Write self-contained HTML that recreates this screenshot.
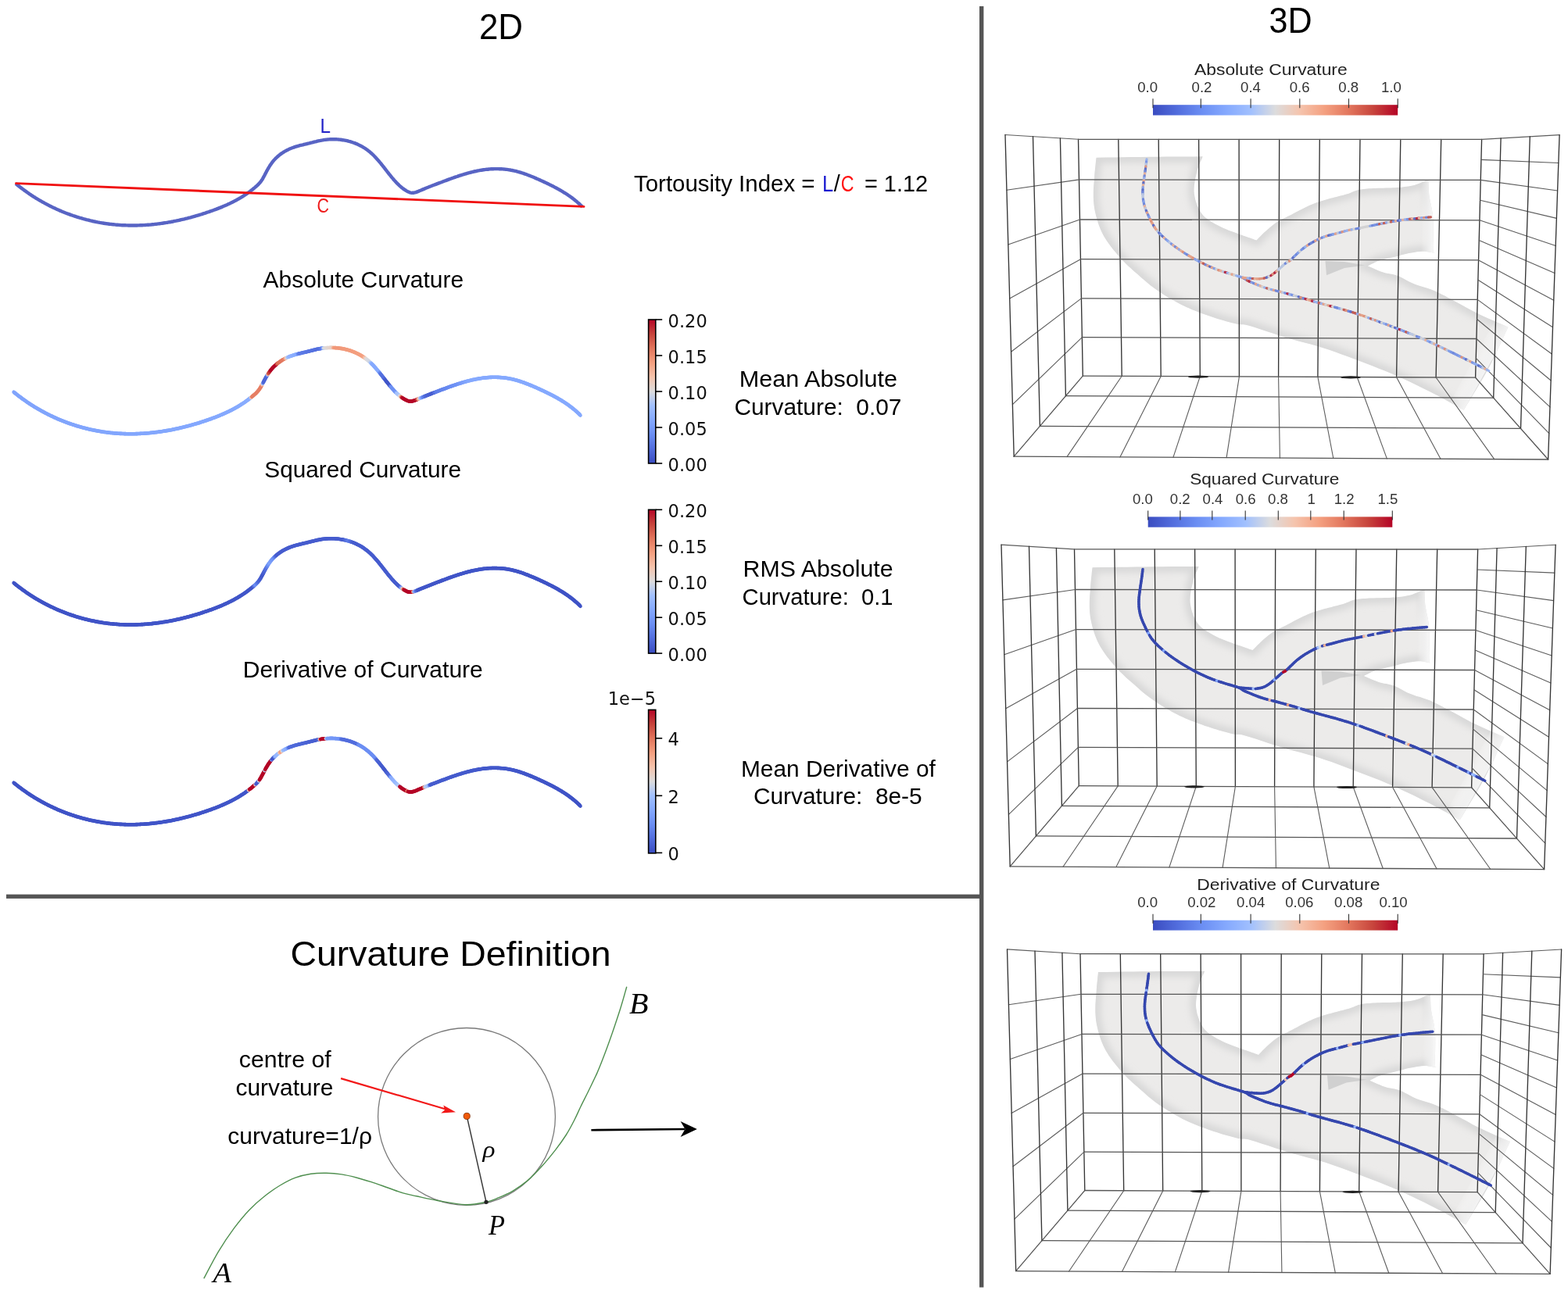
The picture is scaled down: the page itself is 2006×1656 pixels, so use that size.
<!DOCTYPE html><html><head><meta charset="utf-8"><style>html,body{margin:0;padding:0;background:#fff;width:2006px;height:1656px;overflow:hidden}svg{display:block}</style></head><body><svg xmlns="http://www.w3.org/2000/svg" width="2006" height="1656" viewBox="0 0 2006 1656"><defs><linearGradient id="cbv" x1="0" y1="1" x2="0" y2="0"><stop offset="0.00" stop-color="#3a4cc0"/><stop offset="0.10" stop-color="#526ddd"/><stop offset="0.20" stop-color="#6b8ef3"/><stop offset="0.30" stop-color="#85a9fe"/><stop offset="0.40" stop-color="#a1c0fe"/><stop offset="0.50" stop-color="#dcdcdd"/><stop offset="0.60" stop-color="#f5c4ad"/><stop offset="0.70" stop-color="#f4a080"/><stop offset="0.80" stop-color="#e2765d"/><stop offset="0.90" stop-color="#c7443c"/><stop offset="1.00" stop-color="#b40426"/></linearGradient><filter id="bl" x="-10%" y="-10%" width="120%" height="120%"><feGaussianBlur stdDeviation="4"/></filter><linearGradient id="cbh" x1="0" y1="0" x2="1" y2="0"><stop offset="0.00" stop-color="#3a4cc0"/><stop offset="0.10" stop-color="#526ddd"/><stop offset="0.20" stop-color="#6b8ef3"/><stop offset="0.30" stop-color="#85a9fe"/><stop offset="0.40" stop-color="#a1c0fe"/><stop offset="0.50" stop-color="#dcdcdd"/><stop offset="0.60" stop-color="#f5c4ad"/><stop offset="0.70" stop-color="#f4a080"/><stop offset="0.80" stop-color="#e2765d"/><stop offset="0.90" stop-color="#c7443c"/><stop offset="1.00" stop-color="#b40426"/></linearGradient><clipPath id="tclip"><path d="M1402.5,201.7 L1413.7,201.5 L1425.0,201.4 L1436.2,201.2 L1447.4,201.1 L1458.7,200.9 L1470.0,200.8 L1481.4,200.7 L1492.8,200.6 L1504.3,200.5 L1515.8,200.5 L1527.2,200.4 L1538.7,200.3 L1537.6,202.9 L1536.5,205.4 L1535.3,207.9 L1534.2,210.5 L1533.2,213.2 L1532.2,216.2 L1531.3,219.6 L1530.4,223.3 L1529.5,227.2 L1528.8,231.1 L1528.2,234.7 L1527.8,238.0 L1527.6,240.8 L1527.5,243.4 L1527.6,245.7 L1527.8,247.9 L1528.2,250.2 L1528.6,252.5 L1529.1,255.0 L1529.8,257.4 L1530.6,259.9 L1531.5,262.4 L1532.5,264.8 L1533.6,267.0 L1534.7,269.1 L1535.8,271.1 L1537.1,273.0 L1538.5,274.8 L1540.2,276.7 L1542.3,278.6 L1544.8,280.6 L1547.7,282.5 L1550.9,284.5 L1554.3,286.5 L1557.8,288.3 L1561.2,290.1 L1564.7,291.8 L1568.5,293.3 L1572.3,294.9 L1576.1,296.3 L1579.7,297.6 L1582.9,298.8 L1585.8,299.9 L1588.4,300.8 L1590.9,301.7 L1593.2,302.4 L1595.3,303.2 L1597.4,303.9 L1599.3,304.6 L1601.1,305.2 L1602.7,305.8 L1604.3,306.4 L1605.9,306.9 L1607.5,307.5 L1609.4,305.6 L1611.3,303.6 L1613.1,301.7 L1615.0,299.8 L1617.0,297.8 L1619.1,295.9 L1621.3,293.9 L1623.6,291.9 L1626.0,289.9 L1628.5,287.9 L1631.0,286.1 L1633.6,284.3 L1636.2,282.7 L1639.0,281.2 L1641.8,279.8 L1644.6,278.5 L1647.3,277.1 L1650.0,275.8 L1652.6,274.4 L1655.1,273.1 L1657.5,271.8 L1660.0,270.4 L1662.4,269.2 L1664.9,267.9 L1667.4,266.7 L1669.9,265.4 L1672.4,264.2 L1674.9,263.1 L1677.4,261.9 L1679.9,260.9 L1682.4,259.9 L1684.9,259.0 L1687.4,258.2 L1689.8,257.4 L1692.3,256.7 L1694.8,255.9 L1697.3,255.2 L1699.8,254.5 L1702.3,253.8 L1704.8,253.2 L1707.3,252.6 L1709.8,251.9 L1712.3,251.2 L1715.0,250.6 L1717.6,249.9 L1720.1,249.2 L1722.5,248.6 L1724.7,247.9 L1726.7,247.2 L1728.4,246.5 L1730.0,245.8 L1731.5,245.1 L1733.1,244.5 L1734.7,243.9 L1736.3,243.4 L1737.9,243.0 L1739.4,242.7 L1741.0,242.4 L1742.7,242.2 L1744.7,241.9 L1746.8,241.7 L1749.1,241.5 L1751.5,241.3 L1754.1,241.2 L1756.8,241.0 L1759.6,240.9 L1762.7,240.8 L1766.1,240.7 L1769.6,240.7 L1773.1,240.6 L1776.5,240.5 L1779.6,240.4 L1782.4,240.3 L1784.9,240.2 L1787.4,240.0 L1789.7,239.9 L1792.1,239.7 L1794.5,239.4 L1797.0,239.1 L1799.5,238.8 L1802.0,238.5 L1804.5,238.0 L1807.0,237.5 L1809.5,236.9 L1812.1,236.1 L1814.9,235.0 L1817.7,233.9 L1820.3,232.7 L1822.6,231.7 L1824.4,231.0 L1825.6,230.5 L1826.3,230.3 L1826.6,230.2 L1826.8,230.2 L1827.0,230.1 L1827.4,230.0 L1827.5,233.2 L1827.6,236.3 L1827.7,239.3 L1827.8,242.5 L1828.0,246.0 L1828.4,249.9 L1829.1,254.2 L1830.0,258.8 L1831.0,263.6 L1832.0,268.7 L1832.8,274.1 L1833.4,279.8 L1833.7,286.3 L1833.7,293.7 L1833.6,301.4 L1833.4,308.7 L1833.3,315.0 L1833.4,319.7 L1833.6,322.4 L1833.9,323.7 L1834.3,323.9 L1834.7,323.7 L1835.0,323.4 L1835.4,323.7 L1832.8,323.3 L1830.3,322.8 L1827.7,322.4 L1825.1,322.0 L1822.4,321.7 L1819.5,321.7 L1816.3,321.9 L1812.8,322.3 L1809.2,322.9 L1805.7,323.5 L1802.4,324.1 L1799.5,324.7 L1797.2,325.2 L1795.4,325.7 L1793.8,326.1 L1792.2,326.6 L1790.2,327.2 L1787.7,327.9 L1784.4,328.7 L1780.5,329.5 L1776.3,330.5 L1772.1,331.4 L1768.1,332.5 L1764.6,333.5 L1761.7,334.6 L1759.1,335.7 L1756.7,336.9 L1754.4,338.1 L1752.2,339.2 L1749.8,340.4 L1753.1,341.8 L1756.5,343.3 L1759.8,344.8 L1763.1,346.2 L1766.4,347.5 L1769.6,348.6 L1772.7,349.5 L1775.6,350.1 L1778.5,350.5 L1781.5,351.1 L1784.5,351.8 L1787.7,352.8 L1791.1,354.2 L1794.6,356.0 L1798.2,357.9 L1801.8,359.9 L1805.6,361.8 L1809.5,363.5 L1813.5,365.0 L1817.5,366.3 L1821.7,367.5 L1825.9,368.8 L1830.3,370.3 L1834.7,372.0 L1839.2,374.1 L1843.9,376.4 L1848.7,378.8 L1853.5,381.4 L1858.3,384.0 L1863.1,386.5 L1867.7,389.0 L1872.2,391.4 L1876.7,393.9 L1881.3,396.5 L1886.2,399.1 L1891.5,401.7 L1897.3,404.4 L1903.4,407.2 L1909.9,410.1 L1916.4,413.0 L1923.0,415.8 L1929.4,418.7 L1925.4,427.2 L1921.6,435.7 L1917.7,444.1 L1913.7,452.6 L1909.5,461.2 L1905.0,470.0 L1900.1,478.9 L1894.8,488.0 L1889.3,497.2 L1883.7,506.4 L1878.1,515.6 L1872.6,524.8 L1866.4,521.4 L1860.3,517.9 L1854.2,514.5 L1848.0,511.1 L1841.6,507.6 L1834.7,504.0 L1827.3,500.3 L1819.6,496.4 L1811.6,492.5 L1803.4,488.6 L1795.3,484.8 L1787.3,481.2 L1779.4,477.8 L1771.5,474.5 L1763.6,471.4 L1755.8,468.3 L1747.9,465.3 L1740.0,462.3 L1732.1,459.3 L1724.2,456.3 L1716.3,453.4 L1708.4,450.5 L1700.5,447.8 L1692.6,445.2 L1684.7,442.8 L1676.8,440.6 L1668.9,438.5 L1661.0,436.4 L1653.1,434.3 L1645.2,432.0 L1636.9,429.4 L1628.2,426.6 L1619.5,423.7 L1611.3,421.0 L1603.9,418.6 L1597.9,416.8 L1593.6,415.7 L1590.8,415.3 L1588.8,415.2 L1587.2,415.3 L1585.4,415.2 L1582.9,414.8 L1579.7,414.1 L1576.2,413.2 L1572.5,412.2 L1568.7,411.2 L1564.9,410.1 L1561.2,409.0 L1557.6,407.9 L1553.9,406.7 L1550.3,405.5 L1546.7,404.3 L1543.0,403.0 L1539.4,401.7 L1535.8,400.4 L1532.2,399.0 L1528.5,397.6 L1524.9,396.2 L1521.3,394.6 L1517.7,393.0 L1514.1,391.3 L1510.4,389.5 L1506.8,387.6 L1503.2,385.6 L1499.5,383.5 L1495.9,381.4 L1492.2,379.2 L1488.6,376.9 L1484.9,374.5 L1481.2,372.0 L1477.6,369.5 L1474.2,367.0 L1470.9,364.4 L1467.7,361.8 L1464.5,359.1 L1461.5,356.4 L1458.4,353.7 L1455.4,351.0 L1452.4,348.4 L1449.5,345.9 L1446.6,343.3 L1443.7,340.7 L1440.9,338.0 L1438.0,335.1 L1435.0,332.0 L1432.0,328.6 L1428.9,325.1 L1426.0,321.6 L1423.2,318.2 L1420.6,314.8 L1418.3,311.6 L1416.1,308.5 L1414.2,305.4 L1412.3,302.4 L1410.6,299.2 L1409.0,295.9 L1407.5,292.4 L1406.1,288.9 L1404.8,285.2 L1403.6,281.5 L1402.6,277.8 L1401.7,274.2 L1400.9,270.7 L1400.2,267.2 L1399.7,263.8 L1399.3,260.3 L1399.0,256.5 L1398.8,252.5 L1398.8,248.0 L1398.9,243.1 L1399.2,238.0 L1399.6,232.9 L1400.0,228.0 L1400.3,223.5 L1400.6,219.4 L1401.0,215.7 L1401.4,212.2 L1401.7,208.7 L1402.1,205.3Z"/></clipPath><linearGradient id="capg1" gradientUnits="userSpaceOnUse" x1="1880" y1="461" x2="1903" y2="473.5"><stop offset="0" stop-color="#fff" stop-opacity="0"/><stop offset="1" stop-color="#fafafa" stop-opacity="0.85"/></linearGradient><linearGradient id="capg2" gradientUnits="userSpaceOnUse" x1="1818" y1="0" x2="1832" y2="0"><stop offset="0" stop-color="#fff" stop-opacity="0"/><stop offset="1" stop-color="#fafafa" stop-opacity="0.85"/></linearGradient></defs><rect width="100%" height="100%" fill="#fff"/><rect x="1253" y="8" width="5.4" height="1639.5" fill="#555"/>
<rect x="8" y="1144.6" width="1247" height="5.3" fill="#555"/>
<text x="612.9" y="50.3" font-size="47.0" fill="#000" font-family="Liberation Sans, Arial, sans-serif" textLength="56.1" lengthAdjust="spacingAndGlyphs" >2D</text>
<text x="1623.5" y="42.0" font-size="47.0" fill="#000" font-family="Liberation Sans, Arial, sans-serif" textLength="55.1" lengthAdjust="spacingAndGlyphs" >3D</text>
<path d="M20.1,235.0 L21.2,235.9 L22.2,236.7 L23.3,237.6 L24.4,238.4 L25.4,239.3 L26.5,240.1 L27.6,240.9 L28.7,241.7 L29.8,242.5 L30.9,243.4 L32.0,244.2 L33.1,244.9 L34.2,245.7 L35.3,246.5 L36.4,247.3 L37.5,248.1 L38.7,248.8 L39.8,249.6 L40.9,250.3 L42.1,251.1 L43.2,251.8 L44.4,252.5 L45.5,253.3 L46.7,254.0 L47.8,254.7 L49.0,255.4 L50.2,256.1 L51.4,256.8 L52.5,257.4 L53.7,258.1 L54.9,258.8 L56.1,259.4 L57.3,260.1 L58.5,260.7 L59.7,261.4 L60.9,262.0 L62.1,262.6 L63.3,263.3 L64.6,263.9 L65.8,264.5 L67.0,265.1 L68.2,265.7 L69.5,266.2 L70.7,266.8 L71.9,267.4 L73.2,268.0 L74.4,268.5 L75.7,269.1 L76.9,269.6 L78.2,270.1 L79.4,270.7 L80.7,271.2 L82.0,271.7 L83.2,272.2 L84.5,272.7 L85.8,273.2 L87.0,273.7 L88.3,274.1 L89.6,274.6 L90.9,275.1 L92.2,275.5 L93.5,276.0 L94.8,276.4 L96.1,276.8 L97.3,277.2 L98.6,277.7 L99.9,278.1 L101.3,278.5 L102.6,278.9 L103.9,279.2 L105.2,279.6 L106.5,280.0 L107.8,280.4 L109.1,280.7 L110.4,281.1 L111.8,281.4 L113.1,281.7 L114.4,282.0 L115.7,282.4 L117.1,282.7 L118.4,283.0 L119.7,283.3 L121.0,283.5 L122.4,283.8 L123.7,284.1 L125.1,284.4 L126.4,284.6 L127.7,284.9 L129.1,285.1 L130.4,285.3 L131.8,285.5 L133.1,285.8 L134.5,286.0 L135.8,286.2 L137.2,286.3 L138.5,286.5 L139.9,286.7 L141.2,286.9 L142.6,287.0 L143.9,287.2 L145.3,287.3 L146.6,287.4 L148.0,287.6 L149.3,287.7 L150.7,287.8 L152.0,287.9 L153.4,288.0 L154.8,288.1 L156.1,288.2 L157.5,288.2 L158.8,288.3 L160.2,288.3 L161.6,288.4 L162.9,288.4 L164.3,288.5 L165.7,288.5 L167.0,288.5 L168.4,288.5 L169.7,288.5 L171.1,288.5 L172.5,288.5 L173.8,288.5 L175.2,288.5 L176.6,288.4 L177.9,288.4 L179.3,288.3 L180.6,288.3 L182.0,288.2 L183.4,288.1 L184.7,288.1 L186.1,288.0 L187.4,287.9 L188.8,287.8 L190.2,287.7 L191.5,287.6 L192.9,287.5 L194.2,287.3 L195.6,287.2 L196.9,287.1 L198.3,286.9 L199.7,286.8 L201.0,286.6 L202.4,286.4 L203.7,286.3 L205.1,286.1 L206.4,285.9 L207.8,285.7 L209.1,285.5 L210.5,285.3 L211.8,285.1 L213.1,284.9 L214.5,284.7 L215.8,284.4 L217.2,284.2 L218.5,284.0 L219.8,283.7 L221.2,283.5 L222.5,283.2 L223.9,282.9 L225.2,282.7 L226.5,282.4 L227.9,282.1 L229.2,281.8 L230.5,281.5 L231.8,281.2 L233.2,280.9 L234.5,280.6 L235.8,280.3 L237.2,279.9 L238.5,279.6 L239.8,279.3 L241.1,278.9 L242.4,278.6 L243.8,278.3 L245.1,277.9 L246.4,277.5 L247.7,277.2 L249.0,276.8 L250.3,276.4 L251.6,276.0 L252.9,275.7 L254.2,275.3 L255.5,274.9 L256.9,274.5 L258.2,274.1 L259.5,273.6 L260.8,273.2 L262.1,272.8 L263.3,272.4 L264.6,271.9 L265.9,271.5 L267.2,271.1 L268.5,270.6 L269.8,270.2 L271.1,269.7 L272.4,269.3 L273.7,268.8 L274.9,268.3 L276.2,267.9 L277.5,267.4 L278.8,266.9 L280.0,266.4 L281.3,265.9 L282.6,265.4 L283.8,264.9 L285.1,264.3 L286.3,263.8 L287.6,263.3 L288.8,262.7 L290.1,262.2 L291.3,261.6 L292.6,261.0 L293.8,260.5 L295.0,259.9 L296.2,259.3 L297.4,258.7 L298.7,258.1 L299.9,257.4 L301.1,256.8 L302.3,256.2 L303.4,255.5 L304.6,254.8 L305.8,254.2 L307.0,253.5 L308.1,252.8 L309.3,252.1 L310.5,251.3 L311.6,250.6 L312.7,249.9 L313.9,249.1 L315.0,248.4 L316.1,247.6 L317.2,246.8 L318.4,246.0 L319.5,245.2 L320.5,244.4 L321.6,243.5 L322.7,242.7 L323.8,241.9 L324.8,241.0 L325.9,240.1 L326.9,239.2 L328.0,238.3 L329.0,237.4 L330.0,236.5 L330.9,235.5 L331.8,234.5 L332.7,233.5 L333.6,232.4 L334.4,231.3 L335.1,230.2 L335.9,229.1 L336.5,227.9 L337.2,226.7 L337.8,225.5 L338.5,224.3 L339.1,223.1 L339.7,221.9 L340.4,220.6 L341.0,219.4 L341.7,218.2 L342.3,217.0 L343.0,215.8 L343.7,214.7 L344.4,213.5 L345.1,212.3 L345.8,211.2 L346.6,210.1 L347.4,209.0 L348.2,207.9 L349.0,206.8 L349.9,205.8 L350.7,204.7 L351.7,203.7 L352.6,202.7 L353.6,201.8 L354.6,200.9 L355.6,200.0 L356.6,199.1 L357.7,198.2 L358.8,197.4 L359.9,196.6 L361.0,195.8 L362.2,195.1 L363.3,194.3 L364.5,193.6 L365.7,193.0 L366.9,192.3 L368.2,191.7 L369.4,191.1 L370.6,190.5 L371.9,190.0 L373.2,189.5 L374.4,189.0 L375.7,188.6 L377.0,188.1 L378.3,187.7 L379.6,187.3 L380.9,186.9 L382.2,186.6 L383.5,186.2 L384.8,185.9 L386.1,185.6 L387.5,185.3 L388.8,184.9 L390.1,184.6 L391.4,184.3 L392.8,184.0 L394.1,183.7 L395.4,183.4 L396.7,183.0 L398.0,182.7 L399.4,182.4 L400.7,182.0 L402.0,181.7 L403.3,181.4 L404.7,181.1 L406.0,180.7 L407.3,180.4 L408.6,180.1 L410.0,179.9 L411.3,179.6 L412.7,179.4 L414.0,179.1 L415.3,178.9 L416.7,178.8 L418.1,178.6 L419.4,178.5 L420.8,178.4 L422.2,178.3 L423.5,178.3 L424.9,178.2 L426.3,178.2 L427.6,178.2 L429.0,178.3 L430.4,178.3 L431.8,178.4 L433.1,178.5 L434.5,178.6 L435.9,178.8 L437.2,179.0 L438.6,179.2 L439.9,179.4 L441.3,179.6 L442.6,179.9 L444.0,180.2 L445.3,180.5 L446.6,180.9 L447.9,181.2 L449.2,181.6 L450.5,182.0 L451.8,182.5 L453.1,182.9 L454.4,183.4 L455.6,183.9 L456.9,184.4 L458.1,185.0 L459.3,185.6 L460.5,186.2 L461.7,186.8 L462.9,187.4 L464.1,188.1 L465.3,188.8 L466.4,189.5 L467.5,190.2 L468.6,191.0 L469.7,191.8 L470.8,192.6 L471.8,193.4 L472.9,194.2 L473.9,195.1 L474.9,196.0 L475.9,196.9 L476.9,197.8 L477.9,198.8 L478.8,199.7 L479.8,200.7 L480.7,201.7 L481.6,202.7 L482.5,203.7 L483.4,204.7 L484.3,205.8 L485.2,206.8 L486.1,207.9 L487.0,208.9 L487.8,210.0 L488.7,211.1 L489.6,212.2 L490.4,213.3 L491.3,214.3 L492.1,215.4 L493.0,216.5 L493.8,217.6 L494.7,218.7 L495.5,219.8 L496.4,220.9 L497.2,222.0 L498.1,223.1 L499.0,224.2 L499.8,225.2 L500.7,226.3 L501.6,227.4 L502.5,228.4 L503.3,229.4 L504.2,230.5 L505.2,231.5 L506.1,232.5 L507.0,233.5 L507.9,234.5 L508.9,235.4 L509.9,236.4 L510.8,237.3 L511.8,238.2 L512.9,239.1 L513.9,240.0 L514.9,240.8 L516.0,241.6 L517.1,242.4 L518.3,243.2 L519.4,243.9 L520.6,244.6 L521.8,245.2 L523.1,245.8 L524.3,246.3 L525.6,246.6 L526.9,246.8 L528.2,246.8 L529.5,246.7 L530.8,246.4 L532.0,246.1 L533.3,245.6 L534.6,245.1 L535.9,244.6 L537.2,244.0 L538.5,243.5 L539.8,242.9 L541.1,242.4 L542.4,241.9 L543.7,241.3 L544.9,240.8 L546.2,240.3 L547.5,239.8 L548.7,239.3 L550.0,238.8 L551.3,238.3 L552.5,237.8 L553.8,237.3 L555.1,236.8 L556.3,236.3 L557.6,235.9 L558.8,235.4 L560.1,234.9 L561.4,234.4 L562.6,233.9 L563.9,233.5 L565.2,233.0 L566.4,232.5 L567.7,232.0 L569.0,231.5 L570.2,231.1 L571.5,230.6 L572.8,230.1 L574.1,229.6 L575.3,229.2 L576.6,228.7 L577.9,228.2 L579.2,227.8 L580.5,227.3 L581.8,226.9 L583.1,226.4 L584.4,226.0 L585.6,225.6 L586.9,225.1 L588.2,224.7 L589.5,224.3 L590.8,223.9 L592.1,223.5 L593.4,223.1 L594.8,222.7 L596.1,222.3 L597.4,221.9 L598.7,221.5 L600.0,221.2 L601.3,220.8 L602.6,220.5 L604.0,220.2 L605.3,219.8 L606.6,219.5 L607.9,219.2 L609.3,219.0 L610.6,218.7 L612.0,218.4 L613.3,218.2 L614.6,217.9 L616.0,217.7 L617.3,217.5 L618.7,217.3 L620.0,217.1 L621.4,216.9 L622.7,216.8 L624.1,216.7 L625.5,216.5 L626.8,216.4 L628.2,216.3 L629.5,216.2 L630.9,216.2 L632.3,216.1 L633.6,216.1 L635.0,216.1 L636.4,216.1 L637.7,216.1 L639.1,216.2 L640.5,216.2 L641.8,216.3 L643.2,216.4 L644.6,216.5 L645.9,216.6 L647.3,216.8 L648.6,216.9 L650.0,217.1 L651.3,217.3 L652.6,217.5 L654.0,217.8 L655.3,218.0 L656.6,218.3 L658.0,218.6 L659.3,218.9 L660.6,219.2 L661.9,219.6 L663.2,219.9 L664.5,220.3 L665.8,220.7 L667.1,221.1 L668.4,221.5 L669.7,221.9 L671.0,222.4 L672.3,222.8 L673.6,223.3 L674.8,223.8 L676.1,224.3 L677.4,224.7 L678.7,225.3 L679.9,225.8 L681.2,226.3 L682.5,226.8 L683.7,227.3 L685.0,227.9 L686.2,228.4 L687.5,229.0 L688.8,229.5 L690.0,230.1 L691.3,230.6 L692.5,231.2 L693.8,231.8 L695.0,232.4 L696.2,232.9 L697.5,233.5 L698.7,234.1 L700.0,234.7 L701.2,235.3 L702.4,235.9 L703.6,236.5 L704.9,237.1 L706.1,237.7 L707.3,238.3 L708.5,238.9 L709.7,239.6 L710.9,240.2 L712.1,240.8 L713.3,241.5 L714.5,242.1 L715.7,242.8 L716.9,243.5 L718.0,244.2 L719.2,244.9 L720.4,245.6 L721.5,246.3 L722.7,247.0 L723.8,247.7 L725.0,248.5 L726.1,249.2 L727.2,250.0 L728.3,250.7 L729.4,251.5 L730.5,252.3 L731.6,253.1 L732.7,253.9 L733.8,254.8 L734.9,255.6 L735.9,256.5 L737.0,257.3 L738.0,258.2 L739.0,259.1 L740.1,260.0 L741.1,260.9 L742.1,261.9 L743.1,262.8 L744.1,263.8 L745.0,264.8" fill="none" stroke="#5864c4" stroke-width="4.4" stroke-linecap="butt" stroke-linejoin="round"/>
<line x1="20.5" y1="234.6" x2="747" y2="264.4" stroke="#f01010" stroke-width="2.9" stroke-linecap="round"/>
<text x="409.5" y="169.8" font-size="25.0" fill="#2222c8" font-family="Liberation Sans, Arial, sans-serif" textLength="13.5" lengthAdjust="spacingAndGlyphs" >L</text>
<text x="405.5" y="271.8" font-size="25.0" fill="#ee1c1c" font-family="Liberation Sans, Arial, sans-serif" textLength="15.5" lengthAdjust="spacingAndGlyphs" >C</text>
<g stroke-width="4.6" stroke-linecap="round"><line x1="17.6" y1="501.7" x2="18.7" y2="502.6" stroke="#80a4fc"/><line x1="18.7" y1="502.6" x2="19.7" y2="503.4" stroke="#80a4fc"/><line x1="19.7" y1="503.4" x2="20.8" y2="504.3" stroke="#80a4fc"/><line x1="20.8" y1="504.3" x2="21.9" y2="505.1" stroke="#80a4fc"/><line x1="21.9" y1="505.1" x2="22.9" y2="506.0" stroke="#80a4fc"/><line x1="22.9" y1="506.0" x2="24.0" y2="506.8" stroke="#80a4fc"/><line x1="24.0" y1="506.8" x2="25.1" y2="507.6" stroke="#80a4fc"/><line x1="25.1" y1="507.6" x2="26.2" y2="508.4" stroke="#80a4fc"/><line x1="26.2" y1="508.4" x2="27.3" y2="509.2" stroke="#80a4fc"/><line x1="27.3" y1="509.2" x2="28.4" y2="510.1" stroke="#80a4fc"/><line x1="28.4" y1="510.1" x2="29.5" y2="510.9" stroke="#80a4fc"/><line x1="29.5" y1="510.9" x2="30.6" y2="511.6" stroke="#80a4fc"/><line x1="30.6" y1="511.6" x2="31.7" y2="512.4" stroke="#80a4fc"/><line x1="31.7" y1="512.4" x2="32.8" y2="513.2" stroke="#80a4fc"/><line x1="32.8" y1="513.2" x2="33.9" y2="514.0" stroke="#80a4fc"/><line x1="33.9" y1="514.0" x2="35.0" y2="514.8" stroke="#80a4fc"/><line x1="35.0" y1="514.8" x2="36.2" y2="515.5" stroke="#80a4fc"/><line x1="36.2" y1="515.5" x2="37.3" y2="516.3" stroke="#80a4fc"/><line x1="37.3" y1="516.3" x2="38.4" y2="517.0" stroke="#80a4fc"/><line x1="38.4" y1="517.0" x2="39.6" y2="517.8" stroke="#80a4fc"/><line x1="39.6" y1="517.8" x2="40.7" y2="518.5" stroke="#80a4fc"/><line x1="40.7" y1="518.5" x2="41.9" y2="519.2" stroke="#81a4fc"/><line x1="41.9" y1="519.2" x2="43.0" y2="520.0" stroke="#81a4fc"/><line x1="43.0" y1="520.0" x2="44.2" y2="520.7" stroke="#81a4fc"/><line x1="44.2" y1="520.7" x2="45.3" y2="521.4" stroke="#81a4fc"/><line x1="45.3" y1="521.4" x2="46.5" y2="522.1" stroke="#81a4fc"/><line x1="46.5" y1="522.1" x2="47.7" y2="522.8" stroke="#81a4fc"/><line x1="47.7" y1="522.8" x2="48.9" y2="523.5" stroke="#81a4fc"/><line x1="48.9" y1="523.5" x2="50.0" y2="524.1" stroke="#81a4fc"/><line x1="50.0" y1="524.1" x2="51.2" y2="524.8" stroke="#81a5fc"/><line x1="51.2" y1="524.8" x2="52.4" y2="525.5" stroke="#81a5fc"/><line x1="52.4" y1="525.5" x2="53.6" y2="526.1" stroke="#81a5fc"/><line x1="53.6" y1="526.1" x2="54.8" y2="526.8" stroke="#81a5fc"/><line x1="54.8" y1="526.8" x2="56.0" y2="527.4" stroke="#81a5fc"/><line x1="56.0" y1="527.4" x2="57.2" y2="528.1" stroke="#81a5fc"/><line x1="57.2" y1="528.1" x2="58.4" y2="528.7" stroke="#81a5fc"/><line x1="58.4" y1="528.7" x2="59.6" y2="529.3" stroke="#81a5fc"/><line x1="59.6" y1="529.3" x2="60.8" y2="530.0" stroke="#81a5fc"/><line x1="60.8" y1="530.0" x2="62.1" y2="530.6" stroke="#81a5fc"/><line x1="62.1" y1="530.6" x2="63.3" y2="531.2" stroke="#81a5fc"/><line x1="63.3" y1="531.2" x2="64.5" y2="531.8" stroke="#81a5fc"/><line x1="64.5" y1="531.8" x2="65.7" y2="532.4" stroke="#81a5fc"/><line x1="65.7" y1="532.4" x2="67.0" y2="532.9" stroke="#81a5fc"/><line x1="67.0" y1="532.9" x2="68.2" y2="533.5" stroke="#81a5fc"/><line x1="68.2" y1="533.5" x2="69.4" y2="534.1" stroke="#81a5fc"/><line x1="69.4" y1="534.1" x2="70.7" y2="534.7" stroke="#81a5fc"/><line x1="70.7" y1="534.7" x2="71.9" y2="535.2" stroke="#81a5fc"/><line x1="71.9" y1="535.2" x2="73.2" y2="535.8" stroke="#81a5fc"/><line x1="73.2" y1="535.8" x2="74.4" y2="536.3" stroke="#81a5fc"/><line x1="74.4" y1="536.3" x2="75.7" y2="536.8" stroke="#81a5fc"/><line x1="75.7" y1="536.8" x2="76.9" y2="537.4" stroke="#81a5fc"/><line x1="76.9" y1="537.4" x2="78.2" y2="537.9" stroke="#81a5fc"/><line x1="78.2" y1="537.9" x2="79.5" y2="538.4" stroke="#81a5fc"/><line x1="79.5" y1="538.4" x2="80.7" y2="538.9" stroke="#81a5fc"/><line x1="80.7" y1="538.9" x2="82.0" y2="539.4" stroke="#81a5fc"/><line x1="82.0" y1="539.4" x2="83.3" y2="539.9" stroke="#81a5fc"/><line x1="83.3" y1="539.9" x2="84.5" y2="540.4" stroke="#81a5fc"/><line x1="84.5" y1="540.4" x2="85.8" y2="540.8" stroke="#81a5fc"/><line x1="85.8" y1="540.8" x2="87.1" y2="541.3" stroke="#81a5fc"/><line x1="87.1" y1="541.3" x2="88.4" y2="541.8" stroke="#81a5fc"/><line x1="88.4" y1="541.8" x2="89.7" y2="542.2" stroke="#81a5fc"/><line x1="89.7" y1="542.2" x2="91.0" y2="542.7" stroke="#81a5fc"/><line x1="91.0" y1="542.7" x2="92.3" y2="543.1" stroke="#81a5fc"/><line x1="92.3" y1="543.1" x2="93.6" y2="543.5" stroke="#81a5fc"/><line x1="93.6" y1="543.5" x2="94.8" y2="543.9" stroke="#81a5fc"/><line x1="94.8" y1="543.9" x2="96.1" y2="544.4" stroke="#81a5fd"/><line x1="96.1" y1="544.4" x2="97.4" y2="544.8" stroke="#81a5fd"/><line x1="97.4" y1="544.8" x2="98.8" y2="545.2" stroke="#82a5fd"/><line x1="98.8" y1="545.2" x2="100.1" y2="545.6" stroke="#82a5fd"/><line x1="100.1" y1="545.6" x2="101.4" y2="545.9" stroke="#82a5fd"/><line x1="101.4" y1="545.9" x2="102.7" y2="546.3" stroke="#82a5fd"/><line x1="102.7" y1="546.3" x2="104.0" y2="546.7" stroke="#82a5fd"/><line x1="104.0" y1="546.7" x2="105.3" y2="547.1" stroke="#82a5fd"/><line x1="105.3" y1="547.1" x2="106.6" y2="547.4" stroke="#82a6fd"/><line x1="106.6" y1="547.4" x2="107.9" y2="547.8" stroke="#82a6fd"/><line x1="107.9" y1="547.8" x2="109.3" y2="548.1" stroke="#82a6fd"/><line x1="109.3" y1="548.1" x2="110.6" y2="548.4" stroke="#82a6fd"/><line x1="110.6" y1="548.4" x2="111.9" y2="548.7" stroke="#82a6fd"/><line x1="111.9" y1="548.7" x2="113.2" y2="549.1" stroke="#82a6fd"/><line x1="113.2" y1="549.1" x2="114.6" y2="549.4" stroke="#82a6fd"/><line x1="114.6" y1="549.4" x2="115.9" y2="549.7" stroke="#82a6fd"/><line x1="115.9" y1="549.7" x2="117.2" y2="550.0" stroke="#82a6fd"/><line x1="117.2" y1="550.0" x2="118.5" y2="550.2" stroke="#82a6fd"/><line x1="118.5" y1="550.2" x2="119.9" y2="550.5" stroke="#82a6fd"/><line x1="119.9" y1="550.5" x2="121.2" y2="550.8" stroke="#82a6fd"/><line x1="121.2" y1="550.8" x2="122.6" y2="551.1" stroke="#82a6fd"/><line x1="122.6" y1="551.1" x2="123.9" y2="551.3" stroke="#82a6fd"/><line x1="123.9" y1="551.3" x2="125.2" y2="551.6" stroke="#82a6fd"/><line x1="125.2" y1="551.6" x2="126.6" y2="551.8" stroke="#82a6fd"/><line x1="126.6" y1="551.8" x2="127.9" y2="552.0" stroke="#82a6fd"/><line x1="127.9" y1="552.0" x2="129.3" y2="552.2" stroke="#82a6fd"/><line x1="129.3" y1="552.2" x2="130.6" y2="552.5" stroke="#82a6fd"/><line x1="130.6" y1="552.5" x2="132.0" y2="552.7" stroke="#82a6fd"/><line x1="132.0" y1="552.7" x2="133.3" y2="552.9" stroke="#82a6fd"/><line x1="133.3" y1="552.9" x2="134.7" y2="553.0" stroke="#82a6fd"/><line x1="134.7" y1="553.0" x2="136.0" y2="553.2" stroke="#82a6fd"/><line x1="136.0" y1="553.2" x2="137.4" y2="553.4" stroke="#82a6fd"/><line x1="137.4" y1="553.4" x2="138.7" y2="553.6" stroke="#82a6fd"/><line x1="138.7" y1="553.6" x2="140.1" y2="553.7" stroke="#82a6fd"/><line x1="140.1" y1="553.7" x2="141.4" y2="553.9" stroke="#82a6fd"/><line x1="141.4" y1="553.9" x2="142.8" y2="554.0" stroke="#82a6fd"/><line x1="142.8" y1="554.0" x2="144.1" y2="554.1" stroke="#82a6fd"/><line x1="144.1" y1="554.1" x2="145.5" y2="554.3" stroke="#82a6fd"/><line x1="145.5" y1="554.3" x2="146.8" y2="554.4" stroke="#82a6fd"/><line x1="146.8" y1="554.4" x2="148.2" y2="554.5" stroke="#82a6fd"/><line x1="148.2" y1="554.5" x2="149.5" y2="554.6" stroke="#82a6fd"/><line x1="149.5" y1="554.6" x2="150.9" y2="554.7" stroke="#82a6fd"/><line x1="150.9" y1="554.7" x2="152.3" y2="554.8" stroke="#82a6fd"/><line x1="152.3" y1="554.8" x2="153.6" y2="554.9" stroke="#82a6fd"/><line x1="153.6" y1="554.9" x2="155.0" y2="554.9" stroke="#82a6fd"/><line x1="155.0" y1="554.9" x2="156.3" y2="555.0" stroke="#82a6fd"/><line x1="156.3" y1="555.0" x2="157.7" y2="555.0" stroke="#83a6fd"/><line x1="157.7" y1="555.0" x2="159.1" y2="555.1" stroke="#83a6fd"/><line x1="159.1" y1="555.1" x2="160.4" y2="555.1" stroke="#83a6fd"/><line x1="160.4" y1="555.1" x2="161.8" y2="555.2" stroke="#83a6fd"/><line x1="161.8" y1="555.2" x2="163.2" y2="555.2" stroke="#83a7fd"/><line x1="163.2" y1="555.2" x2="164.5" y2="555.2" stroke="#83a7fd"/><line x1="164.5" y1="555.2" x2="165.9" y2="555.2" stroke="#83a7fd"/><line x1="165.9" y1="555.2" x2="167.2" y2="555.2" stroke="#83a7fd"/><line x1="167.2" y1="555.2" x2="168.6" y2="555.2" stroke="#83a7fd"/><line x1="168.6" y1="555.2" x2="170.0" y2="555.2" stroke="#83a7fd"/><line x1="170.0" y1="555.2" x2="171.3" y2="555.2" stroke="#83a7fd"/><line x1="171.3" y1="555.2" x2="172.7" y2="555.2" stroke="#83a7fd"/><line x1="172.7" y1="555.2" x2="174.1" y2="555.1" stroke="#83a7fd"/><line x1="174.1" y1="555.1" x2="175.4" y2="555.1" stroke="#83a7fd"/><line x1="175.4" y1="555.1" x2="176.8" y2="555.0" stroke="#83a7fd"/><line x1="176.8" y1="555.0" x2="178.1" y2="555.0" stroke="#83a7fd"/><line x1="178.1" y1="555.0" x2="179.5" y2="554.9" stroke="#83a7fd"/><line x1="179.5" y1="554.9" x2="180.9" y2="554.8" stroke="#83a7fd"/><line x1="180.9" y1="554.8" x2="182.2" y2="554.8" stroke="#83a7fd"/><line x1="182.2" y1="554.8" x2="183.6" y2="554.7" stroke="#83a7fd"/><line x1="183.6" y1="554.7" x2="184.9" y2="554.6" stroke="#83a7fd"/><line x1="184.9" y1="554.6" x2="186.3" y2="554.5" stroke="#83a7fd"/><line x1="186.3" y1="554.5" x2="187.7" y2="554.4" stroke="#83a7fd"/><line x1="187.7" y1="554.4" x2="189.0" y2="554.3" stroke="#83a7fd"/><line x1="189.0" y1="554.3" x2="190.4" y2="554.2" stroke="#83a7fd"/><line x1="190.4" y1="554.2" x2="191.7" y2="554.0" stroke="#83a7fd"/><line x1="191.7" y1="554.0" x2="193.1" y2="553.9" stroke="#83a7fd"/><line x1="193.1" y1="553.9" x2="194.4" y2="553.8" stroke="#83a7fd"/><line x1="194.4" y1="553.8" x2="195.8" y2="553.6" stroke="#83a7fd"/><line x1="195.8" y1="553.6" x2="197.2" y2="553.5" stroke="#83a7fd"/><line x1="197.2" y1="553.5" x2="198.5" y2="553.3" stroke="#83a7fd"/><line x1="198.5" y1="553.3" x2="199.9" y2="553.1" stroke="#83a7fd"/><line x1="199.9" y1="553.1" x2="201.2" y2="553.0" stroke="#83a7fd"/><line x1="201.2" y1="553.0" x2="202.6" y2="552.8" stroke="#83a7fd"/><line x1="202.6" y1="552.8" x2="203.9" y2="552.6" stroke="#83a7fd"/><line x1="203.9" y1="552.6" x2="205.3" y2="552.4" stroke="#83a7fd"/><line x1="205.3" y1="552.4" x2="206.6" y2="552.2" stroke="#83a7fd"/><line x1="206.6" y1="552.2" x2="208.0" y2="552.0" stroke="#83a7fd"/><line x1="208.0" y1="552.0" x2="209.3" y2="551.8" stroke="#83a7fd"/><line x1="209.3" y1="551.8" x2="210.6" y2="551.6" stroke="#83a7fd"/><line x1="210.6" y1="551.6" x2="212.0" y2="551.4" stroke="#83a7fd"/><line x1="212.0" y1="551.4" x2="213.3" y2="551.1" stroke="#83a7fd"/><line x1="213.3" y1="551.1" x2="214.7" y2="550.9" stroke="#84a7fd"/><line x1="214.7" y1="550.9" x2="216.0" y2="550.7" stroke="#84a7fd"/><line x1="216.0" y1="550.7" x2="217.3" y2="550.4" stroke="#84a8fd"/><line x1="217.3" y1="550.4" x2="218.7" y2="550.2" stroke="#84a8fd"/><line x1="218.7" y1="550.2" x2="220.0" y2="549.9" stroke="#84a8fd"/><line x1="220.0" y1="549.9" x2="221.4" y2="549.6" stroke="#84a8fd"/><line x1="221.4" y1="549.6" x2="222.7" y2="549.4" stroke="#84a8fd"/><line x1="222.7" y1="549.4" x2="224.0" y2="549.1" stroke="#84a8fd"/><line x1="224.0" y1="549.1" x2="225.4" y2="548.8" stroke="#84a8fd"/><line x1="225.4" y1="548.8" x2="226.7" y2="548.5" stroke="#84a8fd"/><line x1="226.7" y1="548.5" x2="228.0" y2="548.2" stroke="#84a8fd"/><line x1="228.0" y1="548.2" x2="229.3" y2="547.9" stroke="#84a8fd"/><line x1="229.3" y1="547.9" x2="230.7" y2="547.6" stroke="#84a8fd"/><line x1="230.7" y1="547.6" x2="232.0" y2="547.3" stroke="#84a8fd"/><line x1="232.0" y1="547.3" x2="233.3" y2="547.0" stroke="#84a8fe"/><line x1="233.3" y1="547.0" x2="234.7" y2="546.6" stroke="#84a8fe"/><line x1="234.7" y1="546.6" x2="236.0" y2="546.3" stroke="#84a8fe"/><line x1="236.0" y1="546.3" x2="237.3" y2="546.0" stroke="#84a8fe"/><line x1="237.3" y1="546.0" x2="238.6" y2="545.6" stroke="#84a8fe"/><line x1="238.6" y1="545.6" x2="239.9" y2="545.3" stroke="#84a8fe"/><line x1="239.9" y1="545.3" x2="241.3" y2="545.0" stroke="#84a8fe"/><line x1="241.3" y1="545.0" x2="242.6" y2="544.6" stroke="#84a8fe"/><line x1="242.6" y1="544.6" x2="243.9" y2="544.2" stroke="#84a8fe"/><line x1="243.9" y1="544.2" x2="245.2" y2="543.9" stroke="#84a8fe"/><line x1="245.2" y1="543.9" x2="246.5" y2="543.5" stroke="#84a8fe"/><line x1="246.5" y1="543.5" x2="247.8" y2="543.1" stroke="#84a8fe"/><line x1="247.8" y1="543.1" x2="249.1" y2="542.7" stroke="#84a8fe"/><line x1="249.1" y1="542.7" x2="250.4" y2="542.4" stroke="#84a8fe"/><line x1="250.4" y1="542.4" x2="251.7" y2="542.0" stroke="#84a8fe"/><line x1="251.7" y1="542.0" x2="253.0" y2="541.6" stroke="#84a8fe"/><line x1="253.0" y1="541.6" x2="254.4" y2="541.2" stroke="#84a8fe"/><line x1="254.4" y1="541.2" x2="255.7" y2="540.8" stroke="#84a8fe"/><line x1="255.7" y1="540.8" x2="257.0" y2="540.3" stroke="#84a8fe"/><line x1="257.0" y1="540.3" x2="258.3" y2="539.9" stroke="#84a8fe"/><line x1="258.3" y1="539.9" x2="259.6" y2="539.5" stroke="#84a8fe"/><line x1="259.6" y1="539.5" x2="260.8" y2="539.1" stroke="#84a8fe"/><line x1="260.8" y1="539.1" x2="262.1" y2="538.6" stroke="#84a8fe"/><line x1="262.1" y1="538.6" x2="263.4" y2="538.2" stroke="#84a8fe"/><line x1="263.4" y1="538.2" x2="264.7" y2="537.8" stroke="#84a8fe"/><line x1="264.7" y1="537.8" x2="266.0" y2="537.3" stroke="#84a8fe"/><line x1="266.0" y1="537.3" x2="267.3" y2="536.9" stroke="#84a8fe"/><line x1="267.3" y1="536.9" x2="268.6" y2="536.4" stroke="#84a8fe"/><line x1="268.6" y1="536.4" x2="269.9" y2="536.0" stroke="#84a8fe"/><line x1="269.9" y1="536.0" x2="271.2" y2="535.5" stroke="#84a8fe"/><line x1="271.2" y1="535.5" x2="272.4" y2="535.0" stroke="#85a8fe"/><line x1="272.4" y1="535.0" x2="273.7" y2="534.6" stroke="#85a9fe"/><line x1="273.7" y1="534.6" x2="275.0" y2="534.1" stroke="#85a9fe"/><line x1="275.0" y1="534.1" x2="276.3" y2="533.6" stroke="#85a9fe"/><line x1="276.3" y1="533.6" x2="277.5" y2="533.1" stroke="#85a9fe"/><line x1="277.5" y1="533.1" x2="278.8" y2="532.6" stroke="#85a9fe"/><line x1="278.8" y1="532.6" x2="280.1" y2="532.1" stroke="#85a9fe"/><line x1="280.1" y1="532.1" x2="281.3" y2="531.6" stroke="#85a9fe"/><line x1="281.3" y1="531.6" x2="282.6" y2="531.0" stroke="#85a9fe"/><line x1="282.6" y1="531.0" x2="283.8" y2="530.5" stroke="#85a9fe"/><line x1="283.8" y1="530.5" x2="285.1" y2="530.0" stroke="#85a9fe"/><line x1="285.1" y1="530.0" x2="286.3" y2="529.4" stroke="#85a9fe"/><line x1="286.3" y1="529.4" x2="287.6" y2="528.9" stroke="#85a9fe"/><line x1="287.6" y1="528.9" x2="288.8" y2="528.3" stroke="#85a9fe"/><line x1="288.8" y1="528.3" x2="290.1" y2="527.7" stroke="#85a9fe"/><line x1="290.1" y1="527.7" x2="291.3" y2="527.2" stroke="#85a9fe"/><line x1="291.3" y1="527.2" x2="292.5" y2="526.6" stroke="#85a9fe"/><line x1="292.5" y1="526.6" x2="293.7" y2="526.0" stroke="#85a9fe"/><line x1="293.7" y1="526.0" x2="294.9" y2="525.4" stroke="#85a9fe"/><line x1="294.9" y1="525.4" x2="296.2" y2="524.8" stroke="#85a9fe"/><line x1="296.2" y1="524.8" x2="297.4" y2="524.1" stroke="#85a9fe"/><line x1="297.4" y1="524.1" x2="298.6" y2="523.5" stroke="#85a9fe"/><line x1="298.6" y1="523.5" x2="299.8" y2="522.9" stroke="#85a9fe"/><line x1="299.8" y1="522.9" x2="300.9" y2="522.2" stroke="#85a9fe"/><line x1="300.9" y1="522.2" x2="302.1" y2="521.5" stroke="#85a9fe"/><line x1="302.1" y1="521.5" x2="303.3" y2="520.9" stroke="#86aafe"/><line x1="303.3" y1="520.9" x2="304.5" y2="520.2" stroke="#86aafe"/><line x1="304.5" y1="520.2" x2="305.6" y2="519.5" stroke="#86aafe"/><line x1="305.6" y1="519.5" x2="306.8" y2="518.8" stroke="#87aafe"/><line x1="306.8" y1="518.8" x2="308.0" y2="518.0" stroke="#87abfe"/><line x1="308.0" y1="518.0" x2="309.1" y2="517.3" stroke="#87abfe"/><line x1="309.1" y1="517.3" x2="310.2" y2="516.6" stroke="#88abfe"/><line x1="310.2" y1="516.6" x2="311.4" y2="515.8" stroke="#88abfe"/><line x1="311.4" y1="515.8" x2="312.5" y2="515.1" stroke="#88acfe"/><line x1="312.5" y1="515.1" x2="313.6" y2="514.3" stroke="#89acfe"/><line x1="313.6" y1="514.3" x2="314.7" y2="513.5" stroke="#89acfe"/><line x1="314.7" y1="513.5" x2="315.9" y2="512.7" stroke="#89acfe"/><line x1="315.9" y1="512.7" x2="317.0" y2="511.9" stroke="#89adfe"/><line x1="317.0" y1="511.9" x2="318.0" y2="511.1" stroke="#8aadfe"/><line x1="318.0" y1="511.1" x2="319.1" y2="510.2" stroke="#8aadfe"/><line x1="319.1" y1="510.2" x2="320.2" y2="509.4" stroke="#8aadfe"/><line x1="320.2" y1="509.4" x2="321.3" y2="508.6" stroke="#93b4fe"/><line x1="321.3" y1="508.6" x2="322.3" y2="507.7" stroke="#f5c4ae"/><line x1="322.3" y1="507.7" x2="323.4" y2="506.8" stroke="#e67e64"/><line x1="323.4" y1="506.8" x2="324.4" y2="505.9" stroke="#e67e64"/><line x1="324.4" y1="505.9" x2="325.5" y2="505.0" stroke="#e67e64"/><line x1="325.5" y1="505.0" x2="326.5" y2="504.1" stroke="#e67e64"/><line x1="326.5" y1="504.1" x2="327.5" y2="503.2" stroke="#e67e64"/><line x1="327.5" y1="503.2" x2="328.4" y2="502.2" stroke="#e67e64"/><line x1="328.4" y1="502.2" x2="329.3" y2="501.2" stroke="#e67e64"/><line x1="329.3" y1="501.2" x2="330.2" y2="500.2" stroke="#e67e64"/><line x1="330.2" y1="500.2" x2="331.1" y2="499.1" stroke="#e67e64"/><line x1="331.1" y1="499.1" x2="331.9" y2="498.0" stroke="#e67e64"/><line x1="331.9" y1="498.0" x2="332.6" y2="496.9" stroke="#e67e64"/><line x1="332.6" y1="496.9" x2="333.4" y2="495.8" stroke="#e67e64"/><line x1="333.4" y1="495.8" x2="334.0" y2="494.6" stroke="#e67e64"/><line x1="334.0" y1="494.6" x2="334.7" y2="493.4" stroke="#e67e64"/><line x1="334.7" y1="493.4" x2="335.3" y2="492.2" stroke="#e78166"/><line x1="335.3" y1="492.2" x2="336.0" y2="491.0" stroke="#f4c5af"/><line x1="336.0" y1="491.0" x2="336.6" y2="489.8" stroke="#9bbbfe"/><line x1="336.6" y1="489.8" x2="337.2" y2="488.6" stroke="#5571e0"/><line x1="337.2" y1="488.6" x2="337.9" y2="487.3" stroke="#4d66d7"/><line x1="337.9" y1="487.3" x2="338.5" y2="486.1" stroke="#4d66d7"/><line x1="338.5" y1="486.1" x2="339.2" y2="484.9" stroke="#4d66d7"/><line x1="339.2" y1="484.9" x2="339.8" y2="483.7" stroke="#4d66d7"/><line x1="339.8" y1="483.7" x2="340.5" y2="482.5" stroke="#4d66d7"/><line x1="340.5" y1="482.5" x2="341.2" y2="481.4" stroke="#4d66d7"/><line x1="341.2" y1="481.4" x2="341.9" y2="480.2" stroke="#4d66d7"/><line x1="341.9" y1="480.2" x2="342.6" y2="479.0" stroke="#7b9ffa"/><line x1="342.6" y1="479.0" x2="343.3" y2="477.9" stroke="#f4b093"/><line x1="343.3" y1="477.9" x2="344.1" y2="476.8" stroke="#d25849"/><line x1="344.1" y1="476.8" x2="344.9" y2="475.7" stroke="#c8463d"/><line x1="344.9" y1="475.7" x2="345.7" y2="474.6" stroke="#c12f35"/><line x1="345.7" y1="474.6" x2="346.5" y2="473.5" stroke="#b9162c"/><line x1="346.5" y1="473.5" x2="347.4" y2="472.5" stroke="#b40426"/><line x1="347.4" y1="472.5" x2="348.2" y2="471.4" stroke="#b40426"/><line x1="348.2" y1="471.4" x2="349.2" y2="470.4" stroke="#b40426"/><line x1="349.2" y1="470.4" x2="350.1" y2="469.4" stroke="#b40426"/><line x1="350.1" y1="469.4" x2="351.1" y2="468.5" stroke="#b40426"/><line x1="351.1" y1="468.5" x2="352.1" y2="467.6" stroke="#b40426"/><line x1="352.1" y1="467.6" x2="353.1" y2="466.7" stroke="#b40426"/><line x1="353.1" y1="466.7" x2="354.1" y2="465.8" stroke="#b40426"/><line x1="354.1" y1="465.8" x2="355.2" y2="464.9" stroke="#cd5044"/><line x1="355.2" y1="464.9" x2="356.3" y2="464.1" stroke="#dd6e57"/><line x1="356.3" y1="464.1" x2="357.4" y2="463.3" stroke="#df7059"/><line x1="357.4" y1="463.3" x2="358.5" y2="462.5" stroke="#e0725a"/><line x1="358.5" y1="462.5" x2="359.7" y2="461.8" stroke="#e1755c"/><line x1="359.7" y1="461.8" x2="360.8" y2="461.0" stroke="#e2775e"/><line x1="360.8" y1="461.0" x2="362.0" y2="460.3" stroke="#e3795f"/><line x1="362.0" y1="460.3" x2="363.2" y2="459.7" stroke="#e47b61"/><line x1="363.2" y1="459.7" x2="364.4" y2="459.0" stroke="#e57d63"/><line x1="364.4" y1="459.0" x2="365.7" y2="458.4" stroke="#ef9476"/><line x1="365.7" y1="458.4" x2="366.9" y2="457.8" stroke="#f1c8b4"/><line x1="366.9" y1="457.8" x2="368.1" y2="457.2" stroke="#cad3e7"/><line x1="368.1" y1="457.2" x2="369.4" y2="456.7" stroke="#9fbffe"/><line x1="369.4" y1="456.7" x2="370.7" y2="456.2" stroke="#92b4fe"/><line x1="370.7" y1="456.2" x2="371.9" y2="455.7" stroke="#91b3fe"/><line x1="371.9" y1="455.7" x2="373.2" y2="455.3" stroke="#8fb1fe"/><line x1="373.2" y1="455.3" x2="374.5" y2="454.8" stroke="#8eb0fe"/><line x1="374.5" y1="454.8" x2="375.8" y2="454.4" stroke="#8caffe"/><line x1="375.8" y1="454.4" x2="377.1" y2="454.0" stroke="#8aadfe"/><line x1="377.1" y1="454.0" x2="378.4" y2="453.6" stroke="#89acfe"/><line x1="378.4" y1="453.6" x2="379.7" y2="453.3" stroke="#87abfe"/><line x1="379.7" y1="453.3" x2="381.0" y2="452.9" stroke="#86a9fe"/><line x1="381.0" y1="452.9" x2="382.3" y2="452.6" stroke="#698bf1"/><line x1="382.3" y1="452.6" x2="383.6" y2="452.3" stroke="#5e7de8"/><line x1="383.6" y1="452.3" x2="385.0" y2="452.0" stroke="#5d7ce7"/><line x1="385.0" y1="452.0" x2="386.3" y2="451.6" stroke="#5d7be6"/><line x1="386.3" y1="451.6" x2="387.6" y2="451.3" stroke="#5c7ae6"/><line x1="387.6" y1="451.3" x2="388.9" y2="451.0" stroke="#5b79e5"/><line x1="388.9" y1="451.0" x2="390.3" y2="450.7" stroke="#5b79e5"/><line x1="390.3" y1="450.7" x2="391.6" y2="450.4" stroke="#5a78e4"/><line x1="391.6" y1="450.4" x2="392.9" y2="450.1" stroke="#5a77e4"/><line x1="392.9" y1="450.1" x2="394.2" y2="449.7" stroke="#5976e3"/><line x1="394.2" y1="449.7" x2="395.5" y2="449.4" stroke="#5875e2"/><line x1="395.5" y1="449.4" x2="396.9" y2="449.1" stroke="#5874e2"/><line x1="396.9" y1="449.1" x2="398.2" y2="448.7" stroke="#5774e1"/><line x1="398.2" y1="448.7" x2="399.5" y2="448.4" stroke="#5673e1"/><line x1="399.5" y1="448.4" x2="400.8" y2="448.1" stroke="#5672e0"/><line x1="400.8" y1="448.1" x2="402.2" y2="447.8" stroke="#5571e0"/><line x1="402.2" y1="447.8" x2="403.5" y2="447.4" stroke="#5470df"/><line x1="403.5" y1="447.4" x2="404.8" y2="447.1" stroke="#546fdf"/><line x1="404.8" y1="447.1" x2="406.1" y2="446.8" stroke="#536ede"/><line x1="406.1" y1="446.8" x2="407.5" y2="446.6" stroke="#526edd"/><line x1="407.5" y1="446.6" x2="408.8" y2="446.3" stroke="#536fde"/><line x1="408.8" y1="446.3" x2="410.2" y2="446.1" stroke="#5774e1"/><line x1="410.2" y1="446.1" x2="411.5" y2="445.8" stroke="#5b78e5"/><line x1="411.5" y1="445.8" x2="412.8" y2="445.6" stroke="#5e7de8"/><line x1="412.8" y1="445.6" x2="414.2" y2="445.5" stroke="#8baefe"/><line x1="414.2" y1="445.5" x2="415.6" y2="445.3" stroke="#dbdbde"/><line x1="415.6" y1="445.3" x2="416.9" y2="445.2" stroke="#dedbda"/><line x1="416.9" y1="445.2" x2="418.3" y2="445.1" stroke="#dfd9d7"/><line x1="418.3" y1="445.1" x2="419.7" y2="445.0" stroke="#e1d7d4"/><line x1="419.7" y1="445.0" x2="421.0" y2="445.0" stroke="#e2d6d1"/><line x1="421.0" y1="445.0" x2="422.4" y2="444.9" stroke="#e4d4ce"/><line x1="422.4" y1="444.9" x2="423.8" y2="444.9" stroke="#e5d3cb"/><line x1="423.8" y1="444.9" x2="425.1" y2="444.9" stroke="#e7d1c8"/><line x1="425.1" y1="444.9" x2="426.5" y2="445.0" stroke="#eccdbf"/><line x1="426.5" y1="445.0" x2="427.9" y2="445.0" stroke="#f4a384"/><line x1="427.9" y1="445.0" x2="429.3" y2="445.1" stroke="#f19879"/><line x1="429.3" y1="445.1" x2="430.6" y2="445.2" stroke="#f19879"/><line x1="430.6" y1="445.2" x2="432.0" y2="445.3" stroke="#f1987a"/><line x1="432.0" y1="445.3" x2="433.4" y2="445.5" stroke="#f1997a"/><line x1="433.4" y1="445.5" x2="434.7" y2="445.7" stroke="#f1997a"/><line x1="434.7" y1="445.7" x2="436.1" y2="445.9" stroke="#f1997a"/><line x1="436.1" y1="445.9" x2="437.4" y2="446.1" stroke="#f19a7b"/><line x1="437.4" y1="446.1" x2="438.8" y2="446.3" stroke="#f19a7b"/><line x1="438.8" y1="446.3" x2="440.1" y2="446.6" stroke="#f29a7b"/><line x1="440.1" y1="446.6" x2="441.5" y2="446.9" stroke="#f29b7b"/><line x1="441.5" y1="446.9" x2="442.8" y2="447.2" stroke="#f29b7c"/><line x1="442.8" y1="447.2" x2="444.1" y2="447.6" stroke="#f29b7c"/><line x1="444.1" y1="447.6" x2="445.4" y2="447.9" stroke="#f29b7c"/><line x1="445.4" y1="447.9" x2="446.7" y2="448.3" stroke="#f29c7c"/><line x1="446.7" y1="448.3" x2="448.0" y2="448.7" stroke="#f29c7d"/><line x1="448.0" y1="448.7" x2="449.3" y2="449.2" stroke="#f29c7d"/><line x1="449.3" y1="449.2" x2="450.6" y2="449.6" stroke="#f39d7d"/><line x1="450.6" y1="449.6" x2="451.9" y2="450.1" stroke="#f39d7d"/><line x1="451.9" y1="450.1" x2="453.1" y2="450.6" stroke="#f39d7e"/><line x1="453.1" y1="450.6" x2="454.4" y2="451.1" stroke="#f39d7e"/><line x1="454.4" y1="451.1" x2="455.6" y2="451.7" stroke="#f39e7e"/><line x1="455.6" y1="451.7" x2="456.8" y2="452.3" stroke="#f39e7e"/><line x1="456.8" y1="452.3" x2="458.0" y2="452.9" stroke="#f39e7f"/><line x1="458.0" y1="452.9" x2="459.2" y2="453.5" stroke="#f39f7f"/><line x1="459.2" y1="453.5" x2="460.4" y2="454.1" stroke="#f39f7f"/><line x1="460.4" y1="454.1" x2="461.6" y2="454.8" stroke="#f49f7f"/><line x1="461.6" y1="454.8" x2="462.8" y2="455.5" stroke="#f49f7f"/><line x1="462.8" y1="455.5" x2="463.9" y2="456.2" stroke="#f4a080"/><line x1="463.9" y1="456.2" x2="465.0" y2="456.9" stroke="#f4a080"/><line x1="465.0" y1="456.9" x2="466.1" y2="457.7" stroke="#f4a384"/><line x1="466.1" y1="457.7" x2="467.2" y2="458.5" stroke="#f5b9a0"/><line x1="467.2" y1="458.5" x2="468.3" y2="459.3" stroke="#edcbbc"/><line x1="468.3" y1="459.3" x2="469.3" y2="460.1" stroke="#dfdad8"/><line x1="469.3" y1="460.1" x2="470.4" y2="460.9" stroke="#dadbde"/><line x1="470.4" y1="460.9" x2="471.4" y2="461.8" stroke="#d7dae0"/><line x1="471.4" y1="461.8" x2="472.4" y2="462.7" stroke="#d4d8e1"/><line x1="472.4" y1="462.7" x2="473.4" y2="463.6" stroke="#d2d7e3"/><line x1="473.4" y1="463.6" x2="474.4" y2="464.5" stroke="#bfceed"/><line x1="474.4" y1="464.5" x2="475.4" y2="465.5" stroke="#9cbcfe"/><line x1="475.4" y1="465.5" x2="476.3" y2="466.4" stroke="#88acfe"/><line x1="476.3" y1="466.4" x2="477.3" y2="467.4" stroke="#85a9fe"/><line x1="477.3" y1="467.4" x2="478.2" y2="468.4" stroke="#85a9fe"/><line x1="478.2" y1="468.4" x2="479.1" y2="469.4" stroke="#85a9fe"/><line x1="479.1" y1="469.4" x2="480.0" y2="470.4" stroke="#85a9fe"/><line x1="480.0" y1="470.4" x2="480.9" y2="471.4" stroke="#85a9fe"/><line x1="480.9" y1="471.4" x2="481.8" y2="472.5" stroke="#85a9fe"/><line x1="481.8" y1="472.5" x2="482.7" y2="473.5" stroke="#85a9fe"/><line x1="482.7" y1="473.5" x2="483.6" y2="474.6" stroke="#85a9fe"/><line x1="483.6" y1="474.6" x2="484.5" y2="475.6" stroke="#85a9fe"/><line x1="484.5" y1="475.6" x2="485.3" y2="476.7" stroke="#85a9fe"/><line x1="485.3" y1="476.7" x2="486.2" y2="477.8" stroke="#7396f6"/><line x1="486.2" y1="477.8" x2="487.1" y2="478.9" stroke="#5f7fe9"/><line x1="487.1" y1="478.9" x2="487.9" y2="480.0" stroke="#5673e1"/><line x1="487.9" y1="480.0" x2="488.8" y2="481.0" stroke="#5572e0"/><line x1="488.8" y1="481.0" x2="489.6" y2="482.1" stroke="#5570df"/><line x1="489.6" y1="482.1" x2="490.5" y2="483.2" stroke="#546fde"/><line x1="490.5" y1="483.2" x2="491.3" y2="484.3" stroke="#536ede"/><line x1="491.3" y1="484.3" x2="492.2" y2="485.4" stroke="#506ada"/><line x1="492.2" y1="485.4" x2="493.0" y2="486.5" stroke="#4a62d4"/><line x1="493.0" y1="486.5" x2="493.9" y2="487.6" stroke="#455bcd"/><line x1="493.9" y1="487.6" x2="494.7" y2="488.7" stroke="#4156c9"/><line x1="494.7" y1="488.7" x2="495.6" y2="489.8" stroke="#4156c9"/><line x1="495.6" y1="489.8" x2="496.5" y2="490.9" stroke="#4156c9"/><line x1="496.5" y1="490.9" x2="497.3" y2="491.9" stroke="#4156c9"/><line x1="497.3" y1="491.9" x2="498.2" y2="493.0" stroke="#4156c9"/><line x1="498.2" y1="493.0" x2="499.1" y2="494.1" stroke="#4257ca"/><line x1="499.1" y1="494.1" x2="500.0" y2="495.1" stroke="#5672e1"/><line x1="500.0" y1="495.1" x2="500.8" y2="496.1" stroke="#6b8ef3"/><line x1="500.8" y1="496.1" x2="501.7" y2="497.2" stroke="#6c8ff3"/><line x1="501.7" y1="497.2" x2="502.7" y2="498.2" stroke="#6c90f4"/><line x1="502.7" y1="498.2" x2="503.6" y2="499.2" stroke="#6d90f4"/><line x1="503.6" y1="499.2" x2="504.5" y2="500.2" stroke="#6e91f4"/><line x1="504.5" y1="500.2" x2="505.4" y2="501.2" stroke="#6f92f5"/><line x1="505.4" y1="501.2" x2="506.4" y2="502.1" stroke="#7093f5"/><line x1="506.4" y1="502.1" x2="507.4" y2="503.1" stroke="#799df9"/><line x1="507.4" y1="503.1" x2="508.3" y2="504.0" stroke="#a2c0fe"/><line x1="508.3" y1="504.0" x2="509.3" y2="504.9" stroke="#a5c2fc"/><line x1="509.3" y1="504.9" x2="510.4" y2="505.8" stroke="#a8c3fa"/><line x1="510.4" y1="505.8" x2="511.4" y2="506.7" stroke="#acc5f8"/><line x1="511.4" y1="506.7" x2="512.4" y2="507.5" stroke="#dcdcdd"/><line x1="512.4" y1="507.5" x2="513.5" y2="508.3" stroke="#f5bda5"/><line x1="513.5" y1="508.3" x2="514.6" y2="509.1" stroke="#d55e4d"/><line x1="514.6" y1="509.1" x2="515.8" y2="509.9" stroke="#b40426"/><line x1="515.8" y1="509.9" x2="516.9" y2="510.6" stroke="#b40426"/><line x1="516.9" y1="510.6" x2="518.1" y2="511.3" stroke="#b40426"/><line x1="518.1" y1="511.3" x2="519.3" y2="511.9" stroke="#b40426"/><line x1="519.3" y1="511.9" x2="520.6" y2="512.5" stroke="#b40426"/><line x1="520.6" y1="512.5" x2="521.8" y2="513.0" stroke="#b40426"/><line x1="521.8" y1="513.0" x2="523.1" y2="513.3" stroke="#b40426"/><line x1="523.1" y1="513.3" x2="524.4" y2="513.5" stroke="#b40426"/><line x1="524.4" y1="513.5" x2="525.7" y2="513.5" stroke="#b40426"/><line x1="525.7" y1="513.5" x2="527.0" y2="513.4" stroke="#b40426"/><line x1="527.0" y1="513.4" x2="528.3" y2="513.1" stroke="#b40426"/><line x1="528.3" y1="513.1" x2="529.5" y2="512.8" stroke="#b40426"/><line x1="529.5" y1="512.8" x2="530.8" y2="512.3" stroke="#b40426"/><line x1="530.8" y1="512.3" x2="532.1" y2="511.8" stroke="#b40426"/><line x1="532.1" y1="511.8" x2="533.4" y2="511.3" stroke="#b40426"/><line x1="533.4" y1="511.3" x2="534.7" y2="510.7" stroke="#c23537"/><line x1="534.7" y1="510.7" x2="536.0" y2="510.2" stroke="#f09678"/><line x1="536.0" y1="510.2" x2="537.3" y2="509.6" stroke="#eecaba"/><line x1="537.3" y1="509.6" x2="538.6" y2="509.1" stroke="#b0c7f6"/><line x1="538.6" y1="509.1" x2="539.9" y2="508.6" stroke="#8baefe"/><line x1="539.9" y1="508.6" x2="541.2" y2="508.0" stroke="#7194f5"/><line x1="541.2" y1="508.0" x2="542.4" y2="507.5" stroke="#6485ed"/><line x1="542.4" y1="507.5" x2="543.7" y2="507.0" stroke="#5b79e5"/><line x1="543.7" y1="507.0" x2="545.0" y2="506.5" stroke="#526ddd"/><line x1="545.0" y1="506.5" x2="546.2" y2="506.0" stroke="#4d66d7"/><line x1="546.2" y1="506.0" x2="547.5" y2="505.5" stroke="#4c64d5"/><line x1="547.5" y1="505.5" x2="548.8" y2="505.0" stroke="#4b63d4"/><line x1="548.8" y1="505.0" x2="550.0" y2="504.5" stroke="#4a62d3"/><line x1="550.0" y1="504.5" x2="551.3" y2="504.0" stroke="#4960d2"/><line x1="551.3" y1="504.0" x2="552.6" y2="503.5" stroke="#485fd1"/><line x1="552.6" y1="503.5" x2="553.8" y2="503.0" stroke="#475dcf"/><line x1="553.8" y1="503.0" x2="555.1" y2="502.6" stroke="#4860d1"/><line x1="555.1" y1="502.6" x2="556.3" y2="502.1" stroke="#4f68d9"/><line x1="556.3" y1="502.1" x2="557.6" y2="501.6" stroke="#5571e0"/><line x1="557.6" y1="501.6" x2="558.9" y2="501.1" stroke="#5c7ae6"/><line x1="558.9" y1="501.1" x2="560.1" y2="500.6" stroke="#5f7ee8"/><line x1="560.1" y1="500.6" x2="561.4" y2="500.2" stroke="#607fe9"/><line x1="561.4" y1="500.2" x2="562.7" y2="499.7" stroke="#6180ea"/><line x1="562.7" y1="499.7" x2="563.9" y2="499.2" stroke="#6181eb"/><line x1="563.9" y1="499.2" x2="565.2" y2="498.7" stroke="#6283eb"/><line x1="565.2" y1="498.7" x2="566.5" y2="498.2" stroke="#6384ec"/><line x1="566.5" y1="498.2" x2="567.7" y2="497.8" stroke="#6485ed"/><line x1="567.7" y1="497.8" x2="569.0" y2="497.3" stroke="#6586ee"/><line x1="569.0" y1="497.3" x2="570.3" y2="496.8" stroke="#6687ee"/><line x1="570.3" y1="496.8" x2="571.6" y2="496.3" stroke="#6688ef"/><line x1="571.6" y1="496.3" x2="572.8" y2="495.9" stroke="#6789f0"/><line x1="572.8" y1="495.9" x2="574.1" y2="495.4" stroke="#688af0"/><line x1="574.1" y1="495.4" x2="575.4" y2="494.9" stroke="#698bf1"/><line x1="575.4" y1="494.9" x2="576.7" y2="494.5" stroke="#6a8cf2"/><line x1="576.7" y1="494.5" x2="578.0" y2="494.0" stroke="#6b8df3"/><line x1="578.0" y1="494.0" x2="579.3" y2="493.6" stroke="#6b8ef3"/><line x1="579.3" y1="493.6" x2="580.6" y2="493.1" stroke="#6c8ff4"/><line x1="580.6" y1="493.1" x2="581.9" y2="492.7" stroke="#6d90f4"/><line x1="581.9" y1="492.7" x2="583.1" y2="492.3" stroke="#6e91f4"/><line x1="583.1" y1="492.3" x2="584.4" y2="491.8" stroke="#6f92f5"/><line x1="584.4" y1="491.8" x2="585.7" y2="491.4" stroke="#7093f5"/><line x1="585.7" y1="491.4" x2="587.0" y2="491.0" stroke="#7194f6"/><line x1="587.0" y1="491.0" x2="588.3" y2="490.6" stroke="#7396f6"/><line x1="588.3" y1="490.6" x2="589.6" y2="490.2" stroke="#7598f7"/><line x1="589.6" y1="490.2" x2="590.9" y2="489.8" stroke="#779af8"/><line x1="590.9" y1="489.8" x2="592.3" y2="489.4" stroke="#799cf9"/><line x1="592.3" y1="489.4" x2="593.6" y2="489.0" stroke="#7b9efa"/><line x1="593.6" y1="489.0" x2="594.9" y2="488.6" stroke="#7da0fa"/><line x1="594.9" y1="488.6" x2="596.2" y2="488.2" stroke="#7fa2fb"/><line x1="596.2" y1="488.2" x2="597.5" y2="487.9" stroke="#80a4fc"/><line x1="597.5" y1="487.9" x2="598.8" y2="487.5" stroke="#82a6fd"/><line x1="598.8" y1="487.5" x2="600.1" y2="487.2" stroke="#84a8fe"/><line x1="600.1" y1="487.2" x2="601.5" y2="486.9" stroke="#85a9fe"/><line x1="601.5" y1="486.9" x2="602.8" y2="486.5" stroke="#85a9fe"/><line x1="602.8" y1="486.5" x2="604.1" y2="486.2" stroke="#85a9fe"/><line x1="604.1" y1="486.2" x2="605.4" y2="485.9" stroke="#85a9fe"/><line x1="605.4" y1="485.9" x2="606.8" y2="485.7" stroke="#85a9fe"/><line x1="606.8" y1="485.7" x2="608.1" y2="485.4" stroke="#85a9fe"/><line x1="608.1" y1="485.4" x2="609.5" y2="485.1" stroke="#85a9fe"/><line x1="609.5" y1="485.1" x2="610.8" y2="484.9" stroke="#85a9fe"/><line x1="610.8" y1="484.9" x2="612.1" y2="484.6" stroke="#85a9fe"/><line x1="612.1" y1="484.6" x2="613.5" y2="484.4" stroke="#85a9fe"/><line x1="613.5" y1="484.4" x2="614.8" y2="484.2" stroke="#85a9fe"/><line x1="614.8" y1="484.2" x2="616.2" y2="484.0" stroke="#85a9fe"/><line x1="616.2" y1="484.0" x2="617.5" y2="483.8" stroke="#85a9fe"/><line x1="617.5" y1="483.8" x2="618.9" y2="483.6" stroke="#85a9fe"/><line x1="618.9" y1="483.6" x2="620.2" y2="483.5" stroke="#85a9fe"/><line x1="620.2" y1="483.5" x2="621.6" y2="483.4" stroke="#85a9fe"/><line x1="621.6" y1="483.4" x2="623.0" y2="483.2" stroke="#85a9fe"/><line x1="623.0" y1="483.2" x2="624.3" y2="483.1" stroke="#85a9fe"/><line x1="624.3" y1="483.1" x2="625.7" y2="483.0" stroke="#85a9fe"/><line x1="625.7" y1="483.0" x2="627.0" y2="482.9" stroke="#85a9fe"/><line x1="627.0" y1="482.9" x2="628.4" y2="482.9" stroke="#85a9fe"/><line x1="628.4" y1="482.9" x2="629.8" y2="482.8" stroke="#85a9fe"/><line x1="629.8" y1="482.8" x2="631.1" y2="482.8" stroke="#85a9fe"/><line x1="631.1" y1="482.8" x2="632.5" y2="482.8" stroke="#85a9fe"/><line x1="632.5" y1="482.8" x2="633.9" y2="482.8" stroke="#85a9fe"/><line x1="633.9" y1="482.8" x2="635.2" y2="482.8" stroke="#85a9fe"/><line x1="635.2" y1="482.8" x2="636.6" y2="482.9" stroke="#85a9fe"/><line x1="636.6" y1="482.9" x2="638.0" y2="482.9" stroke="#85a9fe"/><line x1="638.0" y1="482.9" x2="639.3" y2="483.0" stroke="#85a9fe"/><line x1="639.3" y1="483.0" x2="640.7" y2="483.1" stroke="#85a9fe"/><line x1="640.7" y1="483.1" x2="642.1" y2="483.2" stroke="#85a9fe"/><line x1="642.1" y1="483.2" x2="643.4" y2="483.3" stroke="#85a9fe"/><line x1="643.4" y1="483.3" x2="644.8" y2="483.5" stroke="#85a9fe"/><line x1="644.8" y1="483.5" x2="646.1" y2="483.6" stroke="#85a9fe"/><line x1="646.1" y1="483.6" x2="647.5" y2="483.8" stroke="#85a9fe"/><line x1="647.5" y1="483.8" x2="648.8" y2="484.0" stroke="#85a9fe"/><line x1="648.8" y1="484.0" x2="650.1" y2="484.2" stroke="#85a9fe"/><line x1="650.1" y1="484.2" x2="651.5" y2="484.5" stroke="#85a9fe"/><line x1="651.5" y1="484.5" x2="652.8" y2="484.7" stroke="#85a9fe"/><line x1="652.8" y1="484.7" x2="654.1" y2="485.0" stroke="#85a9fe"/><line x1="654.1" y1="485.0" x2="655.5" y2="485.3" stroke="#85a9fe"/><line x1="655.5" y1="485.3" x2="656.8" y2="485.6" stroke="#85a9fe"/><line x1="656.8" y1="485.6" x2="658.1" y2="485.9" stroke="#85a9fe"/><line x1="658.1" y1="485.9" x2="659.4" y2="486.3" stroke="#85a9fe"/><line x1="659.4" y1="486.3" x2="660.7" y2="486.6" stroke="#85a9fe"/><line x1="660.7" y1="486.6" x2="662.0" y2="487.0" stroke="#85a9fe"/><line x1="662.0" y1="487.0" x2="663.3" y2="487.4" stroke="#85a9fe"/><line x1="663.3" y1="487.4" x2="664.6" y2="487.8" stroke="#85a9fe"/><line x1="664.6" y1="487.8" x2="665.9" y2="488.2" stroke="#85a9fe"/><line x1="665.9" y1="488.2" x2="667.2" y2="488.6" stroke="#85a9fe"/><line x1="667.2" y1="488.6" x2="668.5" y2="489.1" stroke="#85a9fe"/><line x1="668.5" y1="489.1" x2="669.8" y2="489.5" stroke="#85a9fe"/><line x1="669.8" y1="489.5" x2="671.1" y2="490.0" stroke="#85a9fe"/><line x1="671.1" y1="490.0" x2="672.3" y2="490.5" stroke="#85a9fe"/><line x1="672.3" y1="490.5" x2="673.6" y2="491.0" stroke="#85a9fe"/><line x1="673.6" y1="491.0" x2="674.9" y2="491.4" stroke="#85a9fe"/><line x1="674.9" y1="491.4" x2="676.2" y2="492.0" stroke="#85a9fe"/><line x1="676.2" y1="492.0" x2="677.4" y2="492.5" stroke="#85a9fe"/><line x1="677.4" y1="492.5" x2="678.7" y2="493.0" stroke="#85a9fe"/><line x1="678.7" y1="493.0" x2="680.0" y2="493.5" stroke="#85a9fe"/><line x1="680.0" y1="493.5" x2="681.2" y2="494.0" stroke="#85a9fe"/><line x1="681.2" y1="494.0" x2="682.5" y2="494.6" stroke="#85a9fe"/><line x1="682.5" y1="494.6" x2="683.7" y2="495.1" stroke="#85a9fe"/><line x1="683.7" y1="495.1" x2="685.0" y2="495.7" stroke="#85a9fe"/><line x1="685.0" y1="495.7" x2="686.3" y2="496.2" stroke="#85a9fe"/><line x1="686.3" y1="496.2" x2="687.5" y2="496.8" stroke="#85a9fe"/><line x1="687.5" y1="496.8" x2="688.8" y2="497.3" stroke="#85a9fe"/><line x1="688.8" y1="497.3" x2="690.0" y2="497.9" stroke="#85a9fe"/><line x1="690.0" y1="497.9" x2="691.3" y2="498.5" stroke="#85a9fe"/><line x1="691.3" y1="498.5" x2="692.5" y2="499.1" stroke="#85a9fe"/><line x1="692.5" y1="499.1" x2="693.7" y2="499.6" stroke="#85a9fe"/><line x1="693.7" y1="499.6" x2="695.0" y2="500.2" stroke="#85a9fe"/><line x1="695.0" y1="500.2" x2="696.2" y2="500.8" stroke="#85a9fe"/><line x1="696.2" y1="500.8" x2="697.5" y2="501.4" stroke="#85a9fe"/><line x1="697.5" y1="501.4" x2="698.7" y2="502.0" stroke="#85a9fe"/><line x1="698.7" y1="502.0" x2="699.9" y2="502.6" stroke="#85a9fe"/><line x1="699.9" y1="502.6" x2="701.1" y2="503.2" stroke="#85a9fe"/><line x1="701.1" y1="503.2" x2="702.4" y2="503.8" stroke="#85a9fe"/><line x1="702.4" y1="503.8" x2="703.6" y2="504.4" stroke="#85a9fe"/><line x1="703.6" y1="504.4" x2="704.8" y2="505.0" stroke="#85a9fe"/><line x1="704.8" y1="505.0" x2="706.0" y2="505.6" stroke="#85a9fe"/><line x1="706.0" y1="505.6" x2="707.2" y2="506.3" stroke="#85a9fe"/><line x1="707.2" y1="506.3" x2="708.4" y2="506.9" stroke="#85a9fe"/><line x1="708.4" y1="506.9" x2="709.6" y2="507.5" stroke="#85a9fe"/><line x1="709.6" y1="507.5" x2="710.8" y2="508.2" stroke="#85a9fe"/><line x1="710.8" y1="508.2" x2="712.0" y2="508.8" stroke="#85a9fe"/><line x1="712.0" y1="508.8" x2="713.2" y2="509.5" stroke="#85a9fe"/><line x1="713.2" y1="509.5" x2="714.4" y2="510.2" stroke="#85a9fe"/><line x1="714.4" y1="510.2" x2="715.5" y2="510.9" stroke="#85a9fe"/><line x1="715.5" y1="510.9" x2="716.7" y2="511.6" stroke="#85a9fe"/><line x1="716.7" y1="511.6" x2="717.9" y2="512.3" stroke="#85a9fe"/><line x1="717.9" y1="512.3" x2="719.0" y2="513.0" stroke="#85a9fe"/><line x1="719.0" y1="513.0" x2="720.2" y2="513.7" stroke="#85a9fe"/><line x1="720.2" y1="513.7" x2="721.3" y2="514.4" stroke="#85a9fe"/><line x1="721.3" y1="514.4" x2="722.5" y2="515.2" stroke="#85a9fe"/><line x1="722.5" y1="515.2" x2="723.6" y2="515.9" stroke="#85a9fe"/><line x1="723.6" y1="515.9" x2="724.7" y2="516.7" stroke="#85a9fe"/><line x1="724.7" y1="516.7" x2="725.8" y2="517.4" stroke="#85a9fe"/><line x1="725.8" y1="517.4" x2="726.9" y2="518.2" stroke="#85a9fe"/><line x1="726.9" y1="518.2" x2="728.0" y2="519.0" stroke="#85a9fe"/><line x1="728.0" y1="519.0" x2="729.1" y2="519.8" stroke="#85a9fe"/><line x1="729.1" y1="519.8" x2="730.2" y2="520.6" stroke="#85a9fe"/><line x1="730.2" y1="520.6" x2="731.3" y2="521.5" stroke="#85a9fe"/><line x1="731.3" y1="521.5" x2="732.4" y2="522.3" stroke="#85a9fe"/><line x1="732.4" y1="522.3" x2="733.4" y2="523.2" stroke="#85a9fe"/><line x1="733.4" y1="523.2" x2="734.5" y2="524.0" stroke="#85a9fe"/><line x1="734.5" y1="524.0" x2="735.5" y2="524.9" stroke="#85a9fe"/><line x1="735.5" y1="524.9" x2="736.5" y2="525.8" stroke="#85a9fe"/><line x1="736.5" y1="525.8" x2="737.6" y2="526.7" stroke="#85a9fe"/><line x1="737.6" y1="526.7" x2="738.6" y2="527.6" stroke="#85a9fe"/><line x1="738.6" y1="527.6" x2="739.6" y2="528.6" stroke="#85a9fe"/><line x1="739.6" y1="528.6" x2="740.6" y2="529.5" stroke="#85a9fe"/><line x1="740.6" y1="529.5" x2="741.6" y2="530.5" stroke="#85a9fe"/><line x1="741.6" y1="530.5" x2="742.5" y2="531.5" stroke="#85a9fe"/></g>
<g stroke-width="4.6" stroke-linecap="round"><line x1="17.6" y1="746.0" x2="18.7" y2="746.9" stroke="#3f53c6"/><line x1="18.7" y1="746.9" x2="19.7" y2="747.7" stroke="#3f53c6"/><line x1="19.7" y1="747.7" x2="20.8" y2="748.6" stroke="#3f53c6"/><line x1="20.8" y1="748.6" x2="21.9" y2="749.4" stroke="#3f53c6"/><line x1="21.9" y1="749.4" x2="22.9" y2="750.3" stroke="#3f53c6"/><line x1="22.9" y1="750.3" x2="24.0" y2="751.1" stroke="#3f53c6"/><line x1="24.0" y1="751.1" x2="25.1" y2="751.9" stroke="#3f53c6"/><line x1="25.1" y1="751.9" x2="26.2" y2="752.7" stroke="#3f53c6"/><line x1="26.2" y1="752.7" x2="27.3" y2="753.5" stroke="#3f53c6"/><line x1="27.3" y1="753.5" x2="28.4" y2="754.4" stroke="#3f53c6"/><line x1="28.4" y1="754.4" x2="29.5" y2="755.2" stroke="#3f53c6"/><line x1="29.5" y1="755.2" x2="30.6" y2="755.9" stroke="#3f53c6"/><line x1="30.6" y1="755.9" x2="31.7" y2="756.7" stroke="#3f53c6"/><line x1="31.7" y1="756.7" x2="32.8" y2="757.5" stroke="#3f53c6"/><line x1="32.8" y1="757.5" x2="33.9" y2="758.3" stroke="#3f53c6"/><line x1="33.9" y1="758.3" x2="35.0" y2="759.1" stroke="#3f53c6"/><line x1="35.0" y1="759.1" x2="36.2" y2="759.8" stroke="#3f53c6"/><line x1="36.2" y1="759.8" x2="37.3" y2="760.6" stroke="#3f53c6"/><line x1="37.3" y1="760.6" x2="38.4" y2="761.3" stroke="#3f53c6"/><line x1="38.4" y1="761.3" x2="39.6" y2="762.1" stroke="#3f53c6"/><line x1="39.6" y1="762.1" x2="40.7" y2="762.8" stroke="#3f53c6"/><line x1="40.7" y1="762.8" x2="41.9" y2="763.5" stroke="#3f53c6"/><line x1="41.9" y1="763.5" x2="43.0" y2="764.3" stroke="#3f53c6"/><line x1="43.0" y1="764.3" x2="44.2" y2="765.0" stroke="#3f53c6"/><line x1="44.2" y1="765.0" x2="45.3" y2="765.7" stroke="#3f53c6"/><line x1="45.3" y1="765.7" x2="46.5" y2="766.4" stroke="#3f53c6"/><line x1="46.5" y1="766.4" x2="47.7" y2="767.1" stroke="#3f53c6"/><line x1="47.7" y1="767.1" x2="48.9" y2="767.8" stroke="#3f53c6"/><line x1="48.9" y1="767.8" x2="50.0" y2="768.4" stroke="#3f53c6"/><line x1="50.0" y1="768.4" x2="51.2" y2="769.1" stroke="#3f53c6"/><line x1="51.2" y1="769.1" x2="52.4" y2="769.8" stroke="#3f53c6"/><line x1="52.4" y1="769.8" x2="53.6" y2="770.4" stroke="#3f53c6"/><line x1="53.6" y1="770.4" x2="54.8" y2="771.1" stroke="#3f53c6"/><line x1="54.8" y1="771.1" x2="56.0" y2="771.7" stroke="#3f53c6"/><line x1="56.0" y1="771.7" x2="57.2" y2="772.4" stroke="#3f53c6"/><line x1="57.2" y1="772.4" x2="58.4" y2="773.0" stroke="#3f53c6"/><line x1="58.4" y1="773.0" x2="59.6" y2="773.6" stroke="#3f53c6"/><line x1="59.6" y1="773.6" x2="60.8" y2="774.3" stroke="#3f53c6"/><line x1="60.8" y1="774.3" x2="62.1" y2="774.9" stroke="#3f53c6"/><line x1="62.1" y1="774.9" x2="63.3" y2="775.5" stroke="#3f53c6"/><line x1="63.3" y1="775.5" x2="64.5" y2="776.1" stroke="#3f53c6"/><line x1="64.5" y1="776.1" x2="65.7" y2="776.7" stroke="#3f53c6"/><line x1="65.7" y1="776.7" x2="67.0" y2="777.2" stroke="#3f53c6"/><line x1="67.0" y1="777.2" x2="68.2" y2="777.8" stroke="#3f53c6"/><line x1="68.2" y1="777.8" x2="69.4" y2="778.4" stroke="#3f53c6"/><line x1="69.4" y1="778.4" x2="70.7" y2="779.0" stroke="#3f53c6"/><line x1="70.7" y1="779.0" x2="71.9" y2="779.5" stroke="#3f53c6"/><line x1="71.9" y1="779.5" x2="73.2" y2="780.1" stroke="#3f53c6"/><line x1="73.2" y1="780.1" x2="74.4" y2="780.6" stroke="#3f53c6"/><line x1="74.4" y1="780.6" x2="75.7" y2="781.1" stroke="#3f53c6"/><line x1="75.7" y1="781.1" x2="76.9" y2="781.7" stroke="#3f53c6"/><line x1="76.9" y1="781.7" x2="78.2" y2="782.2" stroke="#3f53c6"/><line x1="78.2" y1="782.2" x2="79.5" y2="782.7" stroke="#3f53c7"/><line x1="79.5" y1="782.7" x2="80.7" y2="783.2" stroke="#3f53c7"/><line x1="80.7" y1="783.2" x2="82.0" y2="783.7" stroke="#3f53c7"/><line x1="82.0" y1="783.7" x2="83.3" y2="784.2" stroke="#3f53c7"/><line x1="83.3" y1="784.2" x2="84.5" y2="784.7" stroke="#3f53c7"/><line x1="84.5" y1="784.7" x2="85.8" y2="785.1" stroke="#3f53c7"/><line x1="85.8" y1="785.1" x2="87.1" y2="785.6" stroke="#3f53c7"/><line x1="87.1" y1="785.6" x2="88.4" y2="786.1" stroke="#3f53c7"/><line x1="88.4" y1="786.1" x2="89.7" y2="786.5" stroke="#3f54c7"/><line x1="89.7" y1="786.5" x2="91.0" y2="787.0" stroke="#3f54c7"/><line x1="91.0" y1="787.0" x2="92.3" y2="787.4" stroke="#3f54c7"/><line x1="92.3" y1="787.4" x2="93.6" y2="787.8" stroke="#3f54c7"/><line x1="93.6" y1="787.8" x2="94.8" y2="788.2" stroke="#3f54c7"/><line x1="94.8" y1="788.2" x2="96.1" y2="788.7" stroke="#4054c7"/><line x1="96.1" y1="788.7" x2="97.4" y2="789.1" stroke="#4054c7"/><line x1="97.4" y1="789.1" x2="98.8" y2="789.5" stroke="#4054c7"/><line x1="98.8" y1="789.5" x2="100.1" y2="789.9" stroke="#4054c7"/><line x1="100.1" y1="789.9" x2="101.4" y2="790.2" stroke="#4054c7"/><line x1="101.4" y1="790.2" x2="102.7" y2="790.6" stroke="#4054c7"/><line x1="102.7" y1="790.6" x2="104.0" y2="791.0" stroke="#4054c7"/><line x1="104.0" y1="791.0" x2="105.3" y2="791.4" stroke="#4054c7"/><line x1="105.3" y1="791.4" x2="106.6" y2="791.7" stroke="#4054c7"/><line x1="106.6" y1="791.7" x2="107.9" y2="792.1" stroke="#4054c7"/><line x1="107.9" y1="792.1" x2="109.3" y2="792.4" stroke="#4054c7"/><line x1="109.3" y1="792.4" x2="110.6" y2="792.7" stroke="#4054c7"/><line x1="110.6" y1="792.7" x2="111.9" y2="793.0" stroke="#4054c7"/><line x1="111.9" y1="793.0" x2="113.2" y2="793.4" stroke="#4054c7"/><line x1="113.2" y1="793.4" x2="114.6" y2="793.7" stroke="#4054c7"/><line x1="114.6" y1="793.7" x2="115.9" y2="794.0" stroke="#4054c7"/><line x1="115.9" y1="794.0" x2="117.2" y2="794.3" stroke="#4054c7"/><line x1="117.2" y1="794.3" x2="118.5" y2="794.5" stroke="#4054c7"/><line x1="118.5" y1="794.5" x2="119.9" y2="794.8" stroke="#4054c7"/><line x1="119.9" y1="794.8" x2="121.2" y2="795.1" stroke="#4054c7"/><line x1="121.2" y1="795.1" x2="122.6" y2="795.4" stroke="#4054c7"/><line x1="122.6" y1="795.4" x2="123.9" y2="795.6" stroke="#4054c7"/><line x1="123.9" y1="795.6" x2="125.2" y2="795.9" stroke="#4054c7"/><line x1="125.2" y1="795.9" x2="126.6" y2="796.1" stroke="#4054c7"/><line x1="126.6" y1="796.1" x2="127.9" y2="796.3" stroke="#4054c7"/><line x1="127.9" y1="796.3" x2="129.3" y2="796.5" stroke="#4054c7"/><line x1="129.3" y1="796.5" x2="130.6" y2="796.8" stroke="#4054c7"/><line x1="130.6" y1="796.8" x2="132.0" y2="797.0" stroke="#4054c7"/><line x1="132.0" y1="797.0" x2="133.3" y2="797.2" stroke="#4054c7"/><line x1="133.3" y1="797.2" x2="134.7" y2="797.3" stroke="#4054c7"/><line x1="134.7" y1="797.3" x2="136.0" y2="797.5" stroke="#4054c7"/><line x1="136.0" y1="797.5" x2="137.4" y2="797.7" stroke="#4054c7"/><line x1="137.4" y1="797.7" x2="138.7" y2="797.9" stroke="#4054c7"/><line x1="138.7" y1="797.9" x2="140.1" y2="798.0" stroke="#4054c7"/><line x1="140.1" y1="798.0" x2="141.4" y2="798.2" stroke="#4054c7"/><line x1="141.4" y1="798.2" x2="142.8" y2="798.3" stroke="#4054c7"/><line x1="142.8" y1="798.3" x2="144.1" y2="798.4" stroke="#4054c7"/><line x1="144.1" y1="798.4" x2="145.5" y2="798.6" stroke="#4054c7"/><line x1="145.5" y1="798.6" x2="146.8" y2="798.7" stroke="#4054c7"/><line x1="146.8" y1="798.7" x2="148.2" y2="798.8" stroke="#4054c7"/><line x1="148.2" y1="798.8" x2="149.5" y2="798.9" stroke="#4054c7"/><line x1="149.5" y1="798.9" x2="150.9" y2="799.0" stroke="#4054c7"/><line x1="150.9" y1="799.0" x2="152.3" y2="799.1" stroke="#4054c7"/><line x1="152.3" y1="799.1" x2="153.6" y2="799.2" stroke="#4054c7"/><line x1="153.6" y1="799.2" x2="155.0" y2="799.2" stroke="#4054c7"/><line x1="155.0" y1="799.2" x2="156.3" y2="799.3" stroke="#4054c7"/><line x1="156.3" y1="799.3" x2="157.7" y2="799.3" stroke="#4054c7"/><line x1="157.7" y1="799.3" x2="159.1" y2="799.4" stroke="#4054c7"/><line x1="159.1" y1="799.4" x2="160.4" y2="799.4" stroke="#4054c7"/><line x1="160.4" y1="799.4" x2="161.8" y2="799.5" stroke="#4054c7"/><line x1="161.8" y1="799.5" x2="163.2" y2="799.5" stroke="#4054c7"/><line x1="163.2" y1="799.5" x2="164.5" y2="799.5" stroke="#4054c7"/><line x1="164.5" y1="799.5" x2="165.9" y2="799.5" stroke="#4054c7"/><line x1="165.9" y1="799.5" x2="167.2" y2="799.5" stroke="#4054c7"/><line x1="167.2" y1="799.5" x2="168.6" y2="799.5" stroke="#4054c7"/><line x1="168.6" y1="799.5" x2="170.0" y2="799.5" stroke="#4054c7"/><line x1="170.0" y1="799.5" x2="171.3" y2="799.5" stroke="#4054c7"/><line x1="171.3" y1="799.5" x2="172.7" y2="799.5" stroke="#4054c7"/><line x1="172.7" y1="799.5" x2="174.1" y2="799.4" stroke="#4054c7"/><line x1="174.1" y1="799.4" x2="175.4" y2="799.4" stroke="#4054c7"/><line x1="175.4" y1="799.4" x2="176.8" y2="799.3" stroke="#4054c7"/><line x1="176.8" y1="799.3" x2="178.1" y2="799.3" stroke="#4054c7"/><line x1="178.1" y1="799.3" x2="179.5" y2="799.2" stroke="#4054c7"/><line x1="179.5" y1="799.2" x2="180.9" y2="799.1" stroke="#4054c7"/><line x1="180.9" y1="799.1" x2="182.2" y2="799.1" stroke="#4054c7"/><line x1="182.2" y1="799.1" x2="183.6" y2="799.0" stroke="#4054c7"/><line x1="183.6" y1="799.0" x2="184.9" y2="798.9" stroke="#4054c7"/><line x1="184.9" y1="798.9" x2="186.3" y2="798.8" stroke="#4054c7"/><line x1="186.3" y1="798.8" x2="187.7" y2="798.7" stroke="#4055c7"/><line x1="187.7" y1="798.7" x2="189.0" y2="798.6" stroke="#4055c7"/><line x1="189.0" y1="798.6" x2="190.4" y2="798.5" stroke="#4055c7"/><line x1="190.4" y1="798.5" x2="191.7" y2="798.3" stroke="#4055c8"/><line x1="191.7" y1="798.3" x2="193.1" y2="798.2" stroke="#4055c8"/><line x1="193.1" y1="798.2" x2="194.4" y2="798.1" stroke="#4055c8"/><line x1="194.4" y1="798.1" x2="195.8" y2="797.9" stroke="#4055c8"/><line x1="195.8" y1="797.9" x2="197.2" y2="797.8" stroke="#4055c8"/><line x1="197.2" y1="797.8" x2="198.5" y2="797.6" stroke="#4055c8"/><line x1="198.5" y1="797.6" x2="199.9" y2="797.4" stroke="#4055c8"/><line x1="199.9" y1="797.4" x2="201.2" y2="797.3" stroke="#4055c8"/><line x1="201.2" y1="797.3" x2="202.6" y2="797.1" stroke="#4055c8"/><line x1="202.6" y1="797.1" x2="203.9" y2="796.9" stroke="#4055c8"/><line x1="203.9" y1="796.9" x2="205.3" y2="796.7" stroke="#4055c8"/><line x1="205.3" y1="796.7" x2="206.6" y2="796.5" stroke="#4055c8"/><line x1="206.6" y1="796.5" x2="208.0" y2="796.3" stroke="#4055c8"/><line x1="208.0" y1="796.3" x2="209.3" y2="796.1" stroke="#4055c8"/><line x1="209.3" y1="796.1" x2="210.6" y2="795.9" stroke="#4055c8"/><line x1="210.6" y1="795.9" x2="212.0" y2="795.7" stroke="#4055c8"/><line x1="212.0" y1="795.7" x2="213.3" y2="795.4" stroke="#4055c8"/><line x1="213.3" y1="795.4" x2="214.7" y2="795.2" stroke="#4055c8"/><line x1="214.7" y1="795.2" x2="216.0" y2="795.0" stroke="#4055c8"/><line x1="216.0" y1="795.0" x2="217.3" y2="794.7" stroke="#4055c8"/><line x1="217.3" y1="794.7" x2="218.7" y2="794.5" stroke="#4055c8"/><line x1="218.7" y1="794.5" x2="220.0" y2="794.2" stroke="#4055c8"/><line x1="220.0" y1="794.2" x2="221.4" y2="793.9" stroke="#4055c8"/><line x1="221.4" y1="793.9" x2="222.7" y2="793.7" stroke="#4055c8"/><line x1="222.7" y1="793.7" x2="224.0" y2="793.4" stroke="#4055c8"/><line x1="224.0" y1="793.4" x2="225.4" y2="793.1" stroke="#4055c8"/><line x1="225.4" y1="793.1" x2="226.7" y2="792.8" stroke="#4055c8"/><line x1="226.7" y1="792.8" x2="228.0" y2="792.5" stroke="#4055c8"/><line x1="228.0" y1="792.5" x2="229.3" y2="792.2" stroke="#4055c8"/><line x1="229.3" y1="792.2" x2="230.7" y2="791.9" stroke="#4155c8"/><line x1="230.7" y1="791.9" x2="232.0" y2="791.6" stroke="#4155c8"/><line x1="232.0" y1="791.6" x2="233.3" y2="791.3" stroke="#4155c8"/><line x1="233.3" y1="791.3" x2="234.7" y2="790.9" stroke="#4155c8"/><line x1="234.7" y1="790.9" x2="236.0" y2="790.6" stroke="#4155c8"/><line x1="236.0" y1="790.6" x2="237.3" y2="790.3" stroke="#4155c8"/><line x1="237.3" y1="790.3" x2="238.6" y2="789.9" stroke="#4155c8"/><line x1="238.6" y1="789.9" x2="239.9" y2="789.6" stroke="#4155c8"/><line x1="239.9" y1="789.6" x2="241.3" y2="789.3" stroke="#4155c8"/><line x1="241.3" y1="789.3" x2="242.6" y2="788.9" stroke="#4155c8"/><line x1="242.6" y1="788.9" x2="243.9" y2="788.5" stroke="#4155c8"/><line x1="243.9" y1="788.5" x2="245.2" y2="788.2" stroke="#4155c8"/><line x1="245.2" y1="788.2" x2="246.5" y2="787.8" stroke="#4155c8"/><line x1="246.5" y1="787.8" x2="247.8" y2="787.4" stroke="#4155c8"/><line x1="247.8" y1="787.4" x2="249.1" y2="787.0" stroke="#4155c8"/><line x1="249.1" y1="787.0" x2="250.4" y2="786.7" stroke="#4155c8"/><line x1="250.4" y1="786.7" x2="251.7" y2="786.3" stroke="#4155c8"/><line x1="251.7" y1="786.3" x2="253.0" y2="785.9" stroke="#4155c8"/><line x1="253.0" y1="785.9" x2="254.4" y2="785.5" stroke="#4155c8"/><line x1="254.4" y1="785.5" x2="255.7" y2="785.1" stroke="#4155c8"/><line x1="255.7" y1="785.1" x2="257.0" y2="784.6" stroke="#4155c8"/><line x1="257.0" y1="784.6" x2="258.3" y2="784.2" stroke="#4155c8"/><line x1="258.3" y1="784.2" x2="259.6" y2="783.8" stroke="#4155c8"/><line x1="259.6" y1="783.8" x2="260.8" y2="783.4" stroke="#4155c8"/><line x1="260.8" y1="783.4" x2="262.1" y2="782.9" stroke="#4155c8"/><line x1="262.1" y1="782.9" x2="263.4" y2="782.5" stroke="#4155c8"/><line x1="263.4" y1="782.5" x2="264.7" y2="782.1" stroke="#4155c8"/><line x1="264.7" y1="782.1" x2="266.0" y2="781.6" stroke="#4155c8"/><line x1="266.0" y1="781.6" x2="267.3" y2="781.2" stroke="#4155c8"/><line x1="267.3" y1="781.2" x2="268.6" y2="780.7" stroke="#4155c8"/><line x1="268.6" y1="780.7" x2="269.9" y2="780.3" stroke="#4155c8"/><line x1="269.9" y1="780.3" x2="271.2" y2="779.8" stroke="#4155c8"/><line x1="271.2" y1="779.8" x2="272.4" y2="779.3" stroke="#4155c8"/><line x1="272.4" y1="779.3" x2="273.7" y2="778.9" stroke="#4155c8"/><line x1="273.7" y1="778.9" x2="275.0" y2="778.4" stroke="#4155c8"/><line x1="275.0" y1="778.4" x2="276.3" y2="777.9" stroke="#4155c8"/><line x1="276.3" y1="777.9" x2="277.5" y2="777.4" stroke="#4155c8"/><line x1="277.5" y1="777.4" x2="278.8" y2="776.9" stroke="#4155c8"/><line x1="278.8" y1="776.9" x2="280.1" y2="776.4" stroke="#4155c8"/><line x1="280.1" y1="776.4" x2="281.3" y2="775.9" stroke="#4155c8"/><line x1="281.3" y1="775.9" x2="282.6" y2="775.3" stroke="#4155c8"/><line x1="282.6" y1="775.3" x2="283.8" y2="774.8" stroke="#4155c8"/><line x1="283.8" y1="774.8" x2="285.1" y2="774.3" stroke="#4155c8"/><line x1="285.1" y1="774.3" x2="286.3" y2="773.7" stroke="#4156c8"/><line x1="286.3" y1="773.7" x2="287.6" y2="773.2" stroke="#4156c8"/><line x1="287.6" y1="773.2" x2="288.8" y2="772.6" stroke="#4156c8"/><line x1="288.8" y1="772.6" x2="290.1" y2="772.0" stroke="#4156c8"/><line x1="290.1" y1="772.0" x2="291.3" y2="771.5" stroke="#4156c8"/><line x1="291.3" y1="771.5" x2="292.5" y2="770.9" stroke="#4156c8"/><line x1="292.5" y1="770.9" x2="293.7" y2="770.3" stroke="#4156c8"/><line x1="293.7" y1="770.3" x2="294.9" y2="769.7" stroke="#4156c8"/><line x1="294.9" y1="769.7" x2="296.2" y2="769.1" stroke="#4156c8"/><line x1="296.2" y1="769.1" x2="297.4" y2="768.4" stroke="#4156c8"/><line x1="297.4" y1="768.4" x2="298.6" y2="767.8" stroke="#4156c8"/><line x1="298.6" y1="767.8" x2="299.8" y2="767.2" stroke="#4156c8"/><line x1="299.8" y1="767.2" x2="300.9" y2="766.5" stroke="#4156c8"/><line x1="300.9" y1="766.5" x2="302.1" y2="765.8" stroke="#4156c8"/><line x1="302.1" y1="765.8" x2="303.3" y2="765.2" stroke="#4156c9"/><line x1="303.3" y1="765.2" x2="304.5" y2="764.5" stroke="#4156c9"/><line x1="304.5" y1="764.5" x2="305.6" y2="763.8" stroke="#4156c9"/><line x1="305.6" y1="763.8" x2="306.8" y2="763.1" stroke="#4156c9"/><line x1="306.8" y1="763.1" x2="308.0" y2="762.3" stroke="#4156c9"/><line x1="308.0" y1="762.3" x2="309.1" y2="761.6" stroke="#4156c9"/><line x1="309.1" y1="761.6" x2="310.2" y2="760.9" stroke="#4156c9"/><line x1="310.2" y1="760.9" x2="311.4" y2="760.1" stroke="#4156c9"/><line x1="311.4" y1="760.1" x2="312.5" y2="759.4" stroke="#4156c9"/><line x1="312.5" y1="759.4" x2="313.6" y2="758.6" stroke="#4156c9"/><line x1="313.6" y1="758.6" x2="314.7" y2="757.8" stroke="#4156c9"/><line x1="314.7" y1="757.8" x2="315.9" y2="757.0" stroke="#4156c9"/><line x1="315.9" y1="757.0" x2="317.0" y2="756.2" stroke="#4156c9"/><line x1="317.0" y1="756.2" x2="318.0" y2="755.4" stroke="#4156c9"/><line x1="318.0" y1="755.4" x2="319.1" y2="754.5" stroke="#4156c9"/><line x1="319.1" y1="754.5" x2="320.2" y2="753.7" stroke="#4156c9"/><line x1="320.2" y1="753.7" x2="321.3" y2="752.9" stroke="#4156c9"/><line x1="321.3" y1="752.9" x2="322.3" y2="752.0" stroke="#4156c9"/><line x1="322.3" y1="752.0" x2="323.4" y2="751.1" stroke="#4156c9"/><line x1="323.4" y1="751.1" x2="324.4" y2="750.2" stroke="#4156c9"/><line x1="324.4" y1="750.2" x2="325.5" y2="749.3" stroke="#506ada"/><line x1="325.5" y1="749.3" x2="326.5" y2="748.4" stroke="#607fe9"/><line x1="326.5" y1="748.4" x2="327.5" y2="747.5" stroke="#7093f5"/><line x1="327.5" y1="747.5" x2="328.4" y2="746.5" stroke="#688af0"/><line x1="328.4" y1="746.5" x2="329.3" y2="745.5" stroke="#607fe9"/><line x1="329.3" y1="745.5" x2="330.2" y2="744.5" stroke="#5875e2"/><line x1="330.2" y1="744.5" x2="331.1" y2="743.4" stroke="#506adb"/><line x1="331.1" y1="743.4" x2="331.9" y2="742.3" stroke="#4c65d6"/><line x1="331.9" y1="742.3" x2="332.6" y2="741.2" stroke="#4a62d4"/><line x1="332.6" y1="741.2" x2="333.4" y2="740.1" stroke="#4860d1"/><line x1="333.4" y1="740.1" x2="334.0" y2="738.9" stroke="#475dcf"/><line x1="334.0" y1="738.9" x2="334.7" y2="737.7" stroke="#455bcd"/><line x1="334.7" y1="737.7" x2="335.3" y2="736.5" stroke="#4459cc"/><line x1="335.3" y1="736.5" x2="336.0" y2="735.3" stroke="#4257ca"/><line x1="336.0" y1="735.3" x2="336.6" y2="734.1" stroke="#4258ca"/><line x1="336.6" y1="734.1" x2="337.2" y2="732.9" stroke="#455bce"/><line x1="337.2" y1="732.9" x2="337.9" y2="731.6" stroke="#485fd1"/><line x1="337.9" y1="731.6" x2="338.5" y2="730.4" stroke="#4b63d4"/><line x1="338.5" y1="730.4" x2="339.2" y2="729.2" stroke="#4d67d7"/><line x1="339.2" y1="729.2" x2="339.8" y2="728.0" stroke="#506bdb"/><line x1="339.8" y1="728.0" x2="340.5" y2="726.8" stroke="#536ede"/><line x1="340.5" y1="726.8" x2="341.2" y2="725.7" stroke="#5673e1"/><line x1="341.2" y1="725.7" x2="341.9" y2="724.5" stroke="#5c7ae6"/><line x1="341.9" y1="724.5" x2="342.6" y2="723.3" stroke="#6384ec"/><line x1="342.6" y1="723.3" x2="343.3" y2="722.2" stroke="#6a8df3"/><line x1="343.3" y1="722.2" x2="344.1" y2="721.1" stroke="#7296f6"/><line x1="344.1" y1="721.1" x2="344.9" y2="720.0" stroke="#7a9ef9"/><line x1="344.9" y1="720.0" x2="345.7" y2="718.9" stroke="#7fa3fb"/><line x1="345.7" y1="718.9" x2="346.5" y2="717.8" stroke="#7ca0fa"/><line x1="346.5" y1="717.8" x2="347.4" y2="716.8" stroke="#7a9df9"/><line x1="347.4" y1="716.8" x2="348.2" y2="715.7" stroke="#779bf8"/><line x1="348.2" y1="715.7" x2="349.2" y2="714.7" stroke="#7498f7"/><line x1="349.2" y1="714.7" x2="350.1" y2="713.7" stroke="#7195f6"/><line x1="350.1" y1="713.7" x2="351.1" y2="712.8" stroke="#6a8cf2"/><line x1="351.1" y1="712.8" x2="352.1" y2="711.9" stroke="#5f7fe9"/><line x1="352.1" y1="711.9" x2="353.1" y2="711.0" stroke="#5571df"/><line x1="353.1" y1="711.0" x2="354.1" y2="710.1" stroke="#4a62d3"/><line x1="354.1" y1="710.1" x2="355.2" y2="709.2" stroke="#465cce"/><line x1="355.2" y1="709.2" x2="356.3" y2="708.4" stroke="#465cce"/><line x1="356.3" y1="708.4" x2="357.4" y2="707.6" stroke="#465cce"/><line x1="357.4" y1="707.6" x2="358.5" y2="706.8" stroke="#465cce"/><line x1="358.5" y1="706.8" x2="359.7" y2="706.1" stroke="#465cce"/><line x1="359.7" y1="706.1" x2="360.8" y2="705.3" stroke="#465cce"/><line x1="360.8" y1="705.3" x2="362.0" y2="704.6" stroke="#465cce"/><line x1="362.0" y1="704.6" x2="363.2" y2="704.0" stroke="#465cce"/><line x1="363.2" y1="704.0" x2="364.4" y2="703.3" stroke="#465cce"/><line x1="364.4" y1="703.3" x2="365.7" y2="702.7" stroke="#465cce"/><line x1="365.7" y1="702.7" x2="366.9" y2="702.1" stroke="#465cce"/><line x1="366.9" y1="702.1" x2="368.1" y2="701.5" stroke="#465cce"/><line x1="368.1" y1="701.5" x2="369.4" y2="701.0" stroke="#465cce"/><line x1="369.4" y1="701.0" x2="370.7" y2="700.5" stroke="#465cce"/><line x1="370.7" y1="700.5" x2="371.9" y2="700.0" stroke="#465cce"/><line x1="371.9" y1="700.0" x2="373.2" y2="699.6" stroke="#465cce"/><line x1="373.2" y1="699.6" x2="374.5" y2="699.1" stroke="#465cce"/><line x1="374.5" y1="699.1" x2="375.8" y2="698.7" stroke="#465cce"/><line x1="375.8" y1="698.7" x2="377.1" y2="698.3" stroke="#465cce"/><line x1="377.1" y1="698.3" x2="378.4" y2="697.9" stroke="#465cce"/><line x1="378.4" y1="697.9" x2="379.7" y2="697.6" stroke="#465cce"/><line x1="379.7" y1="697.6" x2="381.0" y2="697.2" stroke="#465cce"/><line x1="381.0" y1="697.2" x2="382.3" y2="696.9" stroke="#465cce"/><line x1="382.3" y1="696.9" x2="383.6" y2="696.6" stroke="#465cce"/><line x1="383.6" y1="696.6" x2="385.0" y2="696.3" stroke="#465cce"/><line x1="385.0" y1="696.3" x2="386.3" y2="695.9" stroke="#465cce"/><line x1="386.3" y1="695.9" x2="387.6" y2="695.6" stroke="#465cce"/><line x1="387.6" y1="695.6" x2="388.9" y2="695.3" stroke="#465cce"/><line x1="388.9" y1="695.3" x2="390.3" y2="695.0" stroke="#465cce"/><line x1="390.3" y1="695.0" x2="391.6" y2="694.7" stroke="#465cce"/><line x1="391.6" y1="694.7" x2="392.9" y2="694.4" stroke="#465cce"/><line x1="392.9" y1="694.4" x2="394.2" y2="694.0" stroke="#465cce"/><line x1="394.2" y1="694.0" x2="395.5" y2="693.7" stroke="#465cce"/><line x1="395.5" y1="693.7" x2="396.9" y2="693.4" stroke="#465cce"/><line x1="396.9" y1="693.4" x2="398.2" y2="693.0" stroke="#465cce"/><line x1="398.2" y1="693.0" x2="399.5" y2="692.7" stroke="#465cce"/><line x1="399.5" y1="692.7" x2="400.8" y2="692.4" stroke="#465cce"/><line x1="400.8" y1="692.4" x2="402.2" y2="692.1" stroke="#465cce"/><line x1="402.2" y1="692.1" x2="403.5" y2="691.7" stroke="#465cce"/><line x1="403.5" y1="691.7" x2="404.8" y2="691.4" stroke="#465cce"/><line x1="404.8" y1="691.4" x2="406.1" y2="691.1" stroke="#465cce"/><line x1="406.1" y1="691.1" x2="407.5" y2="690.9" stroke="#465cce"/><line x1="407.5" y1="690.9" x2="408.8" y2="690.6" stroke="#465cce"/><line x1="408.8" y1="690.6" x2="410.2" y2="690.4" stroke="#465cce"/><line x1="410.2" y1="690.4" x2="411.5" y2="690.1" stroke="#465cce"/><line x1="411.5" y1="690.1" x2="412.8" y2="689.9" stroke="#465cce"/><line x1="412.8" y1="689.9" x2="414.2" y2="689.8" stroke="#465cce"/><line x1="414.2" y1="689.8" x2="415.6" y2="689.6" stroke="#465cce"/><line x1="415.6" y1="689.6" x2="416.9" y2="689.5" stroke="#465cce"/><line x1="416.9" y1="689.5" x2="418.3" y2="689.4" stroke="#465cce"/><line x1="418.3" y1="689.4" x2="419.7" y2="689.3" stroke="#465cce"/><line x1="419.7" y1="689.3" x2="421.0" y2="689.3" stroke="#465cce"/><line x1="421.0" y1="689.3" x2="422.4" y2="689.2" stroke="#465cce"/><line x1="422.4" y1="689.2" x2="423.8" y2="689.2" stroke="#465cce"/><line x1="423.8" y1="689.2" x2="425.1" y2="689.2" stroke="#465cce"/><line x1="425.1" y1="689.2" x2="426.5" y2="689.3" stroke="#465cce"/><line x1="426.5" y1="689.3" x2="427.9" y2="689.3" stroke="#465cce"/><line x1="427.9" y1="689.3" x2="429.3" y2="689.4" stroke="#465cce"/><line x1="429.3" y1="689.4" x2="430.6" y2="689.5" stroke="#465cce"/><line x1="430.6" y1="689.5" x2="432.0" y2="689.6" stroke="#465cce"/><line x1="432.0" y1="689.6" x2="433.4" y2="689.8" stroke="#465cce"/><line x1="433.4" y1="689.8" x2="434.7" y2="690.0" stroke="#465cce"/><line x1="434.7" y1="690.0" x2="436.1" y2="690.2" stroke="#465cce"/><line x1="436.1" y1="690.2" x2="437.4" y2="690.4" stroke="#465cce"/><line x1="437.4" y1="690.4" x2="438.8" y2="690.6" stroke="#465cce"/><line x1="438.8" y1="690.6" x2="440.1" y2="690.9" stroke="#465cce"/><line x1="440.1" y1="690.9" x2="441.5" y2="691.2" stroke="#4961d2"/><line x1="441.5" y1="691.2" x2="442.8" y2="691.5" stroke="#4e68d9"/><line x1="442.8" y1="691.5" x2="444.1" y2="691.9" stroke="#546fdf"/><line x1="444.1" y1="691.9" x2="445.4" y2="692.2" stroke="#5977e3"/><line x1="445.4" y1="692.2" x2="446.7" y2="692.6" stroke="#5e7de8"/><line x1="446.7" y1="692.6" x2="448.0" y2="693.0" stroke="#5976e3"/><line x1="448.0" y1="693.0" x2="449.3" y2="693.5" stroke="#536fde"/><line x1="449.3" y1="693.5" x2="450.6" y2="693.9" stroke="#4e68d8"/><line x1="450.6" y1="693.9" x2="451.9" y2="694.4" stroke="#4961d2"/><line x1="451.9" y1="694.4" x2="453.1" y2="694.9" stroke="#465cce"/><line x1="453.1" y1="694.9" x2="454.4" y2="695.4" stroke="#465cce"/><line x1="454.4" y1="695.4" x2="455.6" y2="696.0" stroke="#465cce"/><line x1="455.6" y1="696.0" x2="456.8" y2="696.6" stroke="#465cce"/><line x1="456.8" y1="696.6" x2="458.0" y2="697.2" stroke="#465cce"/><line x1="458.0" y1="697.2" x2="459.2" y2="697.8" stroke="#465cce"/><line x1="459.2" y1="697.8" x2="460.4" y2="698.4" stroke="#465cce"/><line x1="460.4" y1="698.4" x2="461.6" y2="699.1" stroke="#465cce"/><line x1="461.6" y1="699.1" x2="462.8" y2="699.8" stroke="#465cce"/><line x1="462.8" y1="699.8" x2="463.9" y2="700.5" stroke="#465cce"/><line x1="463.9" y1="700.5" x2="465.0" y2="701.2" stroke="#465cce"/><line x1="465.0" y1="701.2" x2="466.1" y2="702.0" stroke="#465cce"/><line x1="466.1" y1="702.0" x2="467.2" y2="702.8" stroke="#465cce"/><line x1="467.2" y1="702.8" x2="468.3" y2="703.6" stroke="#465cce"/><line x1="468.3" y1="703.6" x2="469.3" y2="704.4" stroke="#465cce"/><line x1="469.3" y1="704.4" x2="470.4" y2="705.2" stroke="#465cce"/><line x1="470.4" y1="705.2" x2="471.4" y2="706.1" stroke="#465cce"/><line x1="471.4" y1="706.1" x2="472.4" y2="707.0" stroke="#465cce"/><line x1="472.4" y1="707.0" x2="473.4" y2="707.9" stroke="#465cce"/><line x1="473.4" y1="707.9" x2="474.4" y2="708.8" stroke="#465cce"/><line x1="474.4" y1="708.8" x2="475.4" y2="709.8" stroke="#465cce"/><line x1="475.4" y1="709.8" x2="476.3" y2="710.7" stroke="#465cce"/><line x1="476.3" y1="710.7" x2="477.3" y2="711.7" stroke="#465cce"/><line x1="477.3" y1="711.7" x2="478.2" y2="712.7" stroke="#465cce"/><line x1="478.2" y1="712.7" x2="479.1" y2="713.7" stroke="#465cce"/><line x1="479.1" y1="713.7" x2="480.0" y2="714.7" stroke="#465cce"/><line x1="480.0" y1="714.7" x2="480.9" y2="715.7" stroke="#465cce"/><line x1="480.9" y1="715.7" x2="481.8" y2="716.8" stroke="#465cce"/><line x1="481.8" y1="716.8" x2="482.7" y2="717.8" stroke="#465cce"/><line x1="482.7" y1="717.8" x2="483.6" y2="718.9" stroke="#465cce"/><line x1="483.6" y1="718.9" x2="484.5" y2="719.9" stroke="#465cce"/><line x1="484.5" y1="719.9" x2="485.3" y2="721.0" stroke="#465cce"/><line x1="485.3" y1="721.0" x2="486.2" y2="722.1" stroke="#465cce"/><line x1="486.2" y1="722.1" x2="487.1" y2="723.2" stroke="#465cce"/><line x1="487.1" y1="723.2" x2="487.9" y2="724.3" stroke="#465cce"/><line x1="487.9" y1="724.3" x2="488.8" y2="725.3" stroke="#465cce"/><line x1="488.8" y1="725.3" x2="489.6" y2="726.4" stroke="#465cce"/><line x1="489.6" y1="726.4" x2="490.5" y2="727.5" stroke="#465cce"/><line x1="490.5" y1="727.5" x2="491.3" y2="728.6" stroke="#465cce"/><line x1="491.3" y1="728.6" x2="492.2" y2="729.7" stroke="#465cce"/><line x1="492.2" y1="729.7" x2="493.0" y2="730.8" stroke="#465cce"/><line x1="493.0" y1="730.8" x2="493.9" y2="731.9" stroke="#465cce"/><line x1="493.9" y1="731.9" x2="494.7" y2="733.0" stroke="#465cce"/><line x1="494.7" y1="733.0" x2="495.6" y2="734.1" stroke="#465cce"/><line x1="495.6" y1="734.1" x2="496.5" y2="735.2" stroke="#465cce"/><line x1="496.5" y1="735.2" x2="497.3" y2="736.2" stroke="#465cce"/><line x1="497.3" y1="736.2" x2="498.2" y2="737.3" stroke="#465cce"/><line x1="498.2" y1="737.3" x2="499.1" y2="738.4" stroke="#465cce"/><line x1="499.1" y1="738.4" x2="500.0" y2="739.4" stroke="#465cce"/><line x1="500.0" y1="739.4" x2="500.8" y2="740.4" stroke="#465cce"/><line x1="500.8" y1="740.4" x2="501.7" y2="741.5" stroke="#465cce"/><line x1="501.7" y1="741.5" x2="502.7" y2="742.5" stroke="#465cce"/><line x1="502.7" y1="742.5" x2="503.6" y2="743.5" stroke="#465cce"/><line x1="503.6" y1="743.5" x2="504.5" y2="744.5" stroke="#465cce"/><line x1="504.5" y1="744.5" x2="505.4" y2="745.5" stroke="#465cce"/><line x1="505.4" y1="745.5" x2="506.4" y2="746.4" stroke="#465cce"/><line x1="506.4" y1="746.4" x2="507.4" y2="747.4" stroke="#465cce"/><line x1="507.4" y1="747.4" x2="508.3" y2="748.3" stroke="#465cce"/><line x1="508.3" y1="748.3" x2="509.3" y2="749.2" stroke="#465cce"/><line x1="509.3" y1="749.2" x2="510.4" y2="750.1" stroke="#465cce"/><line x1="510.4" y1="750.1" x2="511.4" y2="751.0" stroke="#465cce"/><line x1="511.4" y1="751.0" x2="512.4" y2="751.8" stroke="#465cce"/><line x1="512.4" y1="751.8" x2="513.5" y2="752.6" stroke="#6485ed"/><line x1="513.5" y1="752.6" x2="514.6" y2="753.4" stroke="#8aadfe"/><line x1="514.6" y1="753.4" x2="515.8" y2="754.2" stroke="#f0c9b6"/><line x1="515.8" y1="754.2" x2="516.9" y2="754.9" stroke="#d55e4d"/><line x1="516.9" y1="754.9" x2="518.1" y2="755.6" stroke="#b40426"/><line x1="518.1" y1="755.6" x2="519.3" y2="756.2" stroke="#b40426"/><line x1="519.3" y1="756.2" x2="520.6" y2="756.8" stroke="#b40426"/><line x1="520.6" y1="756.8" x2="521.8" y2="757.3" stroke="#b40426"/><line x1="521.8" y1="757.3" x2="523.1" y2="757.6" stroke="#b40426"/><line x1="523.1" y1="757.6" x2="524.4" y2="757.8" stroke="#b40426"/><line x1="524.4" y1="757.8" x2="525.7" y2="757.8" stroke="#b40426"/><line x1="525.7" y1="757.8" x2="527.0" y2="757.7" stroke="#b40426"/><line x1="527.0" y1="757.7" x2="528.3" y2="757.4" stroke="#b40426"/><line x1="528.3" y1="757.4" x2="529.5" y2="757.1" stroke="#f39d7e"/><line x1="529.5" y1="757.1" x2="530.8" y2="756.6" stroke="#8eb1fe"/><line x1="530.8" y1="756.6" x2="532.1" y2="756.1" stroke="#7295f6"/><line x1="532.1" y1="756.1" x2="533.4" y2="755.6" stroke="#5673e1"/><line x1="533.4" y1="755.6" x2="534.7" y2="755.0" stroke="#4960d2"/><line x1="534.7" y1="755.0" x2="536.0" y2="754.5" stroke="#4156c9"/><line x1="536.0" y1="754.5" x2="537.3" y2="753.9" stroke="#4156c9"/><line x1="537.3" y1="753.9" x2="538.6" y2="753.4" stroke="#4156c9"/><line x1="538.6" y1="753.4" x2="539.9" y2="752.9" stroke="#4156c9"/><line x1="539.9" y1="752.9" x2="541.2" y2="752.3" stroke="#4156c9"/><line x1="541.2" y1="752.3" x2="542.4" y2="751.8" stroke="#4156c9"/><line x1="542.4" y1="751.8" x2="543.7" y2="751.3" stroke="#4156c9"/><line x1="543.7" y1="751.3" x2="545.0" y2="750.8" stroke="#4156c9"/><line x1="545.0" y1="750.8" x2="546.2" y2="750.3" stroke="#4156c9"/><line x1="546.2" y1="750.3" x2="547.5" y2="749.8" stroke="#4156c9"/><line x1="547.5" y1="749.8" x2="548.8" y2="749.3" stroke="#4156c9"/><line x1="548.8" y1="749.3" x2="550.0" y2="748.8" stroke="#4156c9"/><line x1="550.0" y1="748.8" x2="551.3" y2="748.3" stroke="#4156c8"/><line x1="551.3" y1="748.3" x2="552.6" y2="747.8" stroke="#4156c8"/><line x1="552.6" y1="747.8" x2="553.8" y2="747.3" stroke="#4156c8"/><line x1="553.8" y1="747.3" x2="555.1" y2="746.9" stroke="#4156c8"/><line x1="555.1" y1="746.9" x2="556.3" y2="746.4" stroke="#4156c8"/><line x1="556.3" y1="746.4" x2="557.6" y2="745.9" stroke="#4156c8"/><line x1="557.6" y1="745.9" x2="558.9" y2="745.4" stroke="#4156c8"/><line x1="558.9" y1="745.4" x2="560.1" y2="744.9" stroke="#4156c8"/><line x1="560.1" y1="744.9" x2="561.4" y2="744.5" stroke="#4155c8"/><line x1="561.4" y1="744.5" x2="562.7" y2="744.0" stroke="#4155c8"/><line x1="562.7" y1="744.0" x2="563.9" y2="743.5" stroke="#4155c8"/><line x1="563.9" y1="743.5" x2="565.2" y2="743.0" stroke="#4155c8"/><line x1="565.2" y1="743.0" x2="566.5" y2="742.5" stroke="#4155c8"/><line x1="566.5" y1="742.5" x2="567.7" y2="742.1" stroke="#4155c8"/><line x1="567.7" y1="742.1" x2="569.0" y2="741.6" stroke="#4155c8"/><line x1="569.0" y1="741.6" x2="570.3" y2="741.1" stroke="#4155c8"/><line x1="570.3" y1="741.1" x2="571.6" y2="740.6" stroke="#4155c8"/><line x1="571.6" y1="740.6" x2="572.8" y2="740.2" stroke="#4155c8"/><line x1="572.8" y1="740.2" x2="574.1" y2="739.7" stroke="#4155c8"/><line x1="574.1" y1="739.7" x2="575.4" y2="739.2" stroke="#4155c8"/><line x1="575.4" y1="739.2" x2="576.7" y2="738.8" stroke="#4155c8"/><line x1="576.7" y1="738.8" x2="578.0" y2="738.3" stroke="#4155c8"/><line x1="578.0" y1="738.3" x2="579.3" y2="737.9" stroke="#4155c8"/><line x1="579.3" y1="737.9" x2="580.6" y2="737.4" stroke="#4155c8"/><line x1="580.6" y1="737.4" x2="581.9" y2="737.0" stroke="#4155c8"/><line x1="581.9" y1="737.0" x2="583.1" y2="736.6" stroke="#4155c8"/><line x1="583.1" y1="736.6" x2="584.4" y2="736.1" stroke="#4155c8"/><line x1="584.4" y1="736.1" x2="585.7" y2="735.7" stroke="#4155c8"/><line x1="585.7" y1="735.7" x2="587.0" y2="735.3" stroke="#4155c8"/><line x1="587.0" y1="735.3" x2="588.3" y2="734.9" stroke="#4155c8"/><line x1="588.3" y1="734.9" x2="589.6" y2="734.5" stroke="#4155c8"/><line x1="589.6" y1="734.5" x2="590.9" y2="734.1" stroke="#4155c8"/><line x1="590.9" y1="734.1" x2="592.3" y2="733.7" stroke="#4155c8"/><line x1="592.3" y1="733.7" x2="593.6" y2="733.3" stroke="#4155c8"/><line x1="593.6" y1="733.3" x2="594.9" y2="732.9" stroke="#4155c8"/><line x1="594.9" y1="732.9" x2="596.2" y2="732.5" stroke="#4155c8"/><line x1="596.2" y1="732.5" x2="597.5" y2="732.2" stroke="#4055c8"/><line x1="597.5" y1="732.2" x2="598.8" y2="731.8" stroke="#4055c8"/><line x1="598.8" y1="731.8" x2="600.1" y2="731.5" stroke="#4055c8"/><line x1="600.1" y1="731.5" x2="601.5" y2="731.2" stroke="#4055c8"/><line x1="601.5" y1="731.2" x2="602.8" y2="730.8" stroke="#4055c8"/><line x1="602.8" y1="730.8" x2="604.1" y2="730.5" stroke="#4055c8"/><line x1="604.1" y1="730.5" x2="605.4" y2="730.2" stroke="#4055c8"/><line x1="605.4" y1="730.2" x2="606.8" y2="730.0" stroke="#4055c8"/><line x1="606.8" y1="730.0" x2="608.1" y2="729.7" stroke="#4055c8"/><line x1="608.1" y1="729.7" x2="609.5" y2="729.4" stroke="#4055c8"/><line x1="609.5" y1="729.4" x2="610.8" y2="729.2" stroke="#4055c8"/><line x1="610.8" y1="729.2" x2="612.1" y2="728.9" stroke="#4055c8"/><line x1="612.1" y1="728.9" x2="613.5" y2="728.7" stroke="#4055c8"/><line x1="613.5" y1="728.7" x2="614.8" y2="728.5" stroke="#4055c8"/><line x1="614.8" y1="728.5" x2="616.2" y2="728.3" stroke="#4055c8"/><line x1="616.2" y1="728.3" x2="617.5" y2="728.1" stroke="#4055c8"/><line x1="617.5" y1="728.1" x2="618.9" y2="727.9" stroke="#4055c8"/><line x1="618.9" y1="727.9" x2="620.2" y2="727.8" stroke="#4055c8"/><line x1="620.2" y1="727.8" x2="621.6" y2="727.7" stroke="#4055c8"/><line x1="621.6" y1="727.7" x2="623.0" y2="727.5" stroke="#4055c7"/><line x1="623.0" y1="727.5" x2="624.3" y2="727.4" stroke="#4055c7"/><line x1="624.3" y1="727.4" x2="625.7" y2="727.3" stroke="#4054c7"/><line x1="625.7" y1="727.3" x2="627.0" y2="727.2" stroke="#4054c7"/><line x1="627.0" y1="727.2" x2="628.4" y2="727.2" stroke="#4054c7"/><line x1="628.4" y1="727.2" x2="629.8" y2="727.1" stroke="#4054c7"/><line x1="629.8" y1="727.1" x2="631.1" y2="727.1" stroke="#4054c7"/><line x1="631.1" y1="727.1" x2="632.5" y2="727.1" stroke="#4054c7"/><line x1="632.5" y1="727.1" x2="633.9" y2="727.1" stroke="#4054c7"/><line x1="633.9" y1="727.1" x2="635.2" y2="727.1" stroke="#4054c7"/><line x1="635.2" y1="727.1" x2="636.6" y2="727.2" stroke="#4054c7"/><line x1="636.6" y1="727.2" x2="638.0" y2="727.2" stroke="#4054c7"/><line x1="638.0" y1="727.2" x2="639.3" y2="727.3" stroke="#4054c7"/><line x1="639.3" y1="727.3" x2="640.7" y2="727.4" stroke="#4054c7"/><line x1="640.7" y1="727.4" x2="642.1" y2="727.5" stroke="#4054c7"/><line x1="642.1" y1="727.5" x2="643.4" y2="727.6" stroke="#4054c7"/><line x1="643.4" y1="727.6" x2="644.8" y2="727.8" stroke="#4054c7"/><line x1="644.8" y1="727.8" x2="646.1" y2="727.9" stroke="#4054c7"/><line x1="646.1" y1="727.9" x2="647.5" y2="728.1" stroke="#4054c7"/><line x1="647.5" y1="728.1" x2="648.8" y2="728.3" stroke="#4054c7"/><line x1="648.8" y1="728.3" x2="650.1" y2="728.5" stroke="#4054c7"/><line x1="650.1" y1="728.5" x2="651.5" y2="728.8" stroke="#4054c7"/><line x1="651.5" y1="728.8" x2="652.8" y2="729.0" stroke="#4054c7"/><line x1="652.8" y1="729.0" x2="654.1" y2="729.3" stroke="#4054c7"/><line x1="654.1" y1="729.3" x2="655.5" y2="729.6" stroke="#4054c7"/><line x1="655.5" y1="729.6" x2="656.8" y2="729.9" stroke="#4054c7"/><line x1="656.8" y1="729.9" x2="658.1" y2="730.2" stroke="#4054c7"/><line x1="658.1" y1="730.2" x2="659.4" y2="730.6" stroke="#4054c7"/><line x1="659.4" y1="730.6" x2="660.7" y2="730.9" stroke="#4054c7"/><line x1="660.7" y1="730.9" x2="662.0" y2="731.3" stroke="#4054c7"/><line x1="662.0" y1="731.3" x2="663.3" y2="731.7" stroke="#4054c7"/><line x1="663.3" y1="731.7" x2="664.6" y2="732.1" stroke="#4054c7"/><line x1="664.6" y1="732.1" x2="665.9" y2="732.5" stroke="#4054c7"/><line x1="665.9" y1="732.5" x2="667.2" y2="732.9" stroke="#4054c7"/><line x1="667.2" y1="732.9" x2="668.5" y2="733.4" stroke="#4054c7"/><line x1="668.5" y1="733.4" x2="669.8" y2="733.8" stroke="#4054c7"/><line x1="669.8" y1="733.8" x2="671.1" y2="734.3" stroke="#4054c7"/><line x1="671.1" y1="734.3" x2="672.3" y2="734.8" stroke="#4054c7"/><line x1="672.3" y1="734.8" x2="673.6" y2="735.3" stroke="#4054c7"/><line x1="673.6" y1="735.3" x2="674.9" y2="735.7" stroke="#4054c7"/><line x1="674.9" y1="735.7" x2="676.2" y2="736.3" stroke="#4054c7"/><line x1="676.2" y1="736.3" x2="677.4" y2="736.8" stroke="#4054c7"/><line x1="677.4" y1="736.8" x2="678.7" y2="737.3" stroke="#4054c7"/><line x1="678.7" y1="737.3" x2="680.0" y2="737.8" stroke="#4054c7"/><line x1="680.0" y1="737.8" x2="681.2" y2="738.3" stroke="#4054c7"/><line x1="681.2" y1="738.3" x2="682.5" y2="738.9" stroke="#4054c7"/><line x1="682.5" y1="738.9" x2="683.7" y2="739.4" stroke="#4054c7"/><line x1="683.7" y1="739.4" x2="685.0" y2="740.0" stroke="#3f54c7"/><line x1="685.0" y1="740.0" x2="686.3" y2="740.5" stroke="#3f54c7"/><line x1="686.3" y1="740.5" x2="687.5" y2="741.1" stroke="#3f54c7"/><line x1="687.5" y1="741.1" x2="688.8" y2="741.6" stroke="#3f53c7"/><line x1="688.8" y1="741.6" x2="690.0" y2="742.2" stroke="#3f53c7"/><line x1="690.0" y1="742.2" x2="691.3" y2="742.8" stroke="#3f53c7"/><line x1="691.3" y1="742.8" x2="692.5" y2="743.4" stroke="#3f53c7"/><line x1="692.5" y1="743.4" x2="693.7" y2="743.9" stroke="#3f53c7"/><line x1="693.7" y1="743.9" x2="695.0" y2="744.5" stroke="#3f53c6"/><line x1="695.0" y1="744.5" x2="696.2" y2="745.1" stroke="#3f53c6"/><line x1="696.2" y1="745.1" x2="697.5" y2="745.7" stroke="#3f53c6"/><line x1="697.5" y1="745.7" x2="698.7" y2="746.3" stroke="#3f53c6"/><line x1="698.7" y1="746.3" x2="699.9" y2="746.9" stroke="#3f53c6"/><line x1="699.9" y1="746.9" x2="701.1" y2="747.5" stroke="#3f53c6"/><line x1="701.1" y1="747.5" x2="702.4" y2="748.1" stroke="#3f53c6"/><line x1="702.4" y1="748.1" x2="703.6" y2="748.7" stroke="#3f53c6"/><line x1="703.6" y1="748.7" x2="704.8" y2="749.3" stroke="#3f53c6"/><line x1="704.8" y1="749.3" x2="706.0" y2="749.9" stroke="#3f53c6"/><line x1="706.0" y1="749.9" x2="707.2" y2="750.6" stroke="#3f53c6"/><line x1="707.2" y1="750.6" x2="708.4" y2="751.2" stroke="#3f53c6"/><line x1="708.4" y1="751.2" x2="709.6" y2="751.8" stroke="#3f53c6"/><line x1="709.6" y1="751.8" x2="710.8" y2="752.5" stroke="#3f53c6"/><line x1="710.8" y1="752.5" x2="712.0" y2="753.1" stroke="#3f53c6"/><line x1="712.0" y1="753.1" x2="713.2" y2="753.8" stroke="#3f53c6"/><line x1="713.2" y1="753.8" x2="714.4" y2="754.5" stroke="#3f53c6"/><line x1="714.4" y1="754.5" x2="715.5" y2="755.2" stroke="#3f53c6"/><line x1="715.5" y1="755.2" x2="716.7" y2="755.9" stroke="#3f53c6"/><line x1="716.7" y1="755.9" x2="717.9" y2="756.6" stroke="#3f53c6"/><line x1="717.9" y1="756.6" x2="719.0" y2="757.3" stroke="#3f53c6"/><line x1="719.0" y1="757.3" x2="720.2" y2="758.0" stroke="#3f53c6"/><line x1="720.2" y1="758.0" x2="721.3" y2="758.7" stroke="#3f53c6"/><line x1="721.3" y1="758.7" x2="722.5" y2="759.5" stroke="#3f53c6"/><line x1="722.5" y1="759.5" x2="723.6" y2="760.2" stroke="#3f53c6"/><line x1="723.6" y1="760.2" x2="724.7" y2="761.0" stroke="#3f53c6"/><line x1="724.7" y1="761.0" x2="725.8" y2="761.7" stroke="#3f53c6"/><line x1="725.8" y1="761.7" x2="726.9" y2="762.5" stroke="#3f53c6"/><line x1="726.9" y1="762.5" x2="728.0" y2="763.3" stroke="#3f53c6"/><line x1="728.0" y1="763.3" x2="729.1" y2="764.1" stroke="#3f53c6"/><line x1="729.1" y1="764.1" x2="730.2" y2="764.9" stroke="#3f53c6"/><line x1="730.2" y1="764.9" x2="731.3" y2="765.8" stroke="#3f53c6"/><line x1="731.3" y1="765.8" x2="732.4" y2="766.6" stroke="#3f53c6"/><line x1="732.4" y1="766.6" x2="733.4" y2="767.5" stroke="#3f53c6"/><line x1="733.4" y1="767.5" x2="734.5" y2="768.3" stroke="#3f53c6"/><line x1="734.5" y1="768.3" x2="735.5" y2="769.2" stroke="#3f53c6"/><line x1="735.5" y1="769.2" x2="736.5" y2="770.1" stroke="#3f53c6"/><line x1="736.5" y1="770.1" x2="737.6" y2="771.0" stroke="#3f53c6"/><line x1="737.6" y1="771.0" x2="738.6" y2="771.9" stroke="#3f53c6"/><line x1="738.6" y1="771.9" x2="739.6" y2="772.9" stroke="#3f53c6"/><line x1="739.6" y1="772.9" x2="740.6" y2="773.8" stroke="#3f53c6"/><line x1="740.6" y1="773.8" x2="741.6" y2="774.8" stroke="#3f53c6"/><line x1="741.6" y1="774.8" x2="742.5" y2="775.8" stroke="#3f53c6"/></g>
<g stroke-width="4.6" stroke-linecap="round"><line x1="17.6" y1="1001.7" x2="18.7" y2="1002.6" stroke="#3f53c6"/><line x1="18.7" y1="1002.6" x2="19.7" y2="1003.4" stroke="#3f53c6"/><line x1="19.7" y1="1003.4" x2="20.8" y2="1004.3" stroke="#3f53c6"/><line x1="20.8" y1="1004.3" x2="21.9" y2="1005.1" stroke="#3f53c6"/><line x1="21.9" y1="1005.1" x2="22.9" y2="1006.0" stroke="#3f53c6"/><line x1="22.9" y1="1006.0" x2="24.0" y2="1006.8" stroke="#3f53c6"/><line x1="24.0" y1="1006.8" x2="25.1" y2="1007.6" stroke="#3f53c6"/><line x1="25.1" y1="1007.6" x2="26.2" y2="1008.4" stroke="#3f53c6"/><line x1="26.2" y1="1008.4" x2="27.3" y2="1009.2" stroke="#3f53c6"/><line x1="27.3" y1="1009.2" x2="28.4" y2="1010.1" stroke="#3f53c6"/><line x1="28.4" y1="1010.1" x2="29.5" y2="1010.9" stroke="#3f53c6"/><line x1="29.5" y1="1010.9" x2="30.6" y2="1011.6" stroke="#3f53c6"/><line x1="30.6" y1="1011.6" x2="31.7" y2="1012.4" stroke="#3f53c6"/><line x1="31.7" y1="1012.4" x2="32.8" y2="1013.2" stroke="#3f53c6"/><line x1="32.8" y1="1013.2" x2="33.9" y2="1014.0" stroke="#3f53c6"/><line x1="33.9" y1="1014.0" x2="35.0" y2="1014.8" stroke="#3f53c6"/><line x1="35.0" y1="1014.8" x2="36.2" y2="1015.5" stroke="#3f53c6"/><line x1="36.2" y1="1015.5" x2="37.3" y2="1016.3" stroke="#3f53c6"/><line x1="37.3" y1="1016.3" x2="38.4" y2="1017.0" stroke="#3f53c6"/><line x1="38.4" y1="1017.0" x2="39.6" y2="1017.8" stroke="#3f53c6"/><line x1="39.6" y1="1017.8" x2="40.7" y2="1018.5" stroke="#3f53c6"/><line x1="40.7" y1="1018.5" x2="41.9" y2="1019.2" stroke="#3f53c6"/><line x1="41.9" y1="1019.2" x2="43.0" y2="1020.0" stroke="#3f53c6"/><line x1="43.0" y1="1020.0" x2="44.2" y2="1020.7" stroke="#3f53c6"/><line x1="44.2" y1="1020.7" x2="45.3" y2="1021.4" stroke="#3f53c6"/><line x1="45.3" y1="1021.4" x2="46.5" y2="1022.1" stroke="#3f53c6"/><line x1="46.5" y1="1022.1" x2="47.7" y2="1022.8" stroke="#3f53c6"/><line x1="47.7" y1="1022.8" x2="48.9" y2="1023.5" stroke="#3f53c6"/><line x1="48.9" y1="1023.5" x2="50.0" y2="1024.1" stroke="#3f53c6"/><line x1="50.0" y1="1024.1" x2="51.2" y2="1024.8" stroke="#3f53c6"/><line x1="51.2" y1="1024.8" x2="52.4" y2="1025.5" stroke="#3f53c6"/><line x1="52.4" y1="1025.5" x2="53.6" y2="1026.1" stroke="#3f53c6"/><line x1="53.6" y1="1026.1" x2="54.8" y2="1026.8" stroke="#3f53c6"/><line x1="54.8" y1="1026.8" x2="56.0" y2="1027.4" stroke="#3f53c6"/><line x1="56.0" y1="1027.4" x2="57.2" y2="1028.1" stroke="#3f53c6"/><line x1="57.2" y1="1028.1" x2="58.4" y2="1028.7" stroke="#3f53c6"/><line x1="58.4" y1="1028.7" x2="59.6" y2="1029.3" stroke="#3f53c6"/><line x1="59.6" y1="1029.3" x2="60.8" y2="1030.0" stroke="#3f53c6"/><line x1="60.8" y1="1030.0" x2="62.1" y2="1030.6" stroke="#3f53c6"/><line x1="62.1" y1="1030.6" x2="63.3" y2="1031.2" stroke="#3f53c6"/><line x1="63.3" y1="1031.2" x2="64.5" y2="1031.8" stroke="#3f53c6"/><line x1="64.5" y1="1031.8" x2="65.7" y2="1032.4" stroke="#3f53c6"/><line x1="65.7" y1="1032.4" x2="67.0" y2="1032.9" stroke="#3f53c6"/><line x1="67.0" y1="1032.9" x2="68.2" y2="1033.5" stroke="#3f53c6"/><line x1="68.2" y1="1033.5" x2="69.4" y2="1034.1" stroke="#3f53c6"/><line x1="69.4" y1="1034.1" x2="70.7" y2="1034.7" stroke="#3f53c6"/><line x1="70.7" y1="1034.7" x2="71.9" y2="1035.2" stroke="#3f53c6"/><line x1="71.9" y1="1035.2" x2="73.2" y2="1035.8" stroke="#3f53c6"/><line x1="73.2" y1="1035.8" x2="74.4" y2="1036.3" stroke="#3f53c6"/><line x1="74.4" y1="1036.3" x2="75.7" y2="1036.8" stroke="#3f53c6"/><line x1="75.7" y1="1036.8" x2="76.9" y2="1037.4" stroke="#3f53c6"/><line x1="76.9" y1="1037.4" x2="78.2" y2="1037.9" stroke="#3f53c7"/><line x1="78.2" y1="1037.9" x2="79.5" y2="1038.4" stroke="#3f53c7"/><line x1="79.5" y1="1038.4" x2="80.7" y2="1038.9" stroke="#3f53c7"/><line x1="80.7" y1="1038.9" x2="82.0" y2="1039.4" stroke="#3f53c7"/><line x1="82.0" y1="1039.4" x2="83.3" y2="1039.9" stroke="#3f53c7"/><line x1="83.3" y1="1039.9" x2="84.5" y2="1040.4" stroke="#3f53c7"/><line x1="84.5" y1="1040.4" x2="85.8" y2="1040.8" stroke="#3f53c7"/><line x1="85.8" y1="1040.8" x2="87.1" y2="1041.3" stroke="#3f53c7"/><line x1="87.1" y1="1041.3" x2="88.4" y2="1041.8" stroke="#3f54c7"/><line x1="88.4" y1="1041.8" x2="89.7" y2="1042.2" stroke="#3f54c7"/><line x1="89.7" y1="1042.2" x2="91.0" y2="1042.7" stroke="#3f54c7"/><line x1="91.0" y1="1042.7" x2="92.3" y2="1043.1" stroke="#3f54c7"/><line x1="92.3" y1="1043.1" x2="93.6" y2="1043.5" stroke="#4054c7"/><line x1="93.6" y1="1043.5" x2="94.8" y2="1043.9" stroke="#4054c7"/><line x1="94.8" y1="1043.9" x2="96.1" y2="1044.4" stroke="#4054c7"/><line x1="96.1" y1="1044.4" x2="97.4" y2="1044.8" stroke="#4054c7"/><line x1="97.4" y1="1044.8" x2="98.8" y2="1045.2" stroke="#4054c7"/><line x1="98.8" y1="1045.2" x2="100.1" y2="1045.6" stroke="#4054c7"/><line x1="100.1" y1="1045.6" x2="101.4" y2="1045.9" stroke="#4054c7"/><line x1="101.4" y1="1045.9" x2="102.7" y2="1046.3" stroke="#4054c7"/><line x1="102.7" y1="1046.3" x2="104.0" y2="1046.7" stroke="#4054c7"/><line x1="104.0" y1="1046.7" x2="105.3" y2="1047.1" stroke="#4054c7"/><line x1="105.3" y1="1047.1" x2="106.6" y2="1047.4" stroke="#4054c7"/><line x1="106.6" y1="1047.4" x2="107.9" y2="1047.8" stroke="#4054c7"/><line x1="107.9" y1="1047.8" x2="109.3" y2="1048.1" stroke="#4054c7"/><line x1="109.3" y1="1048.1" x2="110.6" y2="1048.4" stroke="#4054c7"/><line x1="110.6" y1="1048.4" x2="111.9" y2="1048.7" stroke="#4054c7"/><line x1="111.9" y1="1048.7" x2="113.2" y2="1049.1" stroke="#4054c7"/><line x1="113.2" y1="1049.1" x2="114.6" y2="1049.4" stroke="#4054c7"/><line x1="114.6" y1="1049.4" x2="115.9" y2="1049.7" stroke="#4054c7"/><line x1="115.9" y1="1049.7" x2="117.2" y2="1050.0" stroke="#4054c7"/><line x1="117.2" y1="1050.0" x2="118.5" y2="1050.2" stroke="#4054c7"/><line x1="118.5" y1="1050.2" x2="119.9" y2="1050.5" stroke="#4054c7"/><line x1="119.9" y1="1050.5" x2="121.2" y2="1050.8" stroke="#4054c7"/><line x1="121.2" y1="1050.8" x2="122.6" y2="1051.1" stroke="#4054c7"/><line x1="122.6" y1="1051.1" x2="123.9" y2="1051.3" stroke="#4054c7"/><line x1="123.9" y1="1051.3" x2="125.2" y2="1051.6" stroke="#4054c7"/><line x1="125.2" y1="1051.6" x2="126.6" y2="1051.8" stroke="#4054c7"/><line x1="126.6" y1="1051.8" x2="127.9" y2="1052.0" stroke="#4054c7"/><line x1="127.9" y1="1052.0" x2="129.3" y2="1052.2" stroke="#4054c7"/><line x1="129.3" y1="1052.2" x2="130.6" y2="1052.5" stroke="#4054c7"/><line x1="130.6" y1="1052.5" x2="132.0" y2="1052.7" stroke="#4054c7"/><line x1="132.0" y1="1052.7" x2="133.3" y2="1052.9" stroke="#4054c7"/><line x1="133.3" y1="1052.9" x2="134.7" y2="1053.0" stroke="#4054c7"/><line x1="134.7" y1="1053.0" x2="136.0" y2="1053.2" stroke="#4054c7"/><line x1="136.0" y1="1053.2" x2="137.4" y2="1053.4" stroke="#4054c7"/><line x1="137.4" y1="1053.4" x2="138.7" y2="1053.6" stroke="#4054c7"/><line x1="138.7" y1="1053.6" x2="140.1" y2="1053.7" stroke="#4054c7"/><line x1="140.1" y1="1053.7" x2="141.4" y2="1053.9" stroke="#4054c7"/><line x1="141.4" y1="1053.9" x2="142.8" y2="1054.0" stroke="#4054c7"/><line x1="142.8" y1="1054.0" x2="144.1" y2="1054.1" stroke="#4054c7"/><line x1="144.1" y1="1054.1" x2="145.5" y2="1054.3" stroke="#4054c7"/><line x1="145.5" y1="1054.3" x2="146.8" y2="1054.4" stroke="#4054c7"/><line x1="146.8" y1="1054.4" x2="148.2" y2="1054.5" stroke="#4054c7"/><line x1="148.2" y1="1054.5" x2="149.5" y2="1054.6" stroke="#4054c7"/><line x1="149.5" y1="1054.6" x2="150.9" y2="1054.7" stroke="#4054c7"/><line x1="150.9" y1="1054.7" x2="152.3" y2="1054.8" stroke="#4054c7"/><line x1="152.3" y1="1054.8" x2="153.6" y2="1054.9" stroke="#4054c7"/><line x1="153.6" y1="1054.9" x2="155.0" y2="1054.9" stroke="#4054c7"/><line x1="155.0" y1="1054.9" x2="156.3" y2="1055.0" stroke="#4054c7"/><line x1="156.3" y1="1055.0" x2="157.7" y2="1055.0" stroke="#4054c7"/><line x1="157.7" y1="1055.0" x2="159.1" y2="1055.1" stroke="#4054c7"/><line x1="159.1" y1="1055.1" x2="160.4" y2="1055.1" stroke="#4054c7"/><line x1="160.4" y1="1055.1" x2="161.8" y2="1055.2" stroke="#4054c7"/><line x1="161.8" y1="1055.2" x2="163.2" y2="1055.2" stroke="#4054c7"/><line x1="163.2" y1="1055.2" x2="164.5" y2="1055.2" stroke="#4054c7"/><line x1="164.5" y1="1055.2" x2="165.9" y2="1055.2" stroke="#4054c7"/><line x1="165.9" y1="1055.2" x2="167.2" y2="1055.2" stroke="#4054c7"/><line x1="167.2" y1="1055.2" x2="168.6" y2="1055.2" stroke="#4054c7"/><line x1="168.6" y1="1055.2" x2="170.0" y2="1055.2" stroke="#4054c7"/><line x1="170.0" y1="1055.2" x2="171.3" y2="1055.2" stroke="#4054c7"/><line x1="171.3" y1="1055.2" x2="172.7" y2="1055.2" stroke="#4054c7"/><line x1="172.7" y1="1055.2" x2="174.1" y2="1055.1" stroke="#4054c7"/><line x1="174.1" y1="1055.1" x2="175.4" y2="1055.1" stroke="#4054c7"/><line x1="175.4" y1="1055.1" x2="176.8" y2="1055.0" stroke="#4054c7"/><line x1="176.8" y1="1055.0" x2="178.1" y2="1055.0" stroke="#4054c7"/><line x1="178.1" y1="1055.0" x2="179.5" y2="1054.9" stroke="#4054c7"/><line x1="179.5" y1="1054.9" x2="180.9" y2="1054.8" stroke="#4054c7"/><line x1="180.9" y1="1054.8" x2="182.2" y2="1054.8" stroke="#4054c7"/><line x1="182.2" y1="1054.8" x2="183.6" y2="1054.7" stroke="#4054c7"/><line x1="183.6" y1="1054.7" x2="184.9" y2="1054.6" stroke="#4055c7"/><line x1="184.9" y1="1054.6" x2="186.3" y2="1054.5" stroke="#4055c7"/><line x1="186.3" y1="1054.5" x2="187.7" y2="1054.4" stroke="#4055c8"/><line x1="187.7" y1="1054.4" x2="189.0" y2="1054.3" stroke="#4055c8"/><line x1="189.0" y1="1054.3" x2="190.4" y2="1054.2" stroke="#4055c8"/><line x1="190.4" y1="1054.2" x2="191.7" y2="1054.0" stroke="#4055c8"/><line x1="191.7" y1="1054.0" x2="193.1" y2="1053.9" stroke="#4055c8"/><line x1="193.1" y1="1053.9" x2="194.4" y2="1053.8" stroke="#4055c8"/><line x1="194.4" y1="1053.8" x2="195.8" y2="1053.6" stroke="#4055c8"/><line x1="195.8" y1="1053.6" x2="197.2" y2="1053.5" stroke="#4055c8"/><line x1="197.2" y1="1053.5" x2="198.5" y2="1053.3" stroke="#4055c8"/><line x1="198.5" y1="1053.3" x2="199.9" y2="1053.1" stroke="#4055c8"/><line x1="199.9" y1="1053.1" x2="201.2" y2="1053.0" stroke="#4055c8"/><line x1="201.2" y1="1053.0" x2="202.6" y2="1052.8" stroke="#4055c8"/><line x1="202.6" y1="1052.8" x2="203.9" y2="1052.6" stroke="#4055c8"/><line x1="203.9" y1="1052.6" x2="205.3" y2="1052.4" stroke="#4055c8"/><line x1="205.3" y1="1052.4" x2="206.6" y2="1052.2" stroke="#4055c8"/><line x1="206.6" y1="1052.2" x2="208.0" y2="1052.0" stroke="#4055c8"/><line x1="208.0" y1="1052.0" x2="209.3" y2="1051.8" stroke="#4055c8"/><line x1="209.3" y1="1051.8" x2="210.6" y2="1051.6" stroke="#4055c8"/><line x1="210.6" y1="1051.6" x2="212.0" y2="1051.4" stroke="#4055c8"/><line x1="212.0" y1="1051.4" x2="213.3" y2="1051.1" stroke="#4055c8"/><line x1="213.3" y1="1051.1" x2="214.7" y2="1050.9" stroke="#4055c8"/><line x1="214.7" y1="1050.9" x2="216.0" y2="1050.7" stroke="#4055c8"/><line x1="216.0" y1="1050.7" x2="217.3" y2="1050.4" stroke="#4055c8"/><line x1="217.3" y1="1050.4" x2="218.7" y2="1050.2" stroke="#4055c8"/><line x1="218.7" y1="1050.2" x2="220.0" y2="1049.9" stroke="#4055c8"/><line x1="220.0" y1="1049.9" x2="221.4" y2="1049.6" stroke="#4055c8"/><line x1="221.4" y1="1049.6" x2="222.7" y2="1049.4" stroke="#4055c8"/><line x1="222.7" y1="1049.4" x2="224.0" y2="1049.1" stroke="#4055c8"/><line x1="224.0" y1="1049.1" x2="225.4" y2="1048.8" stroke="#4055c8"/><line x1="225.4" y1="1048.8" x2="226.7" y2="1048.5" stroke="#4155c8"/><line x1="226.7" y1="1048.5" x2="228.0" y2="1048.2" stroke="#4155c8"/><line x1="228.0" y1="1048.2" x2="229.3" y2="1047.9" stroke="#4155c8"/><line x1="229.3" y1="1047.9" x2="230.7" y2="1047.6" stroke="#4155c8"/><line x1="230.7" y1="1047.6" x2="232.0" y2="1047.3" stroke="#4155c8"/><line x1="232.0" y1="1047.3" x2="233.3" y2="1047.0" stroke="#4155c8"/><line x1="233.3" y1="1047.0" x2="234.7" y2="1046.6" stroke="#4155c8"/><line x1="234.7" y1="1046.6" x2="236.0" y2="1046.3" stroke="#4155c8"/><line x1="236.0" y1="1046.3" x2="237.3" y2="1046.0" stroke="#4155c8"/><line x1="237.3" y1="1046.0" x2="238.6" y2="1045.6" stroke="#4155c8"/><line x1="238.6" y1="1045.6" x2="239.9" y2="1045.3" stroke="#4155c8"/><line x1="239.9" y1="1045.3" x2="241.3" y2="1045.0" stroke="#4155c8"/><line x1="241.3" y1="1045.0" x2="242.6" y2="1044.6" stroke="#4155c8"/><line x1="242.6" y1="1044.6" x2="243.9" y2="1044.2" stroke="#4155c8"/><line x1="243.9" y1="1044.2" x2="245.2" y2="1043.9" stroke="#4155c8"/><line x1="245.2" y1="1043.9" x2="246.5" y2="1043.5" stroke="#4155c8"/><line x1="246.5" y1="1043.5" x2="247.8" y2="1043.1" stroke="#4155c8"/><line x1="247.8" y1="1043.1" x2="249.1" y2="1042.7" stroke="#4155c8"/><line x1="249.1" y1="1042.7" x2="250.4" y2="1042.4" stroke="#4155c8"/><line x1="250.4" y1="1042.4" x2="251.7" y2="1042.0" stroke="#4155c8"/><line x1="251.7" y1="1042.0" x2="253.0" y2="1041.6" stroke="#4155c8"/><line x1="253.0" y1="1041.6" x2="254.4" y2="1041.2" stroke="#4155c8"/><line x1="254.4" y1="1041.2" x2="255.7" y2="1040.8" stroke="#4155c8"/><line x1="255.7" y1="1040.8" x2="257.0" y2="1040.3" stroke="#4155c8"/><line x1="257.0" y1="1040.3" x2="258.3" y2="1039.9" stroke="#4155c8"/><line x1="258.3" y1="1039.9" x2="259.6" y2="1039.5" stroke="#4155c8"/><line x1="259.6" y1="1039.5" x2="260.8" y2="1039.1" stroke="#4155c8"/><line x1="260.8" y1="1039.1" x2="262.1" y2="1038.6" stroke="#4155c8"/><line x1="262.1" y1="1038.6" x2="263.4" y2="1038.2" stroke="#4155c8"/><line x1="263.4" y1="1038.2" x2="264.7" y2="1037.8" stroke="#4155c8"/><line x1="264.7" y1="1037.8" x2="266.0" y2="1037.3" stroke="#4155c8"/><line x1="266.0" y1="1037.3" x2="267.3" y2="1036.9" stroke="#4155c8"/><line x1="267.3" y1="1036.9" x2="268.6" y2="1036.4" stroke="#4155c8"/><line x1="268.6" y1="1036.4" x2="269.9" y2="1036.0" stroke="#4155c8"/><line x1="269.9" y1="1036.0" x2="271.2" y2="1035.5" stroke="#4155c8"/><line x1="271.2" y1="1035.5" x2="272.4" y2="1035.0" stroke="#4155c8"/><line x1="272.4" y1="1035.0" x2="273.7" y2="1034.6" stroke="#4155c8"/><line x1="273.7" y1="1034.6" x2="275.0" y2="1034.1" stroke="#4155c8"/><line x1="275.0" y1="1034.1" x2="276.3" y2="1033.6" stroke="#4155c8"/><line x1="276.3" y1="1033.6" x2="277.5" y2="1033.1" stroke="#4155c8"/><line x1="277.5" y1="1033.1" x2="278.8" y2="1032.6" stroke="#4155c8"/><line x1="278.8" y1="1032.6" x2="280.1" y2="1032.1" stroke="#4155c8"/><line x1="280.1" y1="1032.1" x2="281.3" y2="1031.6" stroke="#4156c8"/><line x1="281.3" y1="1031.6" x2="282.6" y2="1031.0" stroke="#4156c8"/><line x1="282.6" y1="1031.0" x2="283.8" y2="1030.5" stroke="#4156c8"/><line x1="283.8" y1="1030.5" x2="285.1" y2="1030.0" stroke="#4156c8"/><line x1="285.1" y1="1030.0" x2="286.3" y2="1029.4" stroke="#4156c8"/><line x1="286.3" y1="1029.4" x2="287.6" y2="1028.9" stroke="#4156c8"/><line x1="287.6" y1="1028.9" x2="288.8" y2="1028.3" stroke="#4156c8"/><line x1="288.8" y1="1028.3" x2="290.1" y2="1027.7" stroke="#4156c8"/><line x1="290.1" y1="1027.7" x2="291.3" y2="1027.2" stroke="#4156c8"/><line x1="291.3" y1="1027.2" x2="292.5" y2="1026.6" stroke="#4156c8"/><line x1="292.5" y1="1026.6" x2="293.7" y2="1026.0" stroke="#4156c8"/><line x1="293.7" y1="1026.0" x2="294.9" y2="1025.4" stroke="#4156c8"/><line x1="294.9" y1="1025.4" x2="296.2" y2="1024.8" stroke="#4156c8"/><line x1="296.2" y1="1024.8" x2="297.4" y2="1024.1" stroke="#4156c9"/><line x1="297.4" y1="1024.1" x2="298.6" y2="1023.5" stroke="#4156c9"/><line x1="298.6" y1="1023.5" x2="299.8" y2="1022.9" stroke="#4156c9"/><line x1="299.8" y1="1022.9" x2="300.9" y2="1022.2" stroke="#4156c9"/><line x1="300.9" y1="1022.2" x2="302.1" y2="1021.5" stroke="#4156c9"/><line x1="302.1" y1="1021.5" x2="303.3" y2="1020.9" stroke="#4156c9"/><line x1="303.3" y1="1020.9" x2="304.5" y2="1020.2" stroke="#4156c9"/><line x1="304.5" y1="1020.2" x2="305.6" y2="1019.5" stroke="#4156c9"/><line x1="305.6" y1="1019.5" x2="306.8" y2="1018.8" stroke="#4156c9"/><line x1="306.8" y1="1018.8" x2="308.0" y2="1018.0" stroke="#4156c9"/><line x1="308.0" y1="1018.0" x2="309.1" y2="1017.3" stroke="#4156c9"/><line x1="309.1" y1="1017.3" x2="310.2" y2="1016.6" stroke="#4156c9"/><line x1="310.2" y1="1016.6" x2="311.4" y2="1015.8" stroke="#4156c9"/><line x1="311.4" y1="1015.8" x2="312.5" y2="1015.1" stroke="#4156c9"/><line x1="312.5" y1="1015.1" x2="313.6" y2="1014.3" stroke="#4156c9"/><line x1="313.6" y1="1014.3" x2="314.7" y2="1013.5" stroke="#4156c9"/><line x1="314.7" y1="1013.5" x2="315.9" y2="1012.7" stroke="#4156c9"/><line x1="315.9" y1="1012.7" x2="317.0" y2="1011.9" stroke="#4156c9"/><line x1="317.0" y1="1011.9" x2="318.0" y2="1011.1" stroke="#4156c9"/><line x1="318.0" y1="1011.1" x2="319.1" y2="1010.2" stroke="#f5c3ac"/><line x1="319.1" y1="1010.2" x2="320.2" y2="1009.4" stroke="#b40426"/><line x1="320.2" y1="1009.4" x2="321.3" y2="1008.6" stroke="#b40426"/><line x1="321.3" y1="1008.6" x2="322.3" y2="1007.7" stroke="#b40426"/><line x1="322.3" y1="1007.7" x2="323.4" y2="1006.8" stroke="#b40426"/><line x1="323.4" y1="1006.8" x2="324.4" y2="1005.9" stroke="#b40426"/><line x1="324.4" y1="1005.9" x2="325.5" y2="1005.0" stroke="#b40426"/><line x1="325.5" y1="1005.0" x2="326.5" y2="1004.1" stroke="#b40426"/><line x1="326.5" y1="1004.1" x2="327.5" y2="1003.2" stroke="#eacec2"/><line x1="327.5" y1="1003.2" x2="328.4" y2="1002.2" stroke="#465cce"/><line x1="328.4" y1="1002.2" x2="329.3" y2="1001.2" stroke="#465cce"/><line x1="329.3" y1="1001.2" x2="330.2" y2="1000.2" stroke="#465cce"/><line x1="330.2" y1="1000.2" x2="331.1" y2="999.1" stroke="#465cce"/><line x1="331.1" y1="999.1" x2="331.9" y2="998.0" stroke="#dddbdb"/><line x1="331.9" y1="998.0" x2="332.6" y2="996.9" stroke="#b40426"/><line x1="332.6" y1="996.9" x2="333.4" y2="995.8" stroke="#b40426"/><line x1="333.4" y1="995.8" x2="334.0" y2="994.6" stroke="#b40426"/><line x1="334.0" y1="994.6" x2="334.7" y2="993.4" stroke="#b40426"/><line x1="334.7" y1="993.4" x2="335.3" y2="992.2" stroke="#b40426"/><line x1="335.3" y1="992.2" x2="336.0" y2="991.0" stroke="#b40426"/><line x1="336.0" y1="991.0" x2="336.6" y2="989.8" stroke="#b40426"/><line x1="336.6" y1="989.8" x2="337.2" y2="988.6" stroke="#b40426"/><line x1="337.2" y1="988.6" x2="337.9" y2="987.3" stroke="#b40426"/><line x1="337.9" y1="987.3" x2="338.5" y2="986.1" stroke="#b40426"/><line x1="338.5" y1="986.1" x2="339.2" y2="984.9" stroke="#b8cbf1"/><line x1="339.2" y1="984.9" x2="339.8" y2="983.7" stroke="#bb1a2e"/><line x1="339.8" y1="983.7" x2="340.5" y2="982.5" stroke="#b40426"/><line x1="340.5" y1="982.5" x2="341.2" y2="981.4" stroke="#b40426"/><line x1="341.2" y1="981.4" x2="341.9" y2="980.2" stroke="#b40426"/><line x1="341.9" y1="980.2" x2="342.6" y2="979.0" stroke="#b40426"/><line x1="342.6" y1="979.0" x2="343.3" y2="977.9" stroke="#b40426"/><line x1="343.3" y1="977.9" x2="344.1" y2="976.8" stroke="#b40426"/><line x1="344.1" y1="976.8" x2="344.9" y2="975.7" stroke="#b40426"/><line x1="344.9" y1="975.7" x2="345.7" y2="974.6" stroke="#b40426"/><line x1="345.7" y1="974.6" x2="346.5" y2="973.5" stroke="#b40426"/><line x1="346.5" y1="973.5" x2="347.4" y2="972.5" stroke="#b40426"/><line x1="347.4" y1="972.5" x2="348.2" y2="971.4" stroke="#7194f5"/><line x1="348.2" y1="971.4" x2="349.2" y2="970.4" stroke="#4156c9"/><line x1="349.2" y1="970.4" x2="350.1" y2="969.4" stroke="#4156c9"/><line x1="350.1" y1="969.4" x2="351.1" y2="968.5" stroke="#4156c9"/><line x1="351.1" y1="968.5" x2="352.1" y2="967.6" stroke="#6e91f4"/><line x1="352.1" y1="967.6" x2="353.1" y2="966.7" stroke="#94b5fe"/><line x1="353.1" y1="966.7" x2="354.1" y2="965.8" stroke="#96b7fe"/><line x1="354.1" y1="965.8" x2="355.2" y2="964.9" stroke="#97b8fe"/><line x1="355.2" y1="964.9" x2="356.3" y2="964.1" stroke="#99bafe"/><line x1="356.3" y1="964.1" x2="357.4" y2="963.3" stroke="#9bbbfe"/><line x1="357.4" y1="963.3" x2="358.5" y2="962.5" stroke="#f1c8b5"/><line x1="358.5" y1="962.5" x2="359.7" y2="961.8" stroke="#f4a080"/><line x1="359.7" y1="961.8" x2="360.8" y2="961.0" stroke="#f4a080"/><line x1="360.8" y1="961.0" x2="362.0" y2="960.3" stroke="#dddbdc"/><line x1="362.0" y1="960.3" x2="363.2" y2="959.7" stroke="#99bafe"/><line x1="363.2" y1="959.7" x2="364.4" y2="959.0" stroke="#95b6fe"/><line x1="364.4" y1="959.0" x2="365.7" y2="958.4" stroke="#90b2fe"/><line x1="365.7" y1="958.4" x2="366.9" y2="957.8" stroke="#8baefe"/><line x1="366.9" y1="957.8" x2="368.1" y2="957.2" stroke="#87aafe"/><line x1="368.1" y1="957.2" x2="369.4" y2="956.7" stroke="#7194f6"/><line x1="369.4" y1="956.7" x2="370.7" y2="956.2" stroke="#526ddd"/><line x1="370.7" y1="956.2" x2="371.9" y2="955.7" stroke="#526cdd"/><line x1="371.9" y1="955.7" x2="373.2" y2="955.3" stroke="#516cdc"/><line x1="373.2" y1="955.3" x2="374.5" y2="954.8" stroke="#516bdc"/><line x1="374.5" y1="954.8" x2="375.8" y2="954.4" stroke="#506bdb"/><line x1="375.8" y1="954.4" x2="377.1" y2="954.0" stroke="#506adb"/><line x1="377.1" y1="954.0" x2="378.4" y2="953.6" stroke="#506ada"/><line x1="378.4" y1="953.6" x2="379.7" y2="953.3" stroke="#4f69da"/><line x1="379.7" y1="953.3" x2="381.0" y2="952.9" stroke="#4f69d9"/><line x1="381.0" y1="952.9" x2="382.3" y2="952.6" stroke="#4e68d9"/><line x1="382.3" y1="952.6" x2="383.6" y2="952.3" stroke="#4e67d8"/><line x1="383.6" y1="952.3" x2="385.0" y2="952.0" stroke="#4d67d8"/><line x1="385.0" y1="952.0" x2="386.3" y2="951.6" stroke="#4d66d7"/><line x1="386.3" y1="951.6" x2="387.6" y2="951.3" stroke="#4d66d7"/><line x1="387.6" y1="951.3" x2="388.9" y2="951.0" stroke="#4c65d6"/><line x1="388.9" y1="951.0" x2="390.3" y2="950.7" stroke="#4c64d6"/><line x1="390.3" y1="950.7" x2="391.6" y2="950.4" stroke="#4b64d5"/><line x1="391.6" y1="950.4" x2="392.9" y2="950.1" stroke="#4b63d5"/><line x1="392.9" y1="950.1" x2="394.2" y2="949.7" stroke="#4b63d4"/><line x1="394.2" y1="949.7" x2="395.5" y2="949.4" stroke="#4a62d4"/><line x1="395.5" y1="949.4" x2="396.9" y2="949.1" stroke="#4a62d3"/><line x1="396.9" y1="949.1" x2="398.2" y2="948.7" stroke="#4961d2"/><line x1="398.2" y1="948.7" x2="399.5" y2="948.4" stroke="#4960d2"/><line x1="399.5" y1="948.4" x2="400.8" y2="948.1" stroke="#4860d1"/><line x1="400.8" y1="948.1" x2="402.2" y2="947.8" stroke="#485fd1"/><line x1="402.2" y1="947.8" x2="403.5" y2="947.4" stroke="#485fd0"/><line x1="403.5" y1="947.4" x2="404.8" y2="947.1" stroke="#475ed0"/><line x1="404.8" y1="947.1" x2="406.1" y2="946.8" stroke="#475ecf"/><line x1="406.1" y1="946.8" x2="407.5" y2="946.6" stroke="#465dcf"/><line x1="407.5" y1="946.6" x2="408.8" y2="946.3" stroke="#5470df"/><line x1="408.8" y1="946.3" x2="410.2" y2="946.1" stroke="#f4ae91"/><line x1="410.2" y1="946.1" x2="411.5" y2="945.8" stroke="#b40426"/><line x1="411.5" y1="945.8" x2="412.8" y2="945.6" stroke="#b40426"/><line x1="412.8" y1="945.6" x2="414.2" y2="945.5" stroke="#b40426"/><line x1="414.2" y1="945.5" x2="415.6" y2="945.3" stroke="#b40426"/><line x1="415.6" y1="945.3" x2="416.9" y2="945.2" stroke="#b40426"/><line x1="416.9" y1="945.2" x2="418.3" y2="945.1" stroke="#c4d1ea"/><line x1="418.3" y1="945.1" x2="419.7" y2="945.0" stroke="#789bf8"/><line x1="419.7" y1="945.0" x2="421.0" y2="945.0" stroke="#779af8"/><line x1="421.0" y1="945.0" x2="422.4" y2="944.9" stroke="#769af8"/><line x1="422.4" y1="944.9" x2="423.8" y2="944.9" stroke="#7699f8"/><line x1="423.8" y1="944.9" x2="425.1" y2="944.9" stroke="#7599f7"/><line x1="425.1" y1="944.9" x2="426.5" y2="945.0" stroke="#7598f7"/><line x1="426.5" y1="945.0" x2="427.9" y2="945.0" stroke="#7497f7"/><line x1="427.9" y1="945.0" x2="429.3" y2="945.1" stroke="#7397f7"/><line x1="429.3" y1="945.1" x2="430.6" y2="945.2" stroke="#7396f6"/><line x1="430.6" y1="945.2" x2="432.0" y2="945.3" stroke="#7296f6"/><line x1="432.0" y1="945.3" x2="433.4" y2="945.5" stroke="#7295f6"/><line x1="433.4" y1="945.5" x2="434.7" y2="945.7" stroke="#7194f6"/><line x1="434.7" y1="945.7" x2="436.1" y2="945.9" stroke="#7094f5"/><line x1="436.1" y1="945.9" x2="437.4" y2="946.1" stroke="#5977e4"/><line x1="437.4" y1="946.1" x2="438.8" y2="946.3" stroke="#526ddd"/><line x1="438.8" y1="946.3" x2="440.1" y2="946.6" stroke="#526ddd"/><line x1="440.1" y1="946.6" x2="441.5" y2="946.9" stroke="#526ddd"/><line x1="441.5" y1="946.9" x2="442.8" y2="947.2" stroke="#526ddd"/><line x1="442.8" y1="947.2" x2="444.1" y2="947.6" stroke="#526ddd"/><line x1="444.1" y1="947.6" x2="445.4" y2="947.9" stroke="#526ddd"/><line x1="445.4" y1="947.9" x2="446.7" y2="948.3" stroke="#526ddd"/><line x1="446.7" y1="948.3" x2="448.0" y2="948.7" stroke="#526ddd"/><line x1="448.0" y1="948.7" x2="449.3" y2="949.2" stroke="#526ddd"/><line x1="449.3" y1="949.2" x2="450.6" y2="949.6" stroke="#526ddd"/><line x1="450.6" y1="949.6" x2="451.9" y2="950.1" stroke="#526ddd"/><line x1="451.9" y1="950.1" x2="453.1" y2="950.6" stroke="#526ddd"/><line x1="453.1" y1="950.6" x2="454.4" y2="951.1" stroke="#526ddd"/><line x1="454.4" y1="951.1" x2="455.6" y2="951.7" stroke="#526ddd"/><line x1="455.6" y1="951.7" x2="456.8" y2="952.3" stroke="#526ddd"/><line x1="456.8" y1="952.3" x2="458.0" y2="952.9" stroke="#526ddd"/><line x1="458.0" y1="952.9" x2="459.2" y2="953.5" stroke="#6282eb"/><line x1="459.2" y1="953.5" x2="460.4" y2="954.1" stroke="#6b8ef3"/><line x1="460.4" y1="954.1" x2="461.6" y2="954.8" stroke="#6b8ef3"/><line x1="461.6" y1="954.8" x2="462.8" y2="955.5" stroke="#6b8ef3"/><line x1="462.8" y1="955.5" x2="463.9" y2="956.2" stroke="#6b8ef3"/><line x1="463.9" y1="956.2" x2="465.0" y2="956.9" stroke="#6b8ef3"/><line x1="465.0" y1="956.9" x2="466.1" y2="957.7" stroke="#6b8ef3"/><line x1="466.1" y1="957.7" x2="467.2" y2="958.5" stroke="#6b8ef3"/><line x1="467.2" y1="958.5" x2="468.3" y2="959.3" stroke="#6b8ef3"/><line x1="468.3" y1="959.3" x2="469.3" y2="960.1" stroke="#6b8ef3"/><line x1="469.3" y1="960.1" x2="470.4" y2="960.9" stroke="#6b8ef3"/><line x1="470.4" y1="960.9" x2="471.4" y2="961.8" stroke="#6b8ef3"/><line x1="471.4" y1="961.8" x2="472.4" y2="962.7" stroke="#6b8ef3"/><line x1="472.4" y1="962.7" x2="473.4" y2="963.6" stroke="#6b8ef3"/><line x1="473.4" y1="963.6" x2="474.4" y2="964.5" stroke="#6b8ef3"/><line x1="474.4" y1="964.5" x2="475.4" y2="965.5" stroke="#6b8ef3"/><line x1="475.4" y1="965.5" x2="476.3" y2="966.4" stroke="#6b8ef3"/><line x1="476.3" y1="966.4" x2="477.3" y2="967.4" stroke="#6b8ef3"/><line x1="477.3" y1="967.4" x2="478.2" y2="968.4" stroke="#6b8ef3"/><line x1="478.2" y1="968.4" x2="479.1" y2="969.4" stroke="#6b8ef3"/><line x1="479.1" y1="969.4" x2="480.0" y2="970.4" stroke="#6b8ef3"/><line x1="480.0" y1="970.4" x2="480.9" y2="971.4" stroke="#6b8ef3"/><line x1="480.9" y1="971.4" x2="481.8" y2="972.5" stroke="#607fe9"/><line x1="481.8" y1="972.5" x2="482.7" y2="973.5" stroke="#4d66d7"/><line x1="482.7" y1="973.5" x2="483.6" y2="974.6" stroke="#4c65d6"/><line x1="483.6" y1="974.6" x2="484.5" y2="975.6" stroke="#4b63d5"/><line x1="484.5" y1="975.6" x2="485.3" y2="976.7" stroke="#4a62d3"/><line x1="485.3" y1="976.7" x2="486.2" y2="977.8" stroke="#4961d2"/><line x1="486.2" y1="977.8" x2="487.1" y2="978.9" stroke="#485fd1"/><line x1="487.1" y1="978.9" x2="487.9" y2="980.0" stroke="#475ed0"/><line x1="487.9" y1="980.0" x2="488.8" y2="981.0" stroke="#465dcf"/><line x1="488.8" y1="981.0" x2="489.6" y2="982.1" stroke="#455cce"/><line x1="489.6" y1="982.1" x2="490.5" y2="983.2" stroke="#445acd"/><line x1="490.5" y1="983.2" x2="491.3" y2="984.3" stroke="#4359cb"/><line x1="491.3" y1="984.3" x2="492.2" y2="985.4" stroke="#4358ca"/><line x1="492.2" y1="985.4" x2="493.0" y2="986.5" stroke="#4257c9"/><line x1="493.0" y1="986.5" x2="493.9" y2="987.6" stroke="#4258ca"/><line x1="493.9" y1="987.6" x2="494.7" y2="988.7" stroke="#455bcd"/><line x1="494.7" y1="988.7" x2="495.6" y2="989.8" stroke="#475ed0"/><line x1="495.6" y1="989.8" x2="496.5" y2="990.9" stroke="#4a62d3"/><line x1="496.5" y1="990.9" x2="497.3" y2="991.9" stroke="#4c65d6"/><line x1="497.3" y1="991.9" x2="498.2" y2="993.0" stroke="#4f68d9"/><line x1="498.2" y1="993.0" x2="499.1" y2="994.1" stroke="#516cdc"/><line x1="499.1" y1="994.1" x2="500.0" y2="995.1" stroke="#6c8ff3"/><line x1="500.0" y1="995.1" x2="500.8" y2="996.1" stroke="#86aafe"/><line x1="500.8" y1="996.1" x2="501.7" y2="997.2" stroke="#89acfe"/><line x1="501.7" y1="997.2" x2="502.7" y2="998.2" stroke="#8caffe"/><line x1="502.7" y1="998.2" x2="503.6" y2="999.2" stroke="#8fb1fe"/><line x1="503.6" y1="999.2" x2="504.5" y2="1000.2" stroke="#92b3fe"/><line x1="504.5" y1="1000.2" x2="505.4" y2="1001.2" stroke="#94b6fe"/><line x1="505.4" y1="1001.2" x2="506.4" y2="1002.1" stroke="#97b8fe"/><line x1="506.4" y1="1002.1" x2="507.4" y2="1003.1" stroke="#9abbfe"/><line x1="507.4" y1="1003.1" x2="508.3" y2="1004.0" stroke="#9dbdfe"/><line x1="508.3" y1="1004.0" x2="509.3" y2="1004.9" stroke="#a0c0fe"/><line x1="509.3" y1="1004.9" x2="510.4" y2="1005.8" stroke="#adc6f7"/><line x1="510.4" y1="1005.8" x2="511.4" y2="1006.7" stroke="#bdcdef"/><line x1="511.4" y1="1006.7" x2="512.4" y2="1007.5" stroke="#b40426"/><line x1="512.4" y1="1007.5" x2="513.5" y2="1008.3" stroke="#b40426"/><line x1="513.5" y1="1008.3" x2="514.6" y2="1009.1" stroke="#b40426"/><line x1="514.6" y1="1009.1" x2="515.8" y2="1009.9" stroke="#b40426"/><line x1="515.8" y1="1009.9" x2="516.9" y2="1010.6" stroke="#b40426"/><line x1="516.9" y1="1010.6" x2="518.1" y2="1011.3" stroke="#b40426"/><line x1="518.1" y1="1011.3" x2="519.3" y2="1011.9" stroke="#b40426"/><line x1="519.3" y1="1011.9" x2="520.6" y2="1012.5" stroke="#b40426"/><line x1="520.6" y1="1012.5" x2="521.8" y2="1013.0" stroke="#e9866b"/><line x1="521.8" y1="1013.0" x2="523.1" y2="1013.3" stroke="#b40426"/><line x1="523.1" y1="1013.3" x2="524.4" y2="1013.5" stroke="#b40426"/><line x1="524.4" y1="1013.5" x2="525.7" y2="1013.5" stroke="#b40426"/><line x1="525.7" y1="1013.5" x2="527.0" y2="1013.4" stroke="#b40426"/><line x1="527.0" y1="1013.4" x2="528.3" y2="1013.1" stroke="#b40426"/><line x1="528.3" y1="1013.1" x2="529.5" y2="1012.8" stroke="#b40426"/><line x1="529.5" y1="1012.8" x2="530.8" y2="1012.3" stroke="#b40426"/><line x1="530.8" y1="1012.3" x2="532.1" y2="1011.8" stroke="#b40426"/><line x1="532.1" y1="1011.8" x2="533.4" y2="1011.3" stroke="#b40426"/><line x1="533.4" y1="1011.3" x2="534.7" y2="1010.7" stroke="#b40426"/><line x1="534.7" y1="1010.7" x2="536.0" y2="1010.2" stroke="#b40426"/><line x1="536.0" y1="1010.2" x2="537.3" y2="1009.6" stroke="#b40426"/><line x1="537.3" y1="1009.6" x2="538.6" y2="1009.1" stroke="#b40426"/><line x1="538.6" y1="1009.1" x2="539.9" y2="1008.6" stroke="#b40426"/><line x1="539.9" y1="1008.6" x2="541.2" y2="1008.0" stroke="#b40426"/><line x1="541.2" y1="1008.0" x2="542.4" y2="1007.5" stroke="#b40426"/><line x1="542.4" y1="1007.5" x2="543.7" y2="1007.0" stroke="#e68065"/><line x1="543.7" y1="1007.0" x2="545.0" y2="1006.5" stroke="#baccf0"/><line x1="545.0" y1="1006.5" x2="546.2" y2="1006.0" stroke="#b4c9f4"/><line x1="546.2" y1="1006.0" x2="547.5" y2="1005.5" stroke="#adc6f7"/><line x1="547.5" y1="1005.5" x2="548.8" y2="1005.0" stroke="#a6c2fb"/><line x1="548.8" y1="1005.0" x2="550.0" y2="1004.5" stroke="#7b9ffa"/><line x1="550.0" y1="1004.5" x2="551.3" y2="1004.0" stroke="#465cce"/><line x1="551.3" y1="1004.0" x2="552.6" y2="1003.5" stroke="#465cce"/><line x1="552.6" y1="1003.5" x2="553.8" y2="1003.0" stroke="#465cce"/><line x1="553.8" y1="1003.0" x2="555.1" y2="1002.6" stroke="#465cce"/><line x1="555.1" y1="1002.6" x2="556.3" y2="1002.1" stroke="#465cce"/><line x1="556.3" y1="1002.1" x2="557.6" y2="1001.6" stroke="#465cce"/><line x1="557.6" y1="1001.6" x2="558.9" y2="1001.1" stroke="#465cce"/><line x1="558.9" y1="1001.1" x2="560.1" y2="1000.6" stroke="#465cce"/><line x1="560.1" y1="1000.6" x2="561.4" y2="1000.2" stroke="#465cce"/><line x1="561.4" y1="1000.2" x2="562.7" y2="999.7" stroke="#465cce"/><line x1="562.7" y1="999.7" x2="563.9" y2="999.2" stroke="#465cce"/><line x1="563.9" y1="999.2" x2="565.2" y2="998.7" stroke="#455cce"/><line x1="565.2" y1="998.7" x2="566.5" y2="998.2" stroke="#455cce"/><line x1="566.5" y1="998.2" x2="567.7" y2="997.8" stroke="#455cce"/><line x1="567.7" y1="997.8" x2="569.0" y2="997.3" stroke="#455cce"/><line x1="569.0" y1="997.3" x2="570.3" y2="996.8" stroke="#455cce"/><line x1="570.3" y1="996.8" x2="571.6" y2="996.3" stroke="#455bce"/><line x1="571.6" y1="996.3" x2="572.8" y2="995.9" stroke="#455bce"/><line x1="572.8" y1="995.9" x2="574.1" y2="995.4" stroke="#455bcd"/><line x1="574.1" y1="995.4" x2="575.4" y2="994.9" stroke="#455bcd"/><line x1="575.4" y1="994.9" x2="576.7" y2="994.5" stroke="#455bcd"/><line x1="576.7" y1="994.5" x2="578.0" y2="994.0" stroke="#455bcd"/><line x1="578.0" y1="994.0" x2="579.3" y2="993.6" stroke="#455bcd"/><line x1="579.3" y1="993.6" x2="580.6" y2="993.1" stroke="#455bcd"/><line x1="580.6" y1="993.1" x2="581.9" y2="992.7" stroke="#455bcd"/><line x1="581.9" y1="992.7" x2="583.1" y2="992.3" stroke="#455bcd"/><line x1="583.1" y1="992.3" x2="584.4" y2="991.8" stroke="#455bcd"/><line x1="584.4" y1="991.8" x2="585.7" y2="991.4" stroke="#455bcd"/><line x1="585.7" y1="991.4" x2="587.0" y2="991.0" stroke="#455bcd"/><line x1="587.0" y1="991.0" x2="588.3" y2="990.6" stroke="#455bcd"/><line x1="588.3" y1="990.6" x2="589.6" y2="990.2" stroke="#455bcd"/><line x1="589.6" y1="990.2" x2="590.9" y2="989.8" stroke="#455acd"/><line x1="590.9" y1="989.8" x2="592.3" y2="989.4" stroke="#445acd"/><line x1="592.3" y1="989.4" x2="593.6" y2="989.0" stroke="#445acd"/><line x1="593.6" y1="989.0" x2="594.9" y2="988.6" stroke="#445acd"/><line x1="594.9" y1="988.6" x2="596.2" y2="988.2" stroke="#445acc"/><line x1="596.2" y1="988.2" x2="597.5" y2="987.9" stroke="#445acc"/><line x1="597.5" y1="987.9" x2="598.8" y2="987.5" stroke="#445acc"/><line x1="598.8" y1="987.5" x2="600.1" y2="987.2" stroke="#445acc"/><line x1="600.1" y1="987.2" x2="601.5" y2="986.9" stroke="#445acc"/><line x1="601.5" y1="986.9" x2="602.8" y2="986.5" stroke="#445acc"/><line x1="602.8" y1="986.5" x2="604.1" y2="986.2" stroke="#445acc"/><line x1="604.1" y1="986.2" x2="605.4" y2="985.9" stroke="#445acc"/><line x1="605.4" y1="985.9" x2="606.8" y2="985.7" stroke="#445acc"/><line x1="606.8" y1="985.7" x2="608.1" y2="985.4" stroke="#445acc"/><line x1="608.1" y1="985.4" x2="609.5" y2="985.1" stroke="#445acc"/><line x1="609.5" y1="985.1" x2="610.8" y2="984.9" stroke="#4459cc"/><line x1="610.8" y1="984.9" x2="612.1" y2="984.6" stroke="#4459cc"/><line x1="612.1" y1="984.6" x2="613.5" y2="984.4" stroke="#4459cc"/><line x1="613.5" y1="984.4" x2="614.8" y2="984.2" stroke="#4459cc"/><line x1="614.8" y1="984.2" x2="616.2" y2="984.0" stroke="#4459cc"/><line x1="616.2" y1="984.0" x2="617.5" y2="983.8" stroke="#4459cc"/><line x1="617.5" y1="983.8" x2="618.9" y2="983.6" stroke="#4359cb"/><line x1="618.9" y1="983.6" x2="620.2" y2="983.5" stroke="#4359cb"/><line x1="620.2" y1="983.5" x2="621.6" y2="983.4" stroke="#4359cb"/><line x1="621.6" y1="983.4" x2="623.0" y2="983.2" stroke="#4359cb"/><line x1="623.0" y1="983.2" x2="624.3" y2="983.1" stroke="#4359cb"/><line x1="624.3" y1="983.1" x2="625.7" y2="983.0" stroke="#4359cb"/><line x1="625.7" y1="983.0" x2="627.0" y2="982.9" stroke="#4359cb"/><line x1="627.0" y1="982.9" x2="628.4" y2="982.9" stroke="#4359cb"/><line x1="628.4" y1="982.9" x2="629.8" y2="982.8" stroke="#4358cb"/><line x1="629.8" y1="982.8" x2="631.1" y2="982.8" stroke="#4358cb"/><line x1="631.1" y1="982.8" x2="632.5" y2="982.8" stroke="#4358cb"/><line x1="632.5" y1="982.8" x2="633.9" y2="982.8" stroke="#4358cb"/><line x1="633.9" y1="982.8" x2="635.2" y2="982.8" stroke="#4358cb"/><line x1="635.2" y1="982.8" x2="636.6" y2="982.9" stroke="#4358cb"/><line x1="636.6" y1="982.9" x2="638.0" y2="982.9" stroke="#4358cb"/><line x1="638.0" y1="982.9" x2="639.3" y2="983.0" stroke="#4358cb"/><line x1="639.3" y1="983.0" x2="640.7" y2="983.1" stroke="#4358ca"/><line x1="640.7" y1="983.1" x2="642.1" y2="983.2" stroke="#4358ca"/><line x1="642.1" y1="983.2" x2="643.4" y2="983.3" stroke="#4358ca"/><line x1="643.4" y1="983.3" x2="644.8" y2="983.5" stroke="#4358ca"/><line x1="644.8" y1="983.5" x2="646.1" y2="983.6" stroke="#4258ca"/><line x1="646.1" y1="983.6" x2="647.5" y2="983.8" stroke="#4258ca"/><line x1="647.5" y1="983.8" x2="648.8" y2="984.0" stroke="#4258ca"/><line x1="648.8" y1="984.0" x2="650.1" y2="984.2" stroke="#4257ca"/><line x1="650.1" y1="984.2" x2="651.5" y2="984.5" stroke="#4257ca"/><line x1="651.5" y1="984.5" x2="652.8" y2="984.7" stroke="#4257ca"/><line x1="652.8" y1="984.7" x2="654.1" y2="985.0" stroke="#4257ca"/><line x1="654.1" y1="985.0" x2="655.5" y2="985.3" stroke="#4257ca"/><line x1="655.5" y1="985.3" x2="656.8" y2="985.6" stroke="#4257ca"/><line x1="656.8" y1="985.6" x2="658.1" y2="985.9" stroke="#4257ca"/><line x1="658.1" y1="985.9" x2="659.4" y2="986.3" stroke="#4257ca"/><line x1="659.4" y1="986.3" x2="660.7" y2="986.6" stroke="#4257ca"/><line x1="660.7" y1="986.6" x2="662.0" y2="987.0" stroke="#4257ca"/><line x1="662.0" y1="987.0" x2="663.3" y2="987.4" stroke="#4257c9"/><line x1="663.3" y1="987.4" x2="664.6" y2="987.8" stroke="#4257c9"/><line x1="664.6" y1="987.8" x2="665.9" y2="988.2" stroke="#4257c9"/><line x1="665.9" y1="988.2" x2="667.2" y2="988.6" stroke="#4257c9"/><line x1="667.2" y1="988.6" x2="668.5" y2="989.1" stroke="#4257c9"/><line x1="668.5" y1="989.1" x2="669.8" y2="989.5" stroke="#4256c9"/><line x1="669.8" y1="989.5" x2="671.1" y2="990.0" stroke="#4256c9"/><line x1="671.1" y1="990.0" x2="672.3" y2="990.5" stroke="#4256c9"/><line x1="672.3" y1="990.5" x2="673.6" y2="991.0" stroke="#4156c9"/><line x1="673.6" y1="991.0" x2="674.9" y2="991.4" stroke="#4156c9"/><line x1="674.9" y1="991.4" x2="676.2" y2="992.0" stroke="#4156c9"/><line x1="676.2" y1="992.0" x2="677.4" y2="992.5" stroke="#4156c9"/><line x1="677.4" y1="992.5" x2="678.7" y2="993.0" stroke="#4156c9"/><line x1="678.7" y1="993.0" x2="680.0" y2="993.5" stroke="#4156c9"/><line x1="680.0" y1="993.5" x2="681.2" y2="994.0" stroke="#4156c9"/><line x1="681.2" y1="994.0" x2="682.5" y2="994.6" stroke="#4156c9"/><line x1="682.5" y1="994.6" x2="683.7" y2="995.1" stroke="#4156c9"/><line x1="683.7" y1="995.1" x2="685.0" y2="995.7" stroke="#4156c9"/><line x1="685.0" y1="995.7" x2="686.3" y2="996.2" stroke="#4156c8"/><line x1="686.3" y1="996.2" x2="687.5" y2="996.8" stroke="#4156c8"/><line x1="687.5" y1="996.8" x2="688.8" y2="997.3" stroke="#4155c8"/><line x1="688.8" y1="997.3" x2="690.0" y2="997.9" stroke="#4155c8"/><line x1="690.0" y1="997.9" x2="691.3" y2="998.5" stroke="#4155c8"/><line x1="691.3" y1="998.5" x2="692.5" y2="999.1" stroke="#4155c8"/><line x1="692.5" y1="999.1" x2="693.7" y2="999.6" stroke="#4155c8"/><line x1="693.7" y1="999.6" x2="695.0" y2="1000.2" stroke="#4155c8"/><line x1="695.0" y1="1000.2" x2="696.2" y2="1000.8" stroke="#4155c8"/><line x1="696.2" y1="1000.8" x2="697.5" y2="1001.4" stroke="#4155c8"/><line x1="697.5" y1="1001.4" x2="698.7" y2="1002.0" stroke="#4155c8"/><line x1="698.7" y1="1002.0" x2="699.9" y2="1002.6" stroke="#4055c8"/><line x1="699.9" y1="1002.6" x2="701.1" y2="1003.2" stroke="#4055c8"/><line x1="701.1" y1="1003.2" x2="702.4" y2="1003.8" stroke="#4055c8"/><line x1="702.4" y1="1003.8" x2="703.6" y2="1004.4" stroke="#4055c8"/><line x1="703.6" y1="1004.4" x2="704.8" y2="1005.0" stroke="#4055c8"/><line x1="704.8" y1="1005.0" x2="706.0" y2="1005.6" stroke="#4055c8"/><line x1="706.0" y1="1005.6" x2="707.2" y2="1006.3" stroke="#4055c8"/><line x1="707.2" y1="1006.3" x2="708.4" y2="1006.9" stroke="#4054c7"/><line x1="708.4" y1="1006.9" x2="709.6" y2="1007.5" stroke="#4054c7"/><line x1="709.6" y1="1007.5" x2="710.8" y2="1008.2" stroke="#4054c7"/><line x1="710.8" y1="1008.2" x2="712.0" y2="1008.8" stroke="#4054c7"/><line x1="712.0" y1="1008.8" x2="713.2" y2="1009.5" stroke="#4054c7"/><line x1="713.2" y1="1009.5" x2="714.4" y2="1010.2" stroke="#4054c7"/><line x1="714.4" y1="1010.2" x2="715.5" y2="1010.9" stroke="#4054c7"/><line x1="715.5" y1="1010.9" x2="716.7" y2="1011.6" stroke="#4054c7"/><line x1="716.7" y1="1011.6" x2="717.9" y2="1012.3" stroke="#4054c7"/><line x1="717.9" y1="1012.3" x2="719.0" y2="1013.0" stroke="#4054c7"/><line x1="719.0" y1="1013.0" x2="720.2" y2="1013.7" stroke="#4054c7"/><line x1="720.2" y1="1013.7" x2="721.3" y2="1014.4" stroke="#4054c7"/><line x1="721.3" y1="1014.4" x2="722.5" y2="1015.2" stroke="#4054c7"/><line x1="722.5" y1="1015.2" x2="723.6" y2="1015.9" stroke="#4054c7"/><line x1="723.6" y1="1015.9" x2="724.7" y2="1016.7" stroke="#4054c7"/><line x1="724.7" y1="1016.7" x2="725.8" y2="1017.4" stroke="#4054c7"/><line x1="725.8" y1="1017.4" x2="726.9" y2="1018.2" stroke="#3f54c7"/><line x1="726.9" y1="1018.2" x2="728.0" y2="1019.0" stroke="#3f53c7"/><line x1="728.0" y1="1019.0" x2="729.1" y2="1019.8" stroke="#3f53c7"/><line x1="729.1" y1="1019.8" x2="730.2" y2="1020.6" stroke="#3f53c6"/><line x1="730.2" y1="1020.6" x2="731.3" y2="1021.5" stroke="#3f53c6"/><line x1="731.3" y1="1021.5" x2="732.4" y2="1022.3" stroke="#3f53c6"/><line x1="732.4" y1="1022.3" x2="733.4" y2="1023.2" stroke="#3f53c6"/><line x1="733.4" y1="1023.2" x2="734.5" y2="1024.0" stroke="#3f53c6"/><line x1="734.5" y1="1024.0" x2="735.5" y2="1024.9" stroke="#3f53c6"/><line x1="735.5" y1="1024.9" x2="736.5" y2="1025.8" stroke="#3f53c6"/><line x1="736.5" y1="1025.8" x2="737.6" y2="1026.7" stroke="#3f53c6"/><line x1="737.6" y1="1026.7" x2="738.6" y2="1027.6" stroke="#3f53c6"/><line x1="738.6" y1="1027.6" x2="739.6" y2="1028.6" stroke="#3f53c6"/><line x1="739.6" y1="1028.6" x2="740.6" y2="1029.5" stroke="#3f53c6"/><line x1="740.6" y1="1029.5" x2="741.6" y2="1030.5" stroke="#3f53c6"/><line x1="741.6" y1="1030.5" x2="742.5" y2="1031.5" stroke="#3f53c6"/></g>
<text x="336.5" y="367.5" font-size="30.0" fill="#000" font-family="Liberation Sans, Arial, sans-serif" textLength="256.6" lengthAdjust="spacingAndGlyphs" >Absolute Curvature</text>
<text x="338.3" y="610.7" font-size="30.0" fill="#000" font-family="Liberation Sans, Arial, sans-serif" textLength="251.7" lengthAdjust="spacingAndGlyphs" >Squared Curvature</text>
<text x="310.8" y="866.9" font-size="30.0" fill="#000" font-family="Liberation Sans, Arial, sans-serif" textLength="307.0" lengthAdjust="spacingAndGlyphs" >Derivative of Curvature</text>
<text x="811.0" y="245.0" font-size="30.0" fill="#000" font-family="Liberation Sans, Arial, sans-serif" textLength="231.5" lengthAdjust="spacingAndGlyphs" >Tortousity Index =</text>
<text x="1052.0" y="245.0" font-size="30.0" fill="#1a1ad0" font-family="Liberation Sans, Arial, sans-serif" textLength="14.2" lengthAdjust="spacingAndGlyphs" >L</text>
<text x="1066.8" y="245.0" font-size="30.0" fill="#000" font-family="Liberation Sans, Arial, sans-serif" textLength="8.0" lengthAdjust="spacingAndGlyphs" >/</text>
<text x="1075.8" y="245.0" font-size="30.0" fill="#ff1010" font-family="Liberation Sans, Arial, sans-serif" textLength="16.8" lengthAdjust="spacingAndGlyphs" >C</text>
<text x="1106.0" y="245.0" font-size="30.0" fill="#000" font-family="Liberation Sans, Arial, sans-serif" textLength="81.0" lengthAdjust="spacingAndGlyphs" >= 1.12</text>
<text x="945.8" y="495.0" font-size="30.0" fill="#000" font-family="Liberation Sans, Arial, sans-serif" textLength="202.3" lengthAdjust="spacingAndGlyphs" >Mean Absolute</text>
<text x="939.4" y="530.6" font-size="30.0" fill="#000" font-family="Liberation Sans, Arial, sans-serif" textLength="214.1" lengthAdjust="spacingAndGlyphs" >Curvature:&#160; 0.07</text>
<text x="950.6" y="738.2" font-size="30.0" fill="#000" font-family="Liberation Sans, Arial, sans-serif" textLength="192.0" lengthAdjust="spacingAndGlyphs" >RMS Absolute</text>
<text x="949.6" y="773.9" font-size="30.0" fill="#000" font-family="Liberation Sans, Arial, sans-serif" textLength="192.9" lengthAdjust="spacingAndGlyphs" >Curvature:&#160; 0.1</text>
<text x="948.0" y="994.2" font-size="30.0" fill="#000" font-family="Liberation Sans, Arial, sans-serif" textLength="248.8" lengthAdjust="spacingAndGlyphs" >Mean Derivative of</text>
<text x="963.9" y="1029.1" font-size="30.0" fill="#000" font-family="Liberation Sans, Arial, sans-serif" textLength="215.8" lengthAdjust="spacingAndGlyphs" >Curvature:&#160; 8e-5</text>
<rect x="829.6" y="409.0" width="9.2" height="184.0" fill="url(#cbv)" stroke="#000" stroke-width="1.6"/><line x1="838.8" y1="409.0" x2="847.2" y2="409.0" stroke="#000" stroke-width="1.6"/><text x="854.6" y="418.6" font-size="22.5" fill="#111" font-family="DejaVu Sans, sans-serif" >0.20</text><line x1="838.8" y1="455.0" x2="847.2" y2="455.0" stroke="#000" stroke-width="1.6"/><text x="854.6" y="464.6" font-size="22.5" fill="#111" font-family="DejaVu Sans, sans-serif" >0.15</text><line x1="838.8" y1="501.0" x2="847.2" y2="501.0" stroke="#000" stroke-width="1.6"/><text x="854.6" y="510.6" font-size="22.5" fill="#111" font-family="DejaVu Sans, sans-serif" >0.10</text><line x1="838.8" y1="547.0" x2="847.2" y2="547.0" stroke="#000" stroke-width="1.6"/><text x="854.6" y="556.6" font-size="22.5" fill="#111" font-family="DejaVu Sans, sans-serif" >0.05</text><line x1="838.8" y1="593.0" x2="847.2" y2="593.0" stroke="#000" stroke-width="1.6"/><text x="854.6" y="602.6" font-size="22.5" fill="#111" font-family="DejaVu Sans, sans-serif" >0.00</text>
<rect x="829.6" y="652.3" width="9.2" height="183.8" fill="url(#cbv)" stroke="#000" stroke-width="1.6"/><line x1="838.8" y1="652.3" x2="847.2" y2="652.3" stroke="#000" stroke-width="1.6"/><text x="854.6" y="661.9" font-size="22.5" fill="#111" font-family="DejaVu Sans, sans-serif" >0.20</text><line x1="838.8" y1="698.3" x2="847.2" y2="698.3" stroke="#000" stroke-width="1.6"/><text x="854.6" y="707.9" font-size="22.5" fill="#111" font-family="DejaVu Sans, sans-serif" >0.15</text><line x1="838.8" y1="744.2" x2="847.2" y2="744.2" stroke="#000" stroke-width="1.6"/><text x="854.6" y="753.8" font-size="22.5" fill="#111" font-family="DejaVu Sans, sans-serif" >0.10</text><line x1="838.8" y1="790.2" x2="847.2" y2="790.2" stroke="#000" stroke-width="1.6"/><text x="854.6" y="799.8" font-size="22.5" fill="#111" font-family="DejaVu Sans, sans-serif" >0.05</text><line x1="838.8" y1="836.1" x2="847.2" y2="836.1" stroke="#000" stroke-width="1.6"/><text x="854.6" y="845.7" font-size="22.5" fill="#111" font-family="DejaVu Sans, sans-serif" >0.00</text>
<rect x="829.6" y="908.4" width="9.2" height="183.5" fill="url(#cbv)" stroke="#000" stroke-width="1.6"/><line x1="838.8" y1="944.8" x2="847.2" y2="944.8" stroke="#000" stroke-width="1.6"/><text x="854.6" y="954.4" font-size="22.5" fill="#111" font-family="DejaVu Sans, sans-serif" >4</text><line x1="838.8" y1="1018.3" x2="847.2" y2="1018.3" stroke="#000" stroke-width="1.6"/><text x="854.6" y="1027.9" font-size="22.5" fill="#111" font-family="DejaVu Sans, sans-serif" >2</text><line x1="838.8" y1="1091.4" x2="847.2" y2="1091.4" stroke="#000" stroke-width="1.6"/><text x="854.6" y="1101.0" font-size="22.5" fill="#111" font-family="DejaVu Sans, sans-serif" >0</text>
<text x="777.8" y="902.3" font-size="22.5" fill="#111" font-family="DejaVu Sans, sans-serif" >1e&#8722;5</text>
<g transform="translate(0.0,0.0)"><g clip-path="url(#tclip)"><path d="M1402.5,201.7 L1413.7,201.5 L1425.0,201.4 L1436.2,201.2 L1447.4,201.1 L1458.7,200.9 L1470.0,200.8 L1481.4,200.7 L1492.8,200.6 L1504.3,200.5 L1515.8,200.5 L1527.2,200.4 L1538.7,200.3 L1537.6,202.9 L1536.5,205.4 L1535.3,207.9 L1534.2,210.5 L1533.2,213.2 L1532.2,216.2 L1531.3,219.6 L1530.4,223.3 L1529.5,227.2 L1528.8,231.1 L1528.2,234.7 L1527.8,238.0 L1527.6,240.8 L1527.5,243.4 L1527.6,245.7 L1527.8,247.9 L1528.2,250.2 L1528.6,252.5 L1529.1,255.0 L1529.8,257.4 L1530.6,259.9 L1531.5,262.4 L1532.5,264.8 L1533.6,267.0 L1534.7,269.1 L1535.8,271.1 L1537.1,273.0 L1538.5,274.8 L1540.2,276.7 L1542.3,278.6 L1544.8,280.6 L1547.7,282.5 L1550.9,284.5 L1554.3,286.5 L1557.8,288.3 L1561.2,290.1 L1564.7,291.8 L1568.5,293.3 L1572.3,294.9 L1576.1,296.3 L1579.7,297.6 L1582.9,298.8 L1585.8,299.9 L1588.4,300.8 L1590.9,301.7 L1593.2,302.4 L1595.3,303.2 L1597.4,303.9 L1599.3,304.6 L1601.1,305.2 L1602.7,305.8 L1604.3,306.4 L1605.9,306.9 L1607.5,307.5 L1609.4,305.6 L1611.3,303.6 L1613.1,301.7 L1615.0,299.8 L1617.0,297.8 L1619.1,295.9 L1621.3,293.9 L1623.6,291.9 L1626.0,289.9 L1628.5,287.9 L1631.0,286.1 L1633.6,284.3 L1636.2,282.7 L1639.0,281.2 L1641.8,279.8 L1644.6,278.5 L1647.3,277.1 L1650.0,275.8 L1652.6,274.4 L1655.1,273.1 L1657.5,271.8 L1660.0,270.4 L1662.4,269.2 L1664.9,267.9 L1667.4,266.7 L1669.9,265.4 L1672.4,264.2 L1674.9,263.1 L1677.4,261.9 L1679.9,260.9 L1682.4,259.9 L1684.9,259.0 L1687.4,258.2 L1689.8,257.4 L1692.3,256.7 L1694.8,255.9 L1697.3,255.2 L1699.8,254.5 L1702.3,253.8 L1704.8,253.2 L1707.3,252.6 L1709.8,251.9 L1712.3,251.2 L1715.0,250.6 L1717.6,249.9 L1720.1,249.2 L1722.5,248.6 L1724.7,247.9 L1726.7,247.2 L1728.4,246.5 L1730.0,245.8 L1731.5,245.1 L1733.1,244.5 L1734.7,243.9 L1736.3,243.4 L1737.9,243.0 L1739.4,242.7 L1741.0,242.4 L1742.7,242.2 L1744.7,241.9 L1746.8,241.7 L1749.1,241.5 L1751.5,241.3 L1754.1,241.2 L1756.8,241.0 L1759.6,240.9 L1762.7,240.8 L1766.1,240.7 L1769.6,240.7 L1773.1,240.6 L1776.5,240.5 L1779.6,240.4 L1782.4,240.3 L1784.9,240.2 L1787.4,240.0 L1789.7,239.9 L1792.1,239.7 L1794.5,239.4 L1797.0,239.1 L1799.5,238.8 L1802.0,238.5 L1804.5,238.0 L1807.0,237.5 L1809.5,236.9 L1812.1,236.1 L1814.9,235.0 L1817.7,233.9 L1820.3,232.7 L1822.6,231.7 L1824.4,231.0 L1825.6,230.5 L1826.3,230.3 L1826.6,230.2 L1826.8,230.2 L1827.0,230.1 L1827.4,230.0 L1827.5,233.2 L1827.6,236.3 L1827.7,239.3 L1827.8,242.5 L1828.0,246.0 L1828.4,249.9 L1829.1,254.2 L1830.0,258.8 L1831.0,263.6 L1832.0,268.7 L1832.8,274.1 L1833.4,279.8 L1833.7,286.3 L1833.7,293.7 L1833.6,301.4 L1833.4,308.7 L1833.3,315.0 L1833.4,319.7 L1833.6,322.4 L1833.9,323.7 L1834.3,323.9 L1834.7,323.7 L1835.0,323.4 L1835.4,323.7 L1832.8,323.3 L1830.3,322.8 L1827.7,322.4 L1825.1,322.0 L1822.4,321.7 L1819.5,321.7 L1816.3,321.9 L1812.8,322.3 L1809.2,322.9 L1805.7,323.5 L1802.4,324.1 L1799.5,324.7 L1797.2,325.2 L1795.4,325.7 L1793.8,326.1 L1792.2,326.6 L1790.2,327.2 L1787.7,327.9 L1784.4,328.7 L1780.5,329.5 L1776.3,330.5 L1772.1,331.4 L1768.1,332.5 L1764.6,333.5 L1761.7,334.6 L1759.1,335.7 L1756.7,336.9 L1754.4,338.1 L1752.2,339.2 L1749.8,340.4 L1753.1,341.8 L1756.5,343.3 L1759.8,344.8 L1763.1,346.2 L1766.4,347.5 L1769.6,348.6 L1772.7,349.5 L1775.6,350.1 L1778.5,350.5 L1781.5,351.1 L1784.5,351.8 L1787.7,352.8 L1791.1,354.2 L1794.6,356.0 L1798.2,357.9 L1801.8,359.9 L1805.6,361.8 L1809.5,363.5 L1813.5,365.0 L1817.5,366.3 L1821.7,367.5 L1825.9,368.8 L1830.3,370.3 L1834.7,372.0 L1839.2,374.1 L1843.9,376.4 L1848.7,378.8 L1853.5,381.4 L1858.3,384.0 L1863.1,386.5 L1867.7,389.0 L1872.2,391.4 L1876.7,393.9 L1881.3,396.5 L1886.2,399.1 L1891.5,401.7 L1897.3,404.4 L1903.4,407.2 L1909.9,410.1 L1916.4,413.0 L1923.0,415.8 L1929.4,418.7 L1925.4,427.2 L1921.6,435.7 L1917.7,444.1 L1913.7,452.6 L1909.5,461.2 L1905.0,470.0 L1900.1,478.9 L1894.8,488.0 L1889.3,497.2 L1883.7,506.4 L1878.1,515.6 L1872.6,524.8 L1866.4,521.4 L1860.3,517.9 L1854.2,514.5 L1848.0,511.1 L1841.6,507.6 L1834.7,504.0 L1827.3,500.3 L1819.6,496.4 L1811.6,492.5 L1803.4,488.6 L1795.3,484.8 L1787.3,481.2 L1779.4,477.8 L1771.5,474.5 L1763.6,471.4 L1755.8,468.3 L1747.9,465.3 L1740.0,462.3 L1732.1,459.3 L1724.2,456.3 L1716.3,453.4 L1708.4,450.5 L1700.5,447.8 L1692.6,445.2 L1684.7,442.8 L1676.8,440.6 L1668.9,438.5 L1661.0,436.4 L1653.1,434.3 L1645.2,432.0 L1636.9,429.4 L1628.2,426.6 L1619.5,423.7 L1611.3,421.0 L1603.9,418.6 L1597.9,416.8 L1593.6,415.7 L1590.8,415.3 L1588.8,415.2 L1587.2,415.3 L1585.4,415.2 L1582.9,414.8 L1579.7,414.1 L1576.2,413.2 L1572.5,412.2 L1568.7,411.2 L1564.9,410.1 L1561.2,409.0 L1557.6,407.9 L1553.9,406.7 L1550.3,405.5 L1546.7,404.3 L1543.0,403.0 L1539.4,401.7 L1535.8,400.4 L1532.2,399.0 L1528.5,397.6 L1524.9,396.2 L1521.3,394.6 L1517.7,393.0 L1514.1,391.3 L1510.4,389.5 L1506.8,387.6 L1503.2,385.6 L1499.5,383.5 L1495.9,381.4 L1492.2,379.2 L1488.6,376.9 L1484.9,374.5 L1481.2,372.0 L1477.6,369.5 L1474.2,367.0 L1470.9,364.4 L1467.7,361.8 L1464.5,359.1 L1461.5,356.4 L1458.4,353.7 L1455.4,351.0 L1452.4,348.4 L1449.5,345.9 L1446.6,343.3 L1443.7,340.7 L1440.9,338.0 L1438.0,335.1 L1435.0,332.0 L1432.0,328.6 L1428.9,325.1 L1426.0,321.6 L1423.2,318.2 L1420.6,314.8 L1418.3,311.6 L1416.1,308.5 L1414.2,305.4 L1412.3,302.4 L1410.6,299.2 L1409.0,295.9 L1407.5,292.4 L1406.1,288.9 L1404.8,285.2 L1403.6,281.5 L1402.6,277.8 L1401.7,274.2 L1400.9,270.7 L1400.2,267.2 L1399.7,263.8 L1399.3,260.3 L1399.0,256.5 L1398.8,252.5 L1398.8,248.0 L1398.9,243.1 L1399.2,238.0 L1399.6,232.9 L1400.0,228.0 L1400.3,223.5 L1400.6,219.4 L1401.0,215.7 L1401.4,212.2 L1401.7,208.7 L1402.1,205.3Z" fill="#ecebea"/><path d="M1402.5,201.7 L1413.7,201.5 L1425.0,201.4 L1436.2,201.2 L1447.4,201.1 L1458.7,200.9 L1470.0,200.8 L1481.4,200.7 L1492.8,200.6 L1504.3,200.5 L1515.8,200.5 L1527.2,200.4 L1538.7,200.3 L1537.6,202.9 L1536.5,205.4 L1535.3,207.9 L1534.2,210.5 L1533.2,213.2 L1532.2,216.2 L1531.3,219.6 L1530.4,223.3 L1529.5,227.2 L1528.8,231.1 L1528.2,234.7 L1527.8,238.0 L1527.6,240.8 L1527.5,243.4 L1527.6,245.7 L1527.8,247.9 L1528.2,250.2 L1528.6,252.5 L1529.1,255.0 L1529.8,257.4 L1530.6,259.9 L1531.5,262.4 L1532.5,264.8 L1533.6,267.0 L1534.7,269.1 L1535.8,271.1 L1537.1,273.0 L1538.5,274.8 L1540.2,276.7 L1542.3,278.6 L1544.8,280.6 L1547.7,282.5 L1550.9,284.5 L1554.3,286.5 L1557.8,288.3 L1561.2,290.1 L1564.7,291.8 L1568.5,293.3 L1572.3,294.9 L1576.1,296.3 L1579.7,297.6 L1582.9,298.8 L1585.8,299.9 L1588.4,300.8 L1590.9,301.7 L1593.2,302.4 L1595.3,303.2 L1597.4,303.9 L1599.3,304.6 L1601.1,305.2 L1602.7,305.8 L1604.3,306.4 L1605.9,306.9 L1607.5,307.5 L1609.4,305.6 L1611.3,303.6 L1613.1,301.7 L1615.0,299.8 L1617.0,297.8 L1619.1,295.9 L1621.3,293.9 L1623.6,291.9 L1626.0,289.9 L1628.5,287.9 L1631.0,286.1 L1633.6,284.3 L1636.2,282.7 L1639.0,281.2 L1641.8,279.8 L1644.6,278.5 L1647.3,277.1 L1650.0,275.8 L1652.6,274.4 L1655.1,273.1 L1657.5,271.8 L1660.0,270.4 L1662.4,269.2 L1664.9,267.9 L1667.4,266.7 L1669.9,265.4 L1672.4,264.2 L1674.9,263.1 L1677.4,261.9 L1679.9,260.9 L1682.4,259.9 L1684.9,259.0 L1687.4,258.2 L1689.8,257.4 L1692.3,256.7 L1694.8,255.9 L1697.3,255.2 L1699.8,254.5 L1702.3,253.8 L1704.8,253.2 L1707.3,252.6 L1709.8,251.9 L1712.3,251.2 L1715.0,250.6 L1717.6,249.9 L1720.1,249.2 L1722.5,248.6 L1724.7,247.9 L1726.7,247.2 L1728.4,246.5 L1730.0,245.8 L1731.5,245.1 L1733.1,244.5 L1734.7,243.9 L1736.3,243.4 L1737.9,243.0 L1739.4,242.7 L1741.0,242.4 L1742.7,242.2 L1744.7,241.9 L1746.8,241.7 L1749.1,241.5 L1751.5,241.3 L1754.1,241.2 L1756.8,241.0 L1759.6,240.9 L1762.7,240.8 L1766.1,240.7 L1769.6,240.7 L1773.1,240.6 L1776.5,240.5 L1779.6,240.4 L1782.4,240.3 L1784.9,240.2 L1787.4,240.0 L1789.7,239.9 L1792.1,239.7 L1794.5,239.4 L1797.0,239.1 L1799.5,238.8 L1802.0,238.5 L1804.5,238.0 L1807.0,237.5 L1809.5,236.9 L1812.1,236.1 L1814.9,235.0 L1817.7,233.9 L1820.3,232.7 L1822.6,231.7 L1824.4,231.0 L1825.6,230.5 L1826.3,230.3 L1826.6,230.2 L1826.8,230.2 L1827.0,230.1 L1827.4,230.0 L1827.5,233.2 L1827.6,236.3 L1827.7,239.3 L1827.8,242.5 L1828.0,246.0 L1828.4,249.9 L1829.1,254.2 L1830.0,258.8 L1831.0,263.6 L1832.0,268.7 L1832.8,274.1 L1833.4,279.8 L1833.7,286.3 L1833.7,293.7 L1833.6,301.4 L1833.4,308.7 L1833.3,315.0 L1833.4,319.7 L1833.6,322.4 L1833.9,323.7 L1834.3,323.9 L1834.7,323.7 L1835.0,323.4 L1835.4,323.7 L1832.8,323.3 L1830.3,322.8 L1827.7,322.4 L1825.1,322.0 L1822.4,321.7 L1819.5,321.7 L1816.3,321.9 L1812.8,322.3 L1809.2,322.9 L1805.7,323.5 L1802.4,324.1 L1799.5,324.7 L1797.2,325.2 L1795.4,325.7 L1793.8,326.1 L1792.2,326.6 L1790.2,327.2 L1787.7,327.9 L1784.4,328.7 L1780.5,329.5 L1776.3,330.5 L1772.1,331.4 L1768.1,332.5 L1764.6,333.5 L1761.7,334.6 L1759.1,335.7 L1756.7,336.9 L1754.4,338.1 L1752.2,339.2 L1749.8,340.4 L1753.1,341.8 L1756.5,343.3 L1759.8,344.8 L1763.1,346.2 L1766.4,347.5 L1769.6,348.6 L1772.7,349.5 L1775.6,350.1 L1778.5,350.5 L1781.5,351.1 L1784.5,351.8 L1787.7,352.8 L1791.1,354.2 L1794.6,356.0 L1798.2,357.9 L1801.8,359.9 L1805.6,361.8 L1809.5,363.5 L1813.5,365.0 L1817.5,366.3 L1821.7,367.5 L1825.9,368.8 L1830.3,370.3 L1834.7,372.0 L1839.2,374.1 L1843.9,376.4 L1848.7,378.8 L1853.5,381.4 L1858.3,384.0 L1863.1,386.5 L1867.7,389.0 L1872.2,391.4 L1876.7,393.9 L1881.3,396.5 L1886.2,399.1 L1891.5,401.7 L1897.3,404.4 L1903.4,407.2 L1909.9,410.1 L1916.4,413.0 L1923.0,415.8 L1929.4,418.7 L1925.4,427.2 L1921.6,435.7 L1917.7,444.1 L1913.7,452.6 L1909.5,461.2 L1905.0,470.0 L1900.1,478.9 L1894.8,488.0 L1889.3,497.2 L1883.7,506.4 L1878.1,515.6 L1872.6,524.8 L1866.4,521.4 L1860.3,517.9 L1854.2,514.5 L1848.0,511.1 L1841.6,507.6 L1834.7,504.0 L1827.3,500.3 L1819.6,496.4 L1811.6,492.5 L1803.4,488.6 L1795.3,484.8 L1787.3,481.2 L1779.4,477.8 L1771.5,474.5 L1763.6,471.4 L1755.8,468.3 L1747.9,465.3 L1740.0,462.3 L1732.1,459.3 L1724.2,456.3 L1716.3,453.4 L1708.4,450.5 L1700.5,447.8 L1692.6,445.2 L1684.7,442.8 L1676.8,440.6 L1668.9,438.5 L1661.0,436.4 L1653.1,434.3 L1645.2,432.0 L1636.9,429.4 L1628.2,426.6 L1619.5,423.7 L1611.3,421.0 L1603.9,418.6 L1597.9,416.8 L1593.6,415.7 L1590.8,415.3 L1588.8,415.2 L1587.2,415.3 L1585.4,415.2 L1582.9,414.8 L1579.7,414.1 L1576.2,413.2 L1572.5,412.2 L1568.7,411.2 L1564.9,410.1 L1561.2,409.0 L1557.6,407.9 L1553.9,406.7 L1550.3,405.5 L1546.7,404.3 L1543.0,403.0 L1539.4,401.7 L1535.8,400.4 L1532.2,399.0 L1528.5,397.6 L1524.9,396.2 L1521.3,394.6 L1517.7,393.0 L1514.1,391.3 L1510.4,389.5 L1506.8,387.6 L1503.2,385.6 L1499.5,383.5 L1495.9,381.4 L1492.2,379.2 L1488.6,376.9 L1484.9,374.5 L1481.2,372.0 L1477.6,369.5 L1474.2,367.0 L1470.9,364.4 L1467.7,361.8 L1464.5,359.1 L1461.5,356.4 L1458.4,353.7 L1455.4,351.0 L1452.4,348.4 L1449.5,345.9 L1446.6,343.3 L1443.7,340.7 L1440.9,338.0 L1438.0,335.1 L1435.0,332.0 L1432.0,328.6 L1428.9,325.1 L1426.0,321.6 L1423.2,318.2 L1420.6,314.8 L1418.3,311.6 L1416.1,308.5 L1414.2,305.4 L1412.3,302.4 L1410.6,299.2 L1409.0,295.9 L1407.5,292.4 L1406.1,288.9 L1404.8,285.2 L1403.6,281.5 L1402.6,277.8 L1401.7,274.2 L1400.9,270.7 L1400.2,267.2 L1399.7,263.8 L1399.3,260.3 L1399.0,256.5 L1398.8,252.5 L1398.8,248.0 L1398.9,243.1 L1399.2,238.0 L1399.6,232.9 L1400.0,228.0 L1400.3,223.5 L1400.6,219.4 L1401.0,215.7 L1401.4,212.2 L1401.7,208.7 L1402.1,205.3Z" fill="none" stroke="#d8d8d8" stroke-width="14" filter="url(#bl)"/><path d="M1912.5,410 L1932,419 L1872.2,526 L1854.7,515.3Z" fill="url(#capg1)"/><path d="M1812,225 L1840,225 L1840,330 L1812,330Z" fill="url(#capg2)"/></g><path d="M1695.5,333.9 L1720.0,335.0 L1746.3,339.4 L1720.0,343.0 L1697.0,352.3Z" fill="#d0d0d0"/></g>
<g stroke-linecap="round"><line x1="1385.3" y1="481.1" x2="1379.5" y2="178.3" stroke="#353535" stroke-width="1.35"/><line x1="1435.2" y1="481.3" x2="1430.8" y2="178.3" stroke="#353535" stroke-width="1.35"/><line x1="1485.2" y1="481.5" x2="1482.2" y2="178.3" stroke="#353535" stroke-width="1.35"/><line x1="1535.3" y1="481.7" x2="1533.6" y2="178.3" stroke="#353535" stroke-width="1.35"/><line x1="1585.4" y1="481.9" x2="1585.1" y2="178.3" stroke="#353535" stroke-width="1.35"/><line x1="1635.6" y1="482.1" x2="1636.7" y2="178.4" stroke="#353535" stroke-width="1.35"/><line x1="1685.9" y1="482.3" x2="1688.3" y2="178.4" stroke="#353535" stroke-width="1.35"/><line x1="1736.2" y1="482.5" x2="1740.0" y2="178.4" stroke="#353535" stroke-width="1.35"/><line x1="1786.6" y1="482.8" x2="1791.8" y2="178.4" stroke="#353535" stroke-width="1.35"/><line x1="1837.1" y1="483.0" x2="1843.7" y2="178.4" stroke="#353535" stroke-width="1.35"/><line x1="1887.6" y1="483.2" x2="1895.6" y2="178.4" stroke="#353535" stroke-width="1.35"/><line x1="1385.3" y1="481.1" x2="1887.6" y2="483.2" stroke="#555" stroke-width="1.3"/><line x1="1384.4" y1="431.7" x2="1888.9" y2="433.5" stroke="#555" stroke-width="1.3"/><line x1="1383.4" y1="381.9" x2="1890.2" y2="383.4" stroke="#555" stroke-width="1.3"/><line x1="1382.5" y1="331.7" x2="1891.6" y2="332.9" stroke="#555" stroke-width="1.3"/><line x1="1381.5" y1="281.0" x2="1892.9" y2="281.8" stroke="#555" stroke-width="1.3"/><line x1="1380.5" y1="229.9" x2="1894.2" y2="230.4" stroke="#555" stroke-width="1.3"/><line x1="1379.5" y1="178.3" x2="1895.6" y2="178.4" stroke="#555" stroke-width="1.3"/><line x1="1385.3" y1="481.1" x2="1297.2" y2="584.2" stroke="#555" stroke-width="1.3"/><line x1="1384.4" y1="431.7" x2="1295.4" y2="517.7" stroke="#5c5c5c" stroke-width="1.1"/><line x1="1383.4" y1="381.9" x2="1293.5" y2="450.3" stroke="#5c5c5c" stroke-width="1.1"/><line x1="1382.5" y1="331.7" x2="1291.7" y2="382.1" stroke="#5c5c5c" stroke-width="1.1"/><line x1="1381.5" y1="281.0" x2="1289.8" y2="313.1" stroke="#5c5c5c" stroke-width="1.1"/><line x1="1380.5" y1="229.9" x2="1287.9" y2="243.3" stroke="#5c5c5c" stroke-width="1.1"/><line x1="1379.5" y1="178.3" x2="1286.0" y2="172.5" stroke="#5c5c5c" stroke-width="1.1"/><line x1="1363.4" y1="506.7" x2="1356.4" y2="176.9" stroke="#353535" stroke-width="1.35"/><line x1="1330.4" y1="545.3" x2="1321.5" y2="174.7" stroke="#353535" stroke-width="1.35"/><line x1="1297.2" y1="584.2" x2="1286.0" y2="172.5" stroke="#353535" stroke-width="1.35"/><line x1="1887.6" y1="483.2" x2="1980.6" y2="588.0" stroke="#555" stroke-width="1.3"/><line x1="1888.3" y1="458.4" x2="1981.8" y2="554.6" stroke="#5c5c5c" stroke-width="1.1"/><line x1="1888.9" y1="433.5" x2="1983.0" y2="520.9" stroke="#5c5c5c" stroke-width="1.1"/><line x1="1889.6" y1="408.5" x2="1984.2" y2="487.0" stroke="#5c5c5c" stroke-width="1.1"/><line x1="1890.2" y1="383.4" x2="1985.3" y2="453.0" stroke="#5c5c5c" stroke-width="1.1"/><line x1="1890.9" y1="358.2" x2="1986.5" y2="418.7" stroke="#5c5c5c" stroke-width="1.1"/><line x1="1891.6" y1="332.9" x2="1987.7" y2="384.2" stroke="#5c5c5c" stroke-width="1.1"/><line x1="1892.2" y1="307.4" x2="1988.9" y2="349.5" stroke="#5c5c5c" stroke-width="1.1"/><line x1="1892.9" y1="281.8" x2="1990.2" y2="314.5" stroke="#5c5c5c" stroke-width="1.1"/><line x1="1893.6" y1="256.2" x2="1991.4" y2="279.4" stroke="#5c5c5c" stroke-width="1.1"/><line x1="1894.2" y1="230.4" x2="1992.6" y2="244.0" stroke="#5c5c5c" stroke-width="1.1"/><line x1="1894.9" y1="204.4" x2="1993.8" y2="208.5" stroke="#5c5c5c" stroke-width="1.1"/><line x1="1895.6" y1="178.4" x2="1995.1" y2="172.6" stroke="#5c5c5c" stroke-width="1.1"/><line x1="1910.7" y1="509.2" x2="1920.1" y2="177.0" stroke="#353535" stroke-width="1.35"/><line x1="1945.5" y1="548.4" x2="1957.3" y2="174.8" stroke="#353535" stroke-width="1.35"/><line x1="1980.6" y1="588.0" x2="1995.1" y2="172.6" stroke="#353535" stroke-width="1.35"/><line x1="1435.2" y1="481.3" x2="1365.0" y2="584.6" stroke="#5c5c5c" stroke-width="1.1"/><line x1="1485.2" y1="481.5" x2="1432.9" y2="585.0" stroke="#5c5c5c" stroke-width="1.1"/><line x1="1535.3" y1="481.7" x2="1500.9" y2="585.3" stroke="#5c5c5c" stroke-width="1.1"/><line x1="1585.4" y1="481.9" x2="1569.1" y2="585.7" stroke="#5c5c5c" stroke-width="1.1"/><line x1="1635.6" y1="482.1" x2="1637.4" y2="586.1" stroke="#5c5c5c" stroke-width="1.1"/><line x1="1685.9" y1="482.3" x2="1705.8" y2="586.5" stroke="#5c5c5c" stroke-width="1.1"/><line x1="1736.2" y1="482.5" x2="1774.3" y2="586.9" stroke="#5c5c5c" stroke-width="1.1"/><line x1="1786.6" y1="482.8" x2="1843.0" y2="587.2" stroke="#5c5c5c" stroke-width="1.1"/><line x1="1837.1" y1="483.0" x2="1911.7" y2="587.6" stroke="#5c5c5c" stroke-width="1.1"/><line x1="1363.4" y1="506.7" x2="1910.7" y2="509.2" stroke="#555" stroke-width="1.3"/><line x1="1330.4" y1="545.3" x2="1945.5" y2="548.4" stroke="#555" stroke-width="1.3"/><line x1="1297.2" y1="584.2" x2="1980.6" y2="588.0" stroke="#555" stroke-width="1.3"/></g><ellipse cx="1533.0" cy="482.2" rx="13.0" ry="1.6" fill="#222"/><ellipse cx="1728.0" cy="482.9" rx="13.0" ry="1.6" fill="#222"/>
<g stroke-width="3.2" stroke-linecap="round"><line x1="1467.0" y1="203.9" x2="1466.6" y2="206.9" stroke="#99b3ed"/><line x1="1466.6" y1="206.9" x2="1466.3" y2="209.9" stroke="#7a95e4"/><line x1="1466.3" y1="209.9" x2="1465.9" y2="212.9" stroke="#bbc7e0"/><line x1="1465.9" y1="212.9" x2="1465.5" y2="215.9" stroke="#de937c"/><line x1="1465.5" y1="215.9" x2="1465.1" y2="218.8" stroke="#5d6ec7"/><line x1="1465.1" y1="218.8" x2="1464.6" y2="221.8" stroke="#7089db"/><line x1="1464.6" y1="221.8" x2="1464.2" y2="224.8" stroke="#e5b19c"/><line x1="1464.2" y1="224.8" x2="1463.7" y2="227.8" stroke="#7089db"/><line x1="1463.7" y1="227.8" x2="1463.3" y2="230.8" stroke="#99b3ed"/><line x1="1463.3" y1="230.8" x2="1462.9" y2="233.7" stroke="#e5a38a"/><line x1="1462.9" y1="233.7" x2="1462.5" y2="236.7" stroke="#5d6ec7"/><line x1="1462.5" y1="236.7" x2="1462.2" y2="239.7" stroke="#e5b19c"/><line x1="1462.2" y1="239.7" x2="1462.0" y2="242.7" stroke="#84a0e8"/><line x1="1462.0" y1="242.7" x2="1461.9" y2="245.7" stroke="#5d6ec7"/><line x1="1461.9" y1="245.7" x2="1462.0" y2="248.7" stroke="#7089db"/><line x1="1462.0" y1="248.7" x2="1462.1" y2="251.8" stroke="#bbc7e0"/><line x1="1462.1" y1="251.8" x2="1462.4" y2="254.8" stroke="#bbc7e0"/><line x1="1462.4" y1="254.8" x2="1462.9" y2="257.7" stroke="#7089db"/><line x1="1462.9" y1="257.7" x2="1463.5" y2="260.7" stroke="#84a0e8"/><line x1="1463.5" y1="260.7" x2="1464.3" y2="263.6" stroke="#7089db"/><line x1="1464.3" y1="263.6" x2="1465.2" y2="266.5" stroke="#e5b19c"/><line x1="1465.2" y1="266.5" x2="1466.3" y2="269.3" stroke="#bbc7e0"/><line x1="1466.3" y1="269.3" x2="1467.4" y2="272.1" stroke="#5d6ec7"/><line x1="1467.4" y1="272.1" x2="1468.7" y2="274.8" stroke="#e5a38a"/><line x1="1468.7" y1="274.8" x2="1469.9" y2="277.5" stroke="#7089db"/><line x1="1469.9" y1="277.5" x2="1471.2" y2="280.3" stroke="#84a0e8"/><line x1="1471.2" y1="280.3" x2="1472.6" y2="282.9" stroke="#de937c"/><line x1="1472.6" y1="282.9" x2="1474.0" y2="285.6" stroke="#de937c"/><line x1="1474.0" y1="285.6" x2="1475.5" y2="288.2" stroke="#e5a38a"/><line x1="1475.5" y1="288.2" x2="1477.1" y2="290.8" stroke="#5d6ec7"/><line x1="1477.1" y1="290.8" x2="1478.8" y2="293.3" stroke="#e5a38a"/><line x1="1478.8" y1="293.3" x2="1480.7" y2="295.6" stroke="#e5a38a"/><line x1="1480.7" y1="295.6" x2="1482.7" y2="297.9" stroke="#bbc7e0"/><line x1="1482.7" y1="297.9" x2="1484.8" y2="300.0" stroke="#5d6ec7"/><line x1="1484.8" y1="300.0" x2="1486.9" y2="302.1" stroke="#84a0e8"/><line x1="1486.9" y1="302.1" x2="1489.2" y2="304.1" stroke="#5d6ec7"/><line x1="1489.2" y1="304.1" x2="1491.4" y2="306.1" stroke="#e5b19c"/><line x1="1491.4" y1="306.1" x2="1493.7" y2="308.1" stroke="#7a95e4"/><line x1="1493.7" y1="308.1" x2="1496.0" y2="310.0" stroke="#8eaaed"/><line x1="1496.0" y1="310.0" x2="1498.4" y2="311.9" stroke="#bbc7e0"/><line x1="1498.4" y1="311.9" x2="1500.7" y2="313.8" stroke="#7a95e4"/><line x1="1500.7" y1="313.8" x2="1503.2" y2="315.6" stroke="#e5b19c"/><line x1="1503.2" y1="315.6" x2="1505.6" y2="317.3" stroke="#7089db"/><line x1="1505.6" y1="317.3" x2="1508.1" y2="319.0" stroke="#e5a38a"/><line x1="1508.1" y1="319.0" x2="1510.6" y2="320.7" stroke="#8eaaed"/><line x1="1510.6" y1="320.7" x2="1513.1" y2="322.4" stroke="#e5b19c"/><line x1="1513.1" y1="322.4" x2="1515.6" y2="324.0" stroke="#de937c"/><line x1="1515.6" y1="324.0" x2="1518.2" y2="325.6" stroke="#7a95e4"/><line x1="1518.2" y1="325.6" x2="1520.8" y2="327.1" stroke="#7089db"/><line x1="1520.8" y1="327.1" x2="1523.4" y2="328.7" stroke="#e5a38a"/><line x1="1523.4" y1="328.7" x2="1526.0" y2="330.2" stroke="#e5a38a"/><line x1="1526.0" y1="330.2" x2="1528.6" y2="331.6" stroke="#de937c"/><line x1="1528.6" y1="331.6" x2="1531.3" y2="333.1" stroke="#84a0e8"/><line x1="1531.3" y1="333.1" x2="1533.9" y2="334.5" stroke="#99b3ed"/><line x1="1533.9" y1="334.5" x2="1536.6" y2="335.9" stroke="#7089db"/><line x1="1536.6" y1="335.9" x2="1539.3" y2="337.2" stroke="#e5b19c"/><line x1="1539.3" y1="337.2" x2="1542.0" y2="338.6" stroke="#c25c55"/><line x1="1542.0" y1="338.6" x2="1544.7" y2="339.8" stroke="#7089db"/><line x1="1544.7" y1="339.8" x2="1547.5" y2="341.1" stroke="#e5a38a"/><line x1="1547.5" y1="341.1" x2="1550.2" y2="342.3" stroke="#5d6ec7"/><line x1="1550.2" y1="342.3" x2="1553.0" y2="343.4" stroke="#e5a38a"/><line x1="1553.0" y1="343.4" x2="1555.8" y2="344.5" stroke="#84a0e8"/><line x1="1555.8" y1="344.5" x2="1558.6" y2="345.6" stroke="#d2d2d3"/><line x1="1558.6" y1="345.6" x2="1561.5" y2="346.5" stroke="#de937c"/><line x1="1561.5" y1="346.5" x2="1564.4" y2="347.5" stroke="#e5b19c"/><line x1="1564.4" y1="347.5" x2="1567.2" y2="348.4" stroke="#bbc7e0"/><line x1="1567.2" y1="348.4" x2="1570.1" y2="349.3" stroke="#b32a44"/><line x1="1570.1" y1="349.3" x2="1573.0" y2="350.2" stroke="#99b3ed"/><line x1="1573.0" y1="350.2" x2="1575.9" y2="351.1" stroke="#d2d2d3"/><line x1="1575.9" y1="351.1" x2="1578.7" y2="351.9" stroke="#e5a38a"/><line x1="1578.7" y1="351.9" x2="1581.6" y2="352.8" stroke="#d2d2d3"/><line x1="1581.6" y1="352.8" x2="1584.5" y2="353.6" stroke="#99b3ed"/><line x1="1584.5" y1="353.6" x2="1587.4" y2="354.5" stroke="#8eaaed"/><line x1="1587.4" y1="354.5" x2="1590.3" y2="355.5" stroke="#84a0e8"/><line x1="1590.3" y1="355.5" x2="1592.9" y2="356.9" stroke="#b32a44"/><line x1="1592.9" y1="356.9" x2="1595.3" y2="358.7" stroke="#7a95e4"/><line x1="1595.3" y1="358.7" x2="1598.0" y2="360.0" stroke="#c25c55"/><line x1="1598.0" y1="360.0" x2="1600.8" y2="361.2" stroke="#b32a44"/><line x1="1600.8" y1="361.2" x2="1603.6" y2="362.4" stroke="#84a0e8"/><line x1="1603.6" y1="362.4" x2="1606.3" y2="363.5" stroke="#7089db"/><line x1="1606.3" y1="363.5" x2="1609.1" y2="364.7" stroke="#e5a38a"/><line x1="1609.1" y1="364.7" x2="1611.9" y2="365.8" stroke="#8eaaed"/><line x1="1611.9" y1="365.8" x2="1614.8" y2="366.9" stroke="#e5b19c"/><line x1="1614.8" y1="366.9" x2="1617.6" y2="367.9" stroke="#d2d2d3"/><line x1="1617.6" y1="367.9" x2="1620.4" y2="368.8" stroke="#99b3ed"/><line x1="1620.4" y1="368.8" x2="1623.3" y2="369.7" stroke="#c25c55"/><line x1="1623.3" y1="369.7" x2="1626.2" y2="370.5" stroke="#d2d2d3"/><line x1="1626.2" y1="370.5" x2="1629.2" y2="371.3" stroke="#8eaaed"/><line x1="1629.2" y1="371.3" x2="1632.1" y2="372.0" stroke="#e5a38a"/><line x1="1632.1" y1="372.0" x2="1635.0" y2="372.7" stroke="#7089db"/><line x1="1635.0" y1="372.7" x2="1637.9" y2="373.4" stroke="#7089db"/><line x1="1637.9" y1="373.4" x2="1640.8" y2="374.2" stroke="#e5b19c"/><line x1="1640.8" y1="374.2" x2="1643.7" y2="375.0" stroke="#bbc7e0"/><line x1="1643.7" y1="375.0" x2="1646.7" y2="375.8" stroke="#7a95e4"/><line x1="1646.7" y1="375.8" x2="1649.6" y2="376.6" stroke="#b32a44"/><line x1="1649.6" y1="376.6" x2="1652.5" y2="377.4" stroke="#99b3ed"/><line x1="1652.5" y1="377.4" x2="1655.4" y2="378.2" stroke="#7a95e4"/><line x1="1655.4" y1="378.2" x2="1658.3" y2="379.0" stroke="#d2d2d3"/><line x1="1658.3" y1="379.0" x2="1661.2" y2="379.8" stroke="#bbc7e0"/><line x1="1661.2" y1="379.8" x2="1664.0" y2="380.7" stroke="#5d6ec7"/><line x1="1664.0" y1="380.7" x2="1666.9" y2="381.6" stroke="#de937c"/><line x1="1666.9" y1="381.6" x2="1669.8" y2="382.5" stroke="#7089db"/><line x1="1669.8" y1="382.5" x2="1672.7" y2="383.4" stroke="#b32a44"/><line x1="1672.7" y1="383.4" x2="1675.5" y2="384.3" stroke="#e5b19c"/><line x1="1675.5" y1="384.3" x2="1678.4" y2="385.1" stroke="#e5a38a"/><line x1="1678.4" y1="385.1" x2="1681.3" y2="386.0" stroke="#b32a44"/><line x1="1681.3" y1="386.0" x2="1684.2" y2="386.8" stroke="#99b3ed"/><line x1="1684.2" y1="386.8" x2="1687.1" y2="387.6" stroke="#99b3ed"/><line x1="1687.1" y1="387.6" x2="1690.0" y2="388.4" stroke="#c25c55"/><line x1="1690.0" y1="388.4" x2="1692.9" y2="389.2" stroke="#99b3ed"/><line x1="1692.9" y1="389.2" x2="1695.8" y2="390.0" stroke="#e5a38a"/><line x1="1695.8" y1="390.0" x2="1698.8" y2="390.8" stroke="#d2d2d3"/><line x1="1698.8" y1="390.8" x2="1701.7" y2="391.6" stroke="#e5a38a"/><line x1="1701.7" y1="391.6" x2="1704.6" y2="392.3" stroke="#b32a44"/><line x1="1704.6" y1="392.3" x2="1707.5" y2="393.1" stroke="#d2d2d3"/><line x1="1707.5" y1="393.1" x2="1710.4" y2="393.9" stroke="#7089db"/><line x1="1710.4" y1="393.9" x2="1713.3" y2="394.7" stroke="#7089db"/><line x1="1713.3" y1="394.7" x2="1716.2" y2="395.5" stroke="#8eaaed"/><line x1="1716.2" y1="395.5" x2="1719.1" y2="396.4" stroke="#d2d2d3"/><line x1="1719.1" y1="396.4" x2="1722.0" y2="397.2" stroke="#c25c55"/><line x1="1722.0" y1="397.2" x2="1724.9" y2="398.1" stroke="#de937c"/><line x1="1724.9" y1="398.1" x2="1727.7" y2="398.9" stroke="#7089db"/><line x1="1727.7" y1="398.9" x2="1730.6" y2="399.8" stroke="#5d6ec7"/><line x1="1730.6" y1="399.8" x2="1733.5" y2="400.8" stroke="#c25c55"/><line x1="1733.5" y1="400.8" x2="1736.3" y2="401.7" stroke="#c25c55"/><line x1="1736.3" y1="401.7" x2="1739.2" y2="402.7" stroke="#8eaaed"/><line x1="1739.2" y1="402.7" x2="1742.0" y2="403.6" stroke="#de937c"/><line x1="1742.0" y1="403.6" x2="1744.9" y2="404.6" stroke="#e5a38a"/><line x1="1744.9" y1="404.6" x2="1747.7" y2="405.6" stroke="#de937c"/><line x1="1747.7" y1="405.6" x2="1750.6" y2="406.7" stroke="#d2d2d3"/><line x1="1750.6" y1="406.7" x2="1753.4" y2="407.7" stroke="#8eaaed"/><line x1="1753.4" y1="407.7" x2="1756.2" y2="408.7" stroke="#c25c55"/><line x1="1756.2" y1="408.7" x2="1759.1" y2="409.7" stroke="#bbc7e0"/><line x1="1759.1" y1="409.7" x2="1761.9" y2="410.8" stroke="#de937c"/><line x1="1761.9" y1="410.8" x2="1764.7" y2="411.9" stroke="#99b3ed"/><line x1="1764.7" y1="411.9" x2="1767.5" y2="412.9" stroke="#5d6ec7"/><line x1="1767.5" y1="412.9" x2="1770.3" y2="414.0" stroke="#d2d2d3"/><line x1="1770.3" y1="414.0" x2="1773.2" y2="415.0" stroke="#99b3ed"/><line x1="1773.2" y1="415.0" x2="1776.0" y2="416.1" stroke="#7a95e4"/><line x1="1776.0" y1="416.1" x2="1778.8" y2="417.2" stroke="#e5a38a"/><line x1="1778.8" y1="417.2" x2="1781.6" y2="418.3" stroke="#7089db"/><line x1="1781.6" y1="418.3" x2="1784.4" y2="419.3" stroke="#d2d2d3"/><line x1="1784.4" y1="419.3" x2="1787.2" y2="420.4" stroke="#5d6ec7"/><line x1="1787.2" y1="420.4" x2="1790.1" y2="421.5" stroke="#84a0e8"/><line x1="1790.1" y1="421.5" x2="1792.9" y2="422.6" stroke="#b32a44"/><line x1="1792.9" y1="422.6" x2="1795.7" y2="423.7" stroke="#8eaaed"/><line x1="1795.7" y1="423.7" x2="1798.5" y2="424.8" stroke="#7a95e4"/><line x1="1798.5" y1="424.8" x2="1801.3" y2="425.9" stroke="#c25c55"/><line x1="1801.3" y1="425.9" x2="1804.1" y2="427.0" stroke="#84a0e8"/><line x1="1804.1" y1="427.0" x2="1806.9" y2="428.1" stroke="#bbc7e0"/><line x1="1806.9" y1="428.1" x2="1809.7" y2="429.2" stroke="#bbc7e0"/><line x1="1809.7" y1="429.2" x2="1812.4" y2="430.4" stroke="#d2d2d3"/><line x1="1812.4" y1="430.4" x2="1815.2" y2="431.5" stroke="#7089db"/><line x1="1815.2" y1="431.5" x2="1818.0" y2="432.7" stroke="#7a95e4"/><line x1="1818.0" y1="432.7" x2="1820.8" y2="433.9" stroke="#d2d2d3"/><line x1="1820.8" y1="433.9" x2="1823.5" y2="435.1" stroke="#bbc7e0"/><line x1="1823.5" y1="435.1" x2="1826.3" y2="436.3" stroke="#e5b19c"/><line x1="1826.3" y1="436.3" x2="1829.0" y2="437.5" stroke="#8eaaed"/><line x1="1829.0" y1="437.5" x2="1831.8" y2="438.8" stroke="#7a95e4"/><line x1="1831.8" y1="438.8" x2="1834.5" y2="440.0" stroke="#bbc7e0"/><line x1="1834.5" y1="440.0" x2="1837.3" y2="441.3" stroke="#e5b19c"/><line x1="1837.3" y1="441.3" x2="1840.0" y2="442.6" stroke="#8eaaed"/><line x1="1840.0" y1="442.6" x2="1842.7" y2="443.9" stroke="#c25c55"/><line x1="1842.7" y1="443.9" x2="1845.4" y2="445.2" stroke="#bbc7e0"/><line x1="1845.4" y1="445.2" x2="1848.1" y2="446.5" stroke="#99b3ed"/><line x1="1848.1" y1="446.5" x2="1850.8" y2="447.8" stroke="#de937c"/><line x1="1850.8" y1="447.8" x2="1853.5" y2="449.1" stroke="#bbc7e0"/><line x1="1853.5" y1="449.1" x2="1856.2" y2="450.5" stroke="#84a0e8"/><line x1="1856.2" y1="450.5" x2="1859.0" y2="451.8" stroke="#7a95e4"/><line x1="1859.0" y1="451.8" x2="1861.7" y2="453.1" stroke="#7089db"/><line x1="1861.7" y1="453.1" x2="1864.4" y2="454.5" stroke="#7a95e4"/><line x1="1864.4" y1="454.5" x2="1867.1" y2="455.8" stroke="#7a95e4"/><line x1="1867.1" y1="455.8" x2="1869.8" y2="457.1" stroke="#84a0e8"/><line x1="1869.8" y1="457.1" x2="1872.5" y2="458.4" stroke="#de937c"/><line x1="1872.5" y1="458.4" x2="1875.2" y2="459.8" stroke="#84a0e8"/><line x1="1875.2" y1="459.8" x2="1877.9" y2="461.1" stroke="#5d6ec7"/><line x1="1877.9" y1="461.1" x2="1880.6" y2="462.4" stroke="#d2d2d3"/><line x1="1880.6" y1="462.4" x2="1883.3" y2="463.8" stroke="#e5a38a"/><line x1="1883.3" y1="463.8" x2="1886.0" y2="465.1" stroke="#7a95e4"/><line x1="1886.0" y1="465.1" x2="1888.7" y2="466.5" stroke="#8eaaed"/><line x1="1888.7" y1="466.5" x2="1891.4" y2="467.8" stroke="#8eaaed"/><line x1="1891.4" y1="467.8" x2="1894.0" y2="469.2" stroke="#5d6ec7"/><line x1="1894.0" y1="469.2" x2="1896.7" y2="470.5" stroke="#7a95e4"/><line x1="1896.7" y1="470.5" x2="1899.4" y2="471.9" stroke="#bbc7e0"/><line x1="1899.4" y1="471.9" x2="1902.1" y2="473.2" stroke="#e5b19c"/><line x1="1902.1" y1="473.2" x2="1904.8" y2="474.6" stroke="#99b3ed"/></g>
<g stroke-width="3.2" stroke-linecap="round"><line x1="1590.1" y1="355.4" x2="1593.1" y2="355.7" stroke="#e5a38a"/><line x1="1593.1" y1="355.7" x2="1596.1" y2="356.0" stroke="#e5a38a"/><line x1="1596.1" y1="356.0" x2="1599.1" y2="356.2" stroke="#99b3ed"/><line x1="1599.1" y1="356.2" x2="1602.2" y2="356.5" stroke="#7a95e4"/><line x1="1602.2" y1="356.5" x2="1605.2" y2="356.7" stroke="#c25c55"/><line x1="1605.2" y1="356.7" x2="1608.2" y2="356.9" stroke="#e5b19c"/><line x1="1608.2" y1="356.9" x2="1611.2" y2="356.8" stroke="#e5a38a"/><line x1="1611.2" y1="356.8" x2="1614.2" y2="356.5" stroke="#de937c"/><line x1="1614.2" y1="356.5" x2="1617.2" y2="356.0" stroke="#de937c"/><line x1="1617.2" y1="356.0" x2="1620.1" y2="355.2" stroke="#c25c55"/><line x1="1620.1" y1="355.2" x2="1623.0" y2="354.1" stroke="#5d6ec7"/><line x1="1623.0" y1="354.1" x2="1625.7" y2="352.7" stroke="#d2d2d3"/><line x1="1625.7" y1="352.7" x2="1628.2" y2="351.0" stroke="#b32a44"/><line x1="1628.2" y1="351.0" x2="1630.6" y2="349.2" stroke="#de937c"/><line x1="1630.6" y1="349.2" x2="1632.9" y2="347.3" stroke="#b32a44"/><line x1="1632.9" y1="347.3" x2="1635.2" y2="345.3" stroke="#e5b19c"/><line x1="1635.2" y1="345.3" x2="1637.5" y2="343.3" stroke="#bbc7e0"/><line x1="1637.5" y1="343.3" x2="1639.8" y2="341.3" stroke="#bbc7e0"/><line x1="1639.8" y1="341.3" x2="1642.0" y2="339.3" stroke="#bbc7e0"/><line x1="1642.0" y1="339.3" x2="1644.3" y2="337.3" stroke="#bbc7e0"/><line x1="1644.3" y1="337.3" x2="1646.7" y2="335.5" stroke="#7089db"/><line x1="1646.7" y1="335.5" x2="1649.4" y2="334.2" stroke="#d2d2d3"/><line x1="1649.4" y1="334.2" x2="1651.7" y2="332.2" stroke="#de937c"/><line x1="1651.7" y1="332.2" x2="1653.8" y2="330.1" stroke="#bbc7e0"/><line x1="1653.8" y1="330.1" x2="1656.0" y2="327.9" stroke="#5d6ec7"/><line x1="1656.0" y1="327.9" x2="1658.2" y2="325.8" stroke="#84a0e8"/><line x1="1658.2" y1="325.8" x2="1660.4" y2="323.7" stroke="#7089db"/><line x1="1660.4" y1="323.7" x2="1662.6" y2="321.7" stroke="#84a0e8"/><line x1="1662.6" y1="321.7" x2="1664.9" y2="319.7" stroke="#d2d2d3"/><line x1="1664.9" y1="319.7" x2="1667.3" y2="317.9" stroke="#7a95e4"/><line x1="1667.3" y1="317.9" x2="1669.7" y2="316.1" stroke="#7089db"/><line x1="1669.7" y1="316.1" x2="1672.2" y2="314.4" stroke="#99b3ed"/><line x1="1672.2" y1="314.4" x2="1674.8" y2="312.7" stroke="#e5a38a"/><line x1="1674.8" y1="312.7" x2="1677.4" y2="311.2" stroke="#5d6ec7"/><line x1="1677.4" y1="311.2" x2="1680.0" y2="309.6" stroke="#7089db"/><line x1="1680.0" y1="309.6" x2="1682.7" y2="308.2" stroke="#5d6ec7"/><line x1="1682.7" y1="308.2" x2="1685.4" y2="306.8" stroke="#e5a38a"/><line x1="1685.4" y1="306.8" x2="1688.1" y2="305.5" stroke="#7a95e4"/><line x1="1688.1" y1="305.5" x2="1690.9" y2="304.3" stroke="#e5b19c"/><line x1="1690.9" y1="304.3" x2="1693.7" y2="303.2" stroke="#7089db"/><line x1="1693.7" y1="303.2" x2="1696.5" y2="302.2" stroke="#99b3ed"/><line x1="1696.5" y1="302.2" x2="1699.4" y2="301.4" stroke="#e5a38a"/><line x1="1699.4" y1="301.4" x2="1702.4" y2="300.6" stroke="#5d6ec7"/><line x1="1702.4" y1="300.6" x2="1705.3" y2="299.9" stroke="#7089db"/><line x1="1705.3" y1="299.9" x2="1708.3" y2="299.2" stroke="#84a0e8"/><line x1="1708.3" y1="299.2" x2="1711.2" y2="298.4" stroke="#e5a38a"/><line x1="1711.2" y1="298.4" x2="1714.1" y2="297.6" stroke="#bbc7e0"/><line x1="1714.1" y1="297.6" x2="1717.0" y2="296.8" stroke="#7a95e4"/><line x1="1717.0" y1="296.8" x2="1720.0" y2="296.0" stroke="#de937c"/><line x1="1720.0" y1="296.0" x2="1722.9" y2="295.2" stroke="#8eaaed"/><line x1="1722.9" y1="295.2" x2="1725.8" y2="294.5" stroke="#99b3ed"/><line x1="1725.8" y1="294.5" x2="1728.8" y2="293.9" stroke="#e5a38a"/><line x1="1728.8" y1="293.9" x2="1731.8" y2="293.3" stroke="#99b3ed"/><line x1="1731.8" y1="293.3" x2="1734.7" y2="292.8" stroke="#d2d2d3"/><line x1="1734.7" y1="292.8" x2="1737.7" y2="292.2" stroke="#7089db"/><line x1="1737.7" y1="292.2" x2="1740.7" y2="291.6" stroke="#7089db"/><line x1="1740.7" y1="291.6" x2="1743.7" y2="291.0" stroke="#d2d2d3"/><line x1="1743.7" y1="291.0" x2="1746.6" y2="290.4" stroke="#d2d2d3"/><line x1="1746.6" y1="290.4" x2="1749.6" y2="289.8" stroke="#d2d2d3"/><line x1="1749.6" y1="289.8" x2="1752.6" y2="289.2" stroke="#d2d2d3"/><line x1="1752.6" y1="289.2" x2="1755.5" y2="288.6" stroke="#8eaaed"/><line x1="1755.5" y1="288.6" x2="1758.5" y2="288.0" stroke="#7089db"/><line x1="1758.5" y1="288.0" x2="1761.5" y2="287.4" stroke="#7a95e4"/><line x1="1761.5" y1="287.4" x2="1764.4" y2="286.8" stroke="#7089db"/><line x1="1764.4" y1="286.8" x2="1767.4" y2="286.2" stroke="#c25c55"/><line x1="1767.4" y1="286.2" x2="1770.4" y2="285.6" stroke="#99b3ed"/><line x1="1770.4" y1="285.6" x2="1773.3" y2="285.0" stroke="#c25c55"/><line x1="1773.3" y1="285.0" x2="1776.3" y2="284.4" stroke="#8eaaed"/><line x1="1776.3" y1="284.4" x2="1779.3" y2="283.9" stroke="#d2d2d3"/><line x1="1779.3" y1="283.9" x2="1782.3" y2="283.3" stroke="#c25c55"/><line x1="1782.3" y1="283.3" x2="1785.3" y2="282.9" stroke="#7a95e4"/><line x1="1785.3" y1="282.9" x2="1788.3" y2="282.4" stroke="#e5b19c"/><line x1="1788.3" y1="282.4" x2="1791.3" y2="281.9" stroke="#5d6ec7"/><line x1="1791.3" y1="281.9" x2="1794.3" y2="281.5" stroke="#84a0e8"/><line x1="1794.3" y1="281.5" x2="1797.3" y2="281.1" stroke="#e5b19c"/><line x1="1797.3" y1="281.1" x2="1800.3" y2="280.7" stroke="#99b3ed"/><line x1="1800.3" y1="280.7" x2="1803.3" y2="280.4" stroke="#7a95e4"/><line x1="1803.3" y1="280.4" x2="1806.3" y2="280.0" stroke="#c25c55"/><line x1="1806.3" y1="280.0" x2="1809.3" y2="279.8" stroke="#e5b19c"/><line x1="1809.3" y1="279.8" x2="1812.3" y2="279.5" stroke="#5d6ec7"/><line x1="1812.3" y1="279.5" x2="1815.3" y2="279.2" stroke="#b32a44"/><line x1="1815.3" y1="279.2" x2="1818.3" y2="278.9" stroke="#e5b19c"/><line x1="1818.3" y1="278.9" x2="1821.4" y2="278.6" stroke="#8eaaed"/><line x1="1821.4" y1="278.6" x2="1824.4" y2="278.4" stroke="#de937c"/><line x1="1824.4" y1="278.4" x2="1827.4" y2="278.1" stroke="#7089db"/><line x1="1827.4" y1="278.1" x2="1830.4" y2="277.8" stroke="#c25c55"/></g>
<g transform="translate(-5.0,524.6)"><g clip-path="url(#tclip)"><path d="M1402.5,201.7 L1413.7,201.5 L1425.0,201.4 L1436.2,201.2 L1447.4,201.1 L1458.7,200.9 L1470.0,200.8 L1481.4,200.7 L1492.8,200.6 L1504.3,200.5 L1515.8,200.5 L1527.2,200.4 L1538.7,200.3 L1537.6,202.9 L1536.5,205.4 L1535.3,207.9 L1534.2,210.5 L1533.2,213.2 L1532.2,216.2 L1531.3,219.6 L1530.4,223.3 L1529.5,227.2 L1528.8,231.1 L1528.2,234.7 L1527.8,238.0 L1527.6,240.8 L1527.5,243.4 L1527.6,245.7 L1527.8,247.9 L1528.2,250.2 L1528.6,252.5 L1529.1,255.0 L1529.8,257.4 L1530.6,259.9 L1531.5,262.4 L1532.5,264.8 L1533.6,267.0 L1534.7,269.1 L1535.8,271.1 L1537.1,273.0 L1538.5,274.8 L1540.2,276.7 L1542.3,278.6 L1544.8,280.6 L1547.7,282.5 L1550.9,284.5 L1554.3,286.5 L1557.8,288.3 L1561.2,290.1 L1564.7,291.8 L1568.5,293.3 L1572.3,294.9 L1576.1,296.3 L1579.7,297.6 L1582.9,298.8 L1585.8,299.9 L1588.4,300.8 L1590.9,301.7 L1593.2,302.4 L1595.3,303.2 L1597.4,303.9 L1599.3,304.6 L1601.1,305.2 L1602.7,305.8 L1604.3,306.4 L1605.9,306.9 L1607.5,307.5 L1609.4,305.6 L1611.3,303.6 L1613.1,301.7 L1615.0,299.8 L1617.0,297.8 L1619.1,295.9 L1621.3,293.9 L1623.6,291.9 L1626.0,289.9 L1628.5,287.9 L1631.0,286.1 L1633.6,284.3 L1636.2,282.7 L1639.0,281.2 L1641.8,279.8 L1644.6,278.5 L1647.3,277.1 L1650.0,275.8 L1652.6,274.4 L1655.1,273.1 L1657.5,271.8 L1660.0,270.4 L1662.4,269.2 L1664.9,267.9 L1667.4,266.7 L1669.9,265.4 L1672.4,264.2 L1674.9,263.1 L1677.4,261.9 L1679.9,260.9 L1682.4,259.9 L1684.9,259.0 L1687.4,258.2 L1689.8,257.4 L1692.3,256.7 L1694.8,255.9 L1697.3,255.2 L1699.8,254.5 L1702.3,253.8 L1704.8,253.2 L1707.3,252.6 L1709.8,251.9 L1712.3,251.2 L1715.0,250.6 L1717.6,249.9 L1720.1,249.2 L1722.5,248.6 L1724.7,247.9 L1726.7,247.2 L1728.4,246.5 L1730.0,245.8 L1731.5,245.1 L1733.1,244.5 L1734.7,243.9 L1736.3,243.4 L1737.9,243.0 L1739.4,242.7 L1741.0,242.4 L1742.7,242.2 L1744.7,241.9 L1746.8,241.7 L1749.1,241.5 L1751.5,241.3 L1754.1,241.2 L1756.8,241.0 L1759.6,240.9 L1762.7,240.8 L1766.1,240.7 L1769.6,240.7 L1773.1,240.6 L1776.5,240.5 L1779.6,240.4 L1782.4,240.3 L1784.9,240.2 L1787.4,240.0 L1789.7,239.9 L1792.1,239.7 L1794.5,239.4 L1797.0,239.1 L1799.5,238.8 L1802.0,238.5 L1804.5,238.0 L1807.0,237.5 L1809.5,236.9 L1812.1,236.1 L1814.9,235.0 L1817.7,233.9 L1820.3,232.7 L1822.6,231.7 L1824.4,231.0 L1825.6,230.5 L1826.3,230.3 L1826.6,230.2 L1826.8,230.2 L1827.0,230.1 L1827.4,230.0 L1827.5,233.2 L1827.6,236.3 L1827.7,239.3 L1827.8,242.5 L1828.0,246.0 L1828.4,249.9 L1829.1,254.2 L1830.0,258.8 L1831.0,263.6 L1832.0,268.7 L1832.8,274.1 L1833.4,279.8 L1833.7,286.3 L1833.7,293.7 L1833.6,301.4 L1833.4,308.7 L1833.3,315.0 L1833.4,319.7 L1833.6,322.4 L1833.9,323.7 L1834.3,323.9 L1834.7,323.7 L1835.0,323.4 L1835.4,323.7 L1832.8,323.3 L1830.3,322.8 L1827.7,322.4 L1825.1,322.0 L1822.4,321.7 L1819.5,321.7 L1816.3,321.9 L1812.8,322.3 L1809.2,322.9 L1805.7,323.5 L1802.4,324.1 L1799.5,324.7 L1797.2,325.2 L1795.4,325.7 L1793.8,326.1 L1792.2,326.6 L1790.2,327.2 L1787.7,327.9 L1784.4,328.7 L1780.5,329.5 L1776.3,330.5 L1772.1,331.4 L1768.1,332.5 L1764.6,333.5 L1761.7,334.6 L1759.1,335.7 L1756.7,336.9 L1754.4,338.1 L1752.2,339.2 L1749.8,340.4 L1753.1,341.8 L1756.5,343.3 L1759.8,344.8 L1763.1,346.2 L1766.4,347.5 L1769.6,348.6 L1772.7,349.5 L1775.6,350.1 L1778.5,350.5 L1781.5,351.1 L1784.5,351.8 L1787.7,352.8 L1791.1,354.2 L1794.6,356.0 L1798.2,357.9 L1801.8,359.9 L1805.6,361.8 L1809.5,363.5 L1813.5,365.0 L1817.5,366.3 L1821.7,367.5 L1825.9,368.8 L1830.3,370.3 L1834.7,372.0 L1839.2,374.1 L1843.9,376.4 L1848.7,378.8 L1853.5,381.4 L1858.3,384.0 L1863.1,386.5 L1867.7,389.0 L1872.2,391.4 L1876.7,393.9 L1881.3,396.5 L1886.2,399.1 L1891.5,401.7 L1897.3,404.4 L1903.4,407.2 L1909.9,410.1 L1916.4,413.0 L1923.0,415.8 L1929.4,418.7 L1925.4,427.2 L1921.6,435.7 L1917.7,444.1 L1913.7,452.6 L1909.5,461.2 L1905.0,470.0 L1900.1,478.9 L1894.8,488.0 L1889.3,497.2 L1883.7,506.4 L1878.1,515.6 L1872.6,524.8 L1866.4,521.4 L1860.3,517.9 L1854.2,514.5 L1848.0,511.1 L1841.6,507.6 L1834.7,504.0 L1827.3,500.3 L1819.6,496.4 L1811.6,492.5 L1803.4,488.6 L1795.3,484.8 L1787.3,481.2 L1779.4,477.8 L1771.5,474.5 L1763.6,471.4 L1755.8,468.3 L1747.9,465.3 L1740.0,462.3 L1732.1,459.3 L1724.2,456.3 L1716.3,453.4 L1708.4,450.5 L1700.5,447.8 L1692.6,445.2 L1684.7,442.8 L1676.8,440.6 L1668.9,438.5 L1661.0,436.4 L1653.1,434.3 L1645.2,432.0 L1636.9,429.4 L1628.2,426.6 L1619.5,423.7 L1611.3,421.0 L1603.9,418.6 L1597.9,416.8 L1593.6,415.7 L1590.8,415.3 L1588.8,415.2 L1587.2,415.3 L1585.4,415.2 L1582.9,414.8 L1579.7,414.1 L1576.2,413.2 L1572.5,412.2 L1568.7,411.2 L1564.9,410.1 L1561.2,409.0 L1557.6,407.9 L1553.9,406.7 L1550.3,405.5 L1546.7,404.3 L1543.0,403.0 L1539.4,401.7 L1535.8,400.4 L1532.2,399.0 L1528.5,397.6 L1524.9,396.2 L1521.3,394.6 L1517.7,393.0 L1514.1,391.3 L1510.4,389.5 L1506.8,387.6 L1503.2,385.6 L1499.5,383.5 L1495.9,381.4 L1492.2,379.2 L1488.6,376.9 L1484.9,374.5 L1481.2,372.0 L1477.6,369.5 L1474.2,367.0 L1470.9,364.4 L1467.7,361.8 L1464.5,359.1 L1461.5,356.4 L1458.4,353.7 L1455.4,351.0 L1452.4,348.4 L1449.5,345.9 L1446.6,343.3 L1443.7,340.7 L1440.9,338.0 L1438.0,335.1 L1435.0,332.0 L1432.0,328.6 L1428.9,325.1 L1426.0,321.6 L1423.2,318.2 L1420.6,314.8 L1418.3,311.6 L1416.1,308.5 L1414.2,305.4 L1412.3,302.4 L1410.6,299.2 L1409.0,295.9 L1407.5,292.4 L1406.1,288.9 L1404.8,285.2 L1403.6,281.5 L1402.6,277.8 L1401.7,274.2 L1400.9,270.7 L1400.2,267.2 L1399.7,263.8 L1399.3,260.3 L1399.0,256.5 L1398.8,252.5 L1398.8,248.0 L1398.9,243.1 L1399.2,238.0 L1399.6,232.9 L1400.0,228.0 L1400.3,223.5 L1400.6,219.4 L1401.0,215.7 L1401.4,212.2 L1401.7,208.7 L1402.1,205.3Z" fill="#ecebea"/><path d="M1402.5,201.7 L1413.7,201.5 L1425.0,201.4 L1436.2,201.2 L1447.4,201.1 L1458.7,200.9 L1470.0,200.8 L1481.4,200.7 L1492.8,200.6 L1504.3,200.5 L1515.8,200.5 L1527.2,200.4 L1538.7,200.3 L1537.6,202.9 L1536.5,205.4 L1535.3,207.9 L1534.2,210.5 L1533.2,213.2 L1532.2,216.2 L1531.3,219.6 L1530.4,223.3 L1529.5,227.2 L1528.8,231.1 L1528.2,234.7 L1527.8,238.0 L1527.6,240.8 L1527.5,243.4 L1527.6,245.7 L1527.8,247.9 L1528.2,250.2 L1528.6,252.5 L1529.1,255.0 L1529.8,257.4 L1530.6,259.9 L1531.5,262.4 L1532.5,264.8 L1533.6,267.0 L1534.7,269.1 L1535.8,271.1 L1537.1,273.0 L1538.5,274.8 L1540.2,276.7 L1542.3,278.6 L1544.8,280.6 L1547.7,282.5 L1550.9,284.5 L1554.3,286.5 L1557.8,288.3 L1561.2,290.1 L1564.7,291.8 L1568.5,293.3 L1572.3,294.9 L1576.1,296.3 L1579.7,297.6 L1582.9,298.8 L1585.8,299.9 L1588.4,300.8 L1590.9,301.7 L1593.2,302.4 L1595.3,303.2 L1597.4,303.9 L1599.3,304.6 L1601.1,305.2 L1602.7,305.8 L1604.3,306.4 L1605.9,306.9 L1607.5,307.5 L1609.4,305.6 L1611.3,303.6 L1613.1,301.7 L1615.0,299.8 L1617.0,297.8 L1619.1,295.9 L1621.3,293.9 L1623.6,291.9 L1626.0,289.9 L1628.5,287.9 L1631.0,286.1 L1633.6,284.3 L1636.2,282.7 L1639.0,281.2 L1641.8,279.8 L1644.6,278.5 L1647.3,277.1 L1650.0,275.8 L1652.6,274.4 L1655.1,273.1 L1657.5,271.8 L1660.0,270.4 L1662.4,269.2 L1664.9,267.9 L1667.4,266.7 L1669.9,265.4 L1672.4,264.2 L1674.9,263.1 L1677.4,261.9 L1679.9,260.9 L1682.4,259.9 L1684.9,259.0 L1687.4,258.2 L1689.8,257.4 L1692.3,256.7 L1694.8,255.9 L1697.3,255.2 L1699.8,254.5 L1702.3,253.8 L1704.8,253.2 L1707.3,252.6 L1709.8,251.9 L1712.3,251.2 L1715.0,250.6 L1717.6,249.9 L1720.1,249.2 L1722.5,248.6 L1724.7,247.9 L1726.7,247.2 L1728.4,246.5 L1730.0,245.8 L1731.5,245.1 L1733.1,244.5 L1734.7,243.9 L1736.3,243.4 L1737.9,243.0 L1739.4,242.7 L1741.0,242.4 L1742.7,242.2 L1744.7,241.9 L1746.8,241.7 L1749.1,241.5 L1751.5,241.3 L1754.1,241.2 L1756.8,241.0 L1759.6,240.9 L1762.7,240.8 L1766.1,240.7 L1769.6,240.7 L1773.1,240.6 L1776.5,240.5 L1779.6,240.4 L1782.4,240.3 L1784.9,240.2 L1787.4,240.0 L1789.7,239.9 L1792.1,239.7 L1794.5,239.4 L1797.0,239.1 L1799.5,238.8 L1802.0,238.5 L1804.5,238.0 L1807.0,237.5 L1809.5,236.9 L1812.1,236.1 L1814.9,235.0 L1817.7,233.9 L1820.3,232.7 L1822.6,231.7 L1824.4,231.0 L1825.6,230.5 L1826.3,230.3 L1826.6,230.2 L1826.8,230.2 L1827.0,230.1 L1827.4,230.0 L1827.5,233.2 L1827.6,236.3 L1827.7,239.3 L1827.8,242.5 L1828.0,246.0 L1828.4,249.9 L1829.1,254.2 L1830.0,258.8 L1831.0,263.6 L1832.0,268.7 L1832.8,274.1 L1833.4,279.8 L1833.7,286.3 L1833.7,293.7 L1833.6,301.4 L1833.4,308.7 L1833.3,315.0 L1833.4,319.7 L1833.6,322.4 L1833.9,323.7 L1834.3,323.9 L1834.7,323.7 L1835.0,323.4 L1835.4,323.7 L1832.8,323.3 L1830.3,322.8 L1827.7,322.4 L1825.1,322.0 L1822.4,321.7 L1819.5,321.7 L1816.3,321.9 L1812.8,322.3 L1809.2,322.9 L1805.7,323.5 L1802.4,324.1 L1799.5,324.7 L1797.2,325.2 L1795.4,325.7 L1793.8,326.1 L1792.2,326.6 L1790.2,327.2 L1787.7,327.9 L1784.4,328.7 L1780.5,329.5 L1776.3,330.5 L1772.1,331.4 L1768.1,332.5 L1764.6,333.5 L1761.7,334.6 L1759.1,335.7 L1756.7,336.9 L1754.4,338.1 L1752.2,339.2 L1749.8,340.4 L1753.1,341.8 L1756.5,343.3 L1759.8,344.8 L1763.1,346.2 L1766.4,347.5 L1769.6,348.6 L1772.7,349.5 L1775.6,350.1 L1778.5,350.5 L1781.5,351.1 L1784.5,351.8 L1787.7,352.8 L1791.1,354.2 L1794.6,356.0 L1798.2,357.9 L1801.8,359.9 L1805.6,361.8 L1809.5,363.5 L1813.5,365.0 L1817.5,366.3 L1821.7,367.5 L1825.9,368.8 L1830.3,370.3 L1834.7,372.0 L1839.2,374.1 L1843.9,376.4 L1848.7,378.8 L1853.5,381.4 L1858.3,384.0 L1863.1,386.5 L1867.7,389.0 L1872.2,391.4 L1876.7,393.9 L1881.3,396.5 L1886.2,399.1 L1891.5,401.7 L1897.3,404.4 L1903.4,407.2 L1909.9,410.1 L1916.4,413.0 L1923.0,415.8 L1929.4,418.7 L1925.4,427.2 L1921.6,435.7 L1917.7,444.1 L1913.7,452.6 L1909.5,461.2 L1905.0,470.0 L1900.1,478.9 L1894.8,488.0 L1889.3,497.2 L1883.7,506.4 L1878.1,515.6 L1872.6,524.8 L1866.4,521.4 L1860.3,517.9 L1854.2,514.5 L1848.0,511.1 L1841.6,507.6 L1834.7,504.0 L1827.3,500.3 L1819.6,496.4 L1811.6,492.5 L1803.4,488.6 L1795.3,484.8 L1787.3,481.2 L1779.4,477.8 L1771.5,474.5 L1763.6,471.4 L1755.8,468.3 L1747.9,465.3 L1740.0,462.3 L1732.1,459.3 L1724.2,456.3 L1716.3,453.4 L1708.4,450.5 L1700.5,447.8 L1692.6,445.2 L1684.7,442.8 L1676.8,440.6 L1668.9,438.5 L1661.0,436.4 L1653.1,434.3 L1645.2,432.0 L1636.9,429.4 L1628.2,426.6 L1619.5,423.7 L1611.3,421.0 L1603.9,418.6 L1597.9,416.8 L1593.6,415.7 L1590.8,415.3 L1588.8,415.2 L1587.2,415.3 L1585.4,415.2 L1582.9,414.8 L1579.7,414.1 L1576.2,413.2 L1572.5,412.2 L1568.7,411.2 L1564.9,410.1 L1561.2,409.0 L1557.6,407.9 L1553.9,406.7 L1550.3,405.5 L1546.7,404.3 L1543.0,403.0 L1539.4,401.7 L1535.8,400.4 L1532.2,399.0 L1528.5,397.6 L1524.9,396.2 L1521.3,394.6 L1517.7,393.0 L1514.1,391.3 L1510.4,389.5 L1506.8,387.6 L1503.2,385.6 L1499.5,383.5 L1495.9,381.4 L1492.2,379.2 L1488.6,376.9 L1484.9,374.5 L1481.2,372.0 L1477.6,369.5 L1474.2,367.0 L1470.9,364.4 L1467.7,361.8 L1464.5,359.1 L1461.5,356.4 L1458.4,353.7 L1455.4,351.0 L1452.4,348.4 L1449.5,345.9 L1446.6,343.3 L1443.7,340.7 L1440.9,338.0 L1438.0,335.1 L1435.0,332.0 L1432.0,328.6 L1428.9,325.1 L1426.0,321.6 L1423.2,318.2 L1420.6,314.8 L1418.3,311.6 L1416.1,308.5 L1414.2,305.4 L1412.3,302.4 L1410.6,299.2 L1409.0,295.9 L1407.5,292.4 L1406.1,288.9 L1404.8,285.2 L1403.6,281.5 L1402.6,277.8 L1401.7,274.2 L1400.9,270.7 L1400.2,267.2 L1399.7,263.8 L1399.3,260.3 L1399.0,256.5 L1398.8,252.5 L1398.8,248.0 L1398.9,243.1 L1399.2,238.0 L1399.6,232.9 L1400.0,228.0 L1400.3,223.5 L1400.6,219.4 L1401.0,215.7 L1401.4,212.2 L1401.7,208.7 L1402.1,205.3Z" fill="none" stroke="#d8d8d8" stroke-width="14" filter="url(#bl)"/><path d="M1912.5,410 L1932,419 L1872.2,526 L1854.7,515.3Z" fill="url(#capg1)"/><path d="M1812,225 L1840,225 L1840,330 L1812,330Z" fill="url(#capg2)"/></g><path d="M1695.5,333.9 L1720.0,335.0 L1746.3,339.4 L1720.0,343.0 L1697.0,352.3Z" fill="#d0d0d0"/></g>
<g stroke-linecap="round"><line x1="1380.3" y1="1005.7" x2="1374.5" y2="702.9" stroke="#353535" stroke-width="1.35"/><line x1="1430.2" y1="1005.9" x2="1425.8" y2="702.9" stroke="#353535" stroke-width="1.35"/><line x1="1480.2" y1="1006.1" x2="1477.2" y2="702.9" stroke="#353535" stroke-width="1.35"/><line x1="1530.3" y1="1006.3" x2="1528.6" y2="702.9" stroke="#353535" stroke-width="1.35"/><line x1="1580.4" y1="1006.5" x2="1580.1" y2="702.9" stroke="#353535" stroke-width="1.35"/><line x1="1630.6" y1="1006.7" x2="1631.7" y2="703.0" stroke="#353535" stroke-width="1.35"/><line x1="1680.9" y1="1006.9" x2="1683.3" y2="703.0" stroke="#353535" stroke-width="1.35"/><line x1="1731.2" y1="1007.1" x2="1735.0" y2="703.0" stroke="#353535" stroke-width="1.35"/><line x1="1781.6" y1="1007.4" x2="1786.8" y2="703.0" stroke="#353535" stroke-width="1.35"/><line x1="1832.1" y1="1007.6" x2="1838.7" y2="703.0" stroke="#353535" stroke-width="1.35"/><line x1="1882.6" y1="1007.8" x2="1890.6" y2="703.0" stroke="#353535" stroke-width="1.35"/><line x1="1380.3" y1="1005.7" x2="1882.6" y2="1007.8" stroke="#555" stroke-width="1.3"/><line x1="1379.4" y1="956.3" x2="1883.9" y2="958.1" stroke="#555" stroke-width="1.3"/><line x1="1378.4" y1="906.5" x2="1885.2" y2="908.0" stroke="#555" stroke-width="1.3"/><line x1="1377.5" y1="856.3" x2="1886.6" y2="857.5" stroke="#555" stroke-width="1.3"/><line x1="1376.5" y1="805.6" x2="1887.9" y2="806.4" stroke="#555" stroke-width="1.3"/><line x1="1375.5" y1="754.5" x2="1889.2" y2="755.0" stroke="#555" stroke-width="1.3"/><line x1="1374.5" y1="702.9" x2="1890.6" y2="703.0" stroke="#555" stroke-width="1.3"/><line x1="1380.3" y1="1005.7" x2="1292.2" y2="1108.8" stroke="#555" stroke-width="1.3"/><line x1="1379.4" y1="956.3" x2="1290.4" y2="1042.3" stroke="#5c5c5c" stroke-width="1.1"/><line x1="1378.4" y1="906.5" x2="1288.5" y2="974.9" stroke="#5c5c5c" stroke-width="1.1"/><line x1="1377.5" y1="856.3" x2="1286.7" y2="906.7" stroke="#5c5c5c" stroke-width="1.1"/><line x1="1376.5" y1="805.6" x2="1284.8" y2="837.7" stroke="#5c5c5c" stroke-width="1.1"/><line x1="1375.5" y1="754.5" x2="1282.9" y2="767.9" stroke="#5c5c5c" stroke-width="1.1"/><line x1="1374.5" y1="702.9" x2="1281.0" y2="697.1" stroke="#5c5c5c" stroke-width="1.1"/><line x1="1358.4" y1="1031.3" x2="1351.4" y2="701.5" stroke="#353535" stroke-width="1.35"/><line x1="1325.4" y1="1069.9" x2="1316.5" y2="699.3" stroke="#353535" stroke-width="1.35"/><line x1="1292.2" y1="1108.8" x2="1281.0" y2="697.1" stroke="#353535" stroke-width="1.35"/><line x1="1882.6" y1="1007.8" x2="1975.6" y2="1112.6" stroke="#555" stroke-width="1.3"/><line x1="1883.3" y1="983.0" x2="1976.8" y2="1079.2" stroke="#5c5c5c" stroke-width="1.1"/><line x1="1883.9" y1="958.1" x2="1978.0" y2="1045.5" stroke="#5c5c5c" stroke-width="1.1"/><line x1="1884.6" y1="933.1" x2="1979.2" y2="1011.6" stroke="#5c5c5c" stroke-width="1.1"/><line x1="1885.2" y1="908.0" x2="1980.3" y2="977.6" stroke="#5c5c5c" stroke-width="1.1"/><line x1="1885.9" y1="882.8" x2="1981.5" y2="943.3" stroke="#5c5c5c" stroke-width="1.1"/><line x1="1886.6" y1="857.5" x2="1982.7" y2="908.8" stroke="#5c5c5c" stroke-width="1.1"/><line x1="1887.2" y1="832.0" x2="1983.9" y2="874.1" stroke="#5c5c5c" stroke-width="1.1"/><line x1="1887.9" y1="806.4" x2="1985.2" y2="839.1" stroke="#5c5c5c" stroke-width="1.1"/><line x1="1888.6" y1="780.8" x2="1986.4" y2="804.0" stroke="#5c5c5c" stroke-width="1.1"/><line x1="1889.2" y1="755.0" x2="1987.6" y2="768.6" stroke="#5c5c5c" stroke-width="1.1"/><line x1="1889.9" y1="729.0" x2="1988.8" y2="733.1" stroke="#5c5c5c" stroke-width="1.1"/><line x1="1890.6" y1="703.0" x2="1990.1" y2="697.2" stroke="#5c5c5c" stroke-width="1.1"/><line x1="1905.7" y1="1033.8" x2="1915.1" y2="701.6" stroke="#353535" stroke-width="1.35"/><line x1="1940.5" y1="1073.0" x2="1952.3" y2="699.4" stroke="#353535" stroke-width="1.35"/><line x1="1975.6" y1="1112.6" x2="1990.1" y2="697.2" stroke="#353535" stroke-width="1.35"/><line x1="1430.2" y1="1005.9" x2="1360.0" y2="1109.2" stroke="#5c5c5c" stroke-width="1.1"/><line x1="1480.2" y1="1006.1" x2="1427.9" y2="1109.6" stroke="#5c5c5c" stroke-width="1.1"/><line x1="1530.3" y1="1006.3" x2="1495.9" y2="1109.9" stroke="#5c5c5c" stroke-width="1.1"/><line x1="1580.4" y1="1006.5" x2="1564.1" y2="1110.3" stroke="#5c5c5c" stroke-width="1.1"/><line x1="1630.6" y1="1006.7" x2="1632.4" y2="1110.7" stroke="#5c5c5c" stroke-width="1.1"/><line x1="1680.9" y1="1006.9" x2="1700.8" y2="1111.1" stroke="#5c5c5c" stroke-width="1.1"/><line x1="1731.2" y1="1007.1" x2="1769.3" y2="1111.5" stroke="#5c5c5c" stroke-width="1.1"/><line x1="1781.6" y1="1007.4" x2="1838.0" y2="1111.8" stroke="#5c5c5c" stroke-width="1.1"/><line x1="1832.1" y1="1007.6" x2="1906.7" y2="1112.2" stroke="#5c5c5c" stroke-width="1.1"/><line x1="1358.4" y1="1031.3" x2="1905.7" y2="1033.8" stroke="#555" stroke-width="1.3"/><line x1="1325.4" y1="1069.9" x2="1940.5" y2="1073.0" stroke="#555" stroke-width="1.3"/><line x1="1292.2" y1="1108.8" x2="1975.6" y2="1112.6" stroke="#555" stroke-width="1.3"/></g><ellipse cx="1528.0" cy="1006.8" rx="13.0" ry="1.6" fill="#222"/><ellipse cx="1723.0" cy="1007.5" rx="13.0" ry="1.6" fill="#222"/>
<g stroke-width="3.5" stroke-linecap="round"><line x1="1462.0" y1="728.5" x2="1461.6" y2="731.5" stroke="#3547ae"/><line x1="1461.6" y1="731.5" x2="1461.3" y2="734.5" stroke="#3547ae"/><line x1="1461.3" y1="734.5" x2="1460.9" y2="737.5" stroke="#3547ae"/><line x1="1460.9" y1="737.5" x2="1460.5" y2="740.5" stroke="#3547ae"/><line x1="1460.5" y1="740.5" x2="1460.1" y2="743.4" stroke="#3547ae"/><line x1="1460.1" y1="743.4" x2="1459.6" y2="746.4" stroke="#3547ae"/><line x1="1459.6" y1="746.4" x2="1459.2" y2="749.4" stroke="#3547ae"/><line x1="1459.2" y1="749.4" x2="1458.7" y2="752.4" stroke="#3547ae"/><line x1="1458.7" y1="752.4" x2="1458.3" y2="755.4" stroke="#3547ae"/><line x1="1458.3" y1="755.4" x2="1457.9" y2="758.3" stroke="#3547ae"/><line x1="1457.9" y1="758.3" x2="1457.5" y2="761.3" stroke="#3547ae"/><line x1="1457.5" y1="761.3" x2="1457.2" y2="764.3" stroke="#3547ae"/><line x1="1457.2" y1="764.3" x2="1457.0" y2="767.3" stroke="#3547ae"/><line x1="1457.0" y1="767.3" x2="1456.9" y2="770.3" stroke="#3547ae"/><line x1="1456.9" y1="770.3" x2="1457.0" y2="773.3" stroke="#3547ae"/><line x1="1457.0" y1="773.3" x2="1457.1" y2="776.4" stroke="#3547ae"/><line x1="1457.1" y1="776.4" x2="1457.4" y2="779.4" stroke="#3547ae"/><line x1="1457.4" y1="779.4" x2="1457.9" y2="782.3" stroke="#3547ae"/><line x1="1457.9" y1="782.3" x2="1458.5" y2="785.3" stroke="#3547ae"/><line x1="1458.5" y1="785.3" x2="1459.3" y2="788.2" stroke="#3547ae"/><line x1="1459.3" y1="788.2" x2="1460.2" y2="791.1" stroke="#3547ae"/><line x1="1460.2" y1="791.1" x2="1461.3" y2="793.9" stroke="#3547ae"/><line x1="1461.3" y1="793.9" x2="1462.4" y2="796.7" stroke="#3547ae"/><line x1="1462.4" y1="796.7" x2="1463.7" y2="799.4" stroke="#3547ae"/><line x1="1463.7" y1="799.4" x2="1464.9" y2="802.1" stroke="#3547ae"/><line x1="1464.9" y1="802.1" x2="1466.2" y2="804.9" stroke="#3547ae"/><line x1="1466.2" y1="804.9" x2="1467.6" y2="807.5" stroke="#3547ae"/><line x1="1467.6" y1="807.5" x2="1469.0" y2="810.2" stroke="#3547ae"/><line x1="1469.0" y1="810.2" x2="1470.5" y2="812.8" stroke="#85a9fe"/><line x1="1470.5" y1="812.8" x2="1472.1" y2="815.4" stroke="#3547ae"/><line x1="1472.1" y1="815.4" x2="1473.8" y2="817.9" stroke="#3547ae"/><line x1="1473.8" y1="817.9" x2="1475.7" y2="820.2" stroke="#3547ae"/><line x1="1475.7" y1="820.2" x2="1477.7" y2="822.5" stroke="#3547ae"/><line x1="1477.7" y1="822.5" x2="1479.8" y2="824.6" stroke="#3547ae"/><line x1="1479.8" y1="824.6" x2="1481.9" y2="826.7" stroke="#3547ae"/><line x1="1481.9" y1="826.7" x2="1484.2" y2="828.7" stroke="#3547ae"/><line x1="1484.2" y1="828.7" x2="1486.4" y2="830.7" stroke="#3547ae"/><line x1="1486.4" y1="830.7" x2="1488.7" y2="832.7" stroke="#3547ae"/><line x1="1488.7" y1="832.7" x2="1491.0" y2="834.6" stroke="#85a9fe"/><line x1="1491.0" y1="834.6" x2="1493.4" y2="836.5" stroke="#3547ae"/><line x1="1493.4" y1="836.5" x2="1495.7" y2="838.4" stroke="#3547ae"/><line x1="1495.7" y1="838.4" x2="1498.2" y2="840.2" stroke="#3547ae"/><line x1="1498.2" y1="840.2" x2="1500.6" y2="841.9" stroke="#3547ae"/><line x1="1500.6" y1="841.9" x2="1503.1" y2="843.6" stroke="#3547ae"/><line x1="1503.1" y1="843.6" x2="1505.6" y2="845.3" stroke="#3547ae"/><line x1="1505.6" y1="845.3" x2="1508.1" y2="847.0" stroke="#3547ae"/><line x1="1508.1" y1="847.0" x2="1510.6" y2="848.6" stroke="#3547ae"/><line x1="1510.6" y1="848.6" x2="1513.2" y2="850.2" stroke="#3547ae"/><line x1="1513.2" y1="850.2" x2="1515.8" y2="851.7" stroke="#3547ae"/><line x1="1515.8" y1="851.7" x2="1518.4" y2="853.3" stroke="#3547ae"/><line x1="1518.4" y1="853.3" x2="1521.0" y2="854.8" stroke="#3547ae"/><line x1="1521.0" y1="854.8" x2="1523.6" y2="856.2" stroke="#3547ae"/><line x1="1523.6" y1="856.2" x2="1526.3" y2="857.7" stroke="#3547ae"/><line x1="1526.3" y1="857.7" x2="1528.9" y2="859.1" stroke="#3547ae"/><line x1="1528.9" y1="859.1" x2="1531.6" y2="860.5" stroke="#3547ae"/><line x1="1531.6" y1="860.5" x2="1534.3" y2="861.8" stroke="#3547ae"/><line x1="1534.3" y1="861.8" x2="1537.0" y2="863.2" stroke="#3547ae"/><line x1="1537.0" y1="863.2" x2="1539.7" y2="864.4" stroke="#3547ae"/><line x1="1539.7" y1="864.4" x2="1542.5" y2="865.7" stroke="#3547ae"/><line x1="1542.5" y1="865.7" x2="1545.2" y2="866.9" stroke="#3547ae"/><line x1="1545.2" y1="866.9" x2="1548.0" y2="868.0" stroke="#3547ae"/><line x1="1548.0" y1="868.0" x2="1550.8" y2="869.1" stroke="#3547ae"/><line x1="1550.8" y1="869.1" x2="1553.6" y2="870.2" stroke="#3547ae"/><line x1="1553.6" y1="870.2" x2="1556.5" y2="871.1" stroke="#3547ae"/><line x1="1556.5" y1="871.1" x2="1559.4" y2="872.1" stroke="#85a9fe"/><line x1="1559.4" y1="872.1" x2="1562.2" y2="873.0" stroke="#3547ae"/><line x1="1562.2" y1="873.0" x2="1565.1" y2="873.9" stroke="#3547ae"/><line x1="1565.1" y1="873.9" x2="1568.0" y2="874.8" stroke="#3547ae"/><line x1="1568.0" y1="874.8" x2="1570.9" y2="875.7" stroke="#3547ae"/><line x1="1570.9" y1="875.7" x2="1573.7" y2="876.5" stroke="#3547ae"/><line x1="1573.7" y1="876.5" x2="1576.6" y2="877.4" stroke="#3547ae"/><line x1="1576.6" y1="877.4" x2="1579.5" y2="878.2" stroke="#3547ae"/><line x1="1579.5" y1="878.2" x2="1582.4" y2="879.1" stroke="#3547ae"/><line x1="1582.4" y1="879.1" x2="1585.3" y2="880.1" stroke="#3547ae"/><line x1="1585.3" y1="880.1" x2="1587.9" y2="881.5" stroke="#3547ae"/><line x1="1587.9" y1="881.5" x2="1590.3" y2="883.3" stroke="#3547ae"/><line x1="1590.3" y1="883.3" x2="1593.0" y2="884.6" stroke="#3547ae"/><line x1="1593.0" y1="884.6" x2="1595.8" y2="885.8" stroke="#3547ae"/><line x1="1595.8" y1="885.8" x2="1598.6" y2="887.0" stroke="#3547ae"/><line x1="1598.6" y1="887.0" x2="1601.3" y2="888.1" stroke="#3547ae"/><line x1="1601.3" y1="888.1" x2="1604.1" y2="889.3" stroke="#3547ae"/><line x1="1604.1" y1="889.3" x2="1606.9" y2="890.4" stroke="#3547ae"/><line x1="1606.9" y1="890.4" x2="1609.8" y2="891.5" stroke="#3547ae"/><line x1="1609.8" y1="891.5" x2="1612.6" y2="892.5" stroke="#3547ae"/><line x1="1612.6" y1="892.5" x2="1615.4" y2="893.4" stroke="#3547ae"/><line x1="1615.4" y1="893.4" x2="1618.3" y2="894.3" stroke="#3547ae"/><line x1="1618.3" y1="894.3" x2="1621.2" y2="895.1" stroke="#3547ae"/><line x1="1621.2" y1="895.1" x2="1624.2" y2="895.9" stroke="#3547ae"/><line x1="1624.2" y1="895.9" x2="1627.1" y2="896.6" stroke="#f4b296"/><line x1="1627.1" y1="896.6" x2="1630.0" y2="897.3" stroke="#3547ae"/><line x1="1630.0" y1="897.3" x2="1632.9" y2="898.0" stroke="#3547ae"/><line x1="1632.9" y1="898.0" x2="1635.8" y2="898.8" stroke="#3547ae"/><line x1="1635.8" y1="898.8" x2="1638.7" y2="899.6" stroke="#3547ae"/><line x1="1638.7" y1="899.6" x2="1641.7" y2="900.4" stroke="#3547ae"/><line x1="1641.7" y1="900.4" x2="1644.6" y2="901.2" stroke="#3547ae"/><line x1="1644.6" y1="901.2" x2="1647.5" y2="902.0" stroke="#3547ae"/><line x1="1647.5" y1="902.0" x2="1650.4" y2="902.8" stroke="#f4a080"/><line x1="1650.4" y1="902.8" x2="1653.3" y2="903.6" stroke="#3547ae"/><line x1="1653.3" y1="903.6" x2="1656.2" y2="904.4" stroke="#3547ae"/><line x1="1656.2" y1="904.4" x2="1659.0" y2="905.3" stroke="#3547ae"/><line x1="1659.0" y1="905.3" x2="1661.9" y2="906.2" stroke="#3547ae"/><line x1="1661.9" y1="906.2" x2="1664.8" y2="907.1" stroke="#a1c0fe"/><line x1="1664.8" y1="907.1" x2="1667.7" y2="908.0" stroke="#3547ae"/><line x1="1667.7" y1="908.0" x2="1670.5" y2="908.9" stroke="#3547ae"/><line x1="1670.5" y1="908.9" x2="1673.4" y2="909.7" stroke="#3547ae"/><line x1="1673.4" y1="909.7" x2="1676.3" y2="910.6" stroke="#3547ae"/><line x1="1676.3" y1="910.6" x2="1679.2" y2="911.4" stroke="#3547ae"/><line x1="1679.2" y1="911.4" x2="1682.1" y2="912.2" stroke="#3547ae"/><line x1="1682.1" y1="912.2" x2="1685.0" y2="913.0" stroke="#3547ae"/><line x1="1685.0" y1="913.0" x2="1687.9" y2="913.8" stroke="#3547ae"/><line x1="1687.9" y1="913.8" x2="1690.8" y2="914.6" stroke="#3547ae"/><line x1="1690.8" y1="914.6" x2="1693.8" y2="915.4" stroke="#3547ae"/><line x1="1693.8" y1="915.4" x2="1696.7" y2="916.2" stroke="#3547ae"/><line x1="1696.7" y1="916.2" x2="1699.6" y2="916.9" stroke="#3547ae"/><line x1="1699.6" y1="916.9" x2="1702.5" y2="917.7" stroke="#3547ae"/><line x1="1702.5" y1="917.7" x2="1705.4" y2="918.5" stroke="#3547ae"/><line x1="1705.4" y1="918.5" x2="1708.3" y2="919.3" stroke="#3547ae"/><line x1="1708.3" y1="919.3" x2="1711.2" y2="920.1" stroke="#3547ae"/><line x1="1711.2" y1="920.1" x2="1714.1" y2="921.0" stroke="#3547ae"/><line x1="1714.1" y1="921.0" x2="1717.0" y2="921.8" stroke="#3547ae"/><line x1="1717.0" y1="921.8" x2="1719.9" y2="922.7" stroke="#3547ae"/><line x1="1719.9" y1="922.7" x2="1722.7" y2="923.5" stroke="#3547ae"/><line x1="1722.7" y1="923.5" x2="1725.6" y2="924.4" stroke="#3547ae"/><line x1="1725.6" y1="924.4" x2="1728.5" y2="925.4" stroke="#3547ae"/><line x1="1728.5" y1="925.4" x2="1731.3" y2="926.3" stroke="#3547ae"/><line x1="1731.3" y1="926.3" x2="1734.2" y2="927.3" stroke="#3547ae"/><line x1="1734.2" y1="927.3" x2="1737.0" y2="928.2" stroke="#3547ae"/><line x1="1737.0" y1="928.2" x2="1739.9" y2="929.2" stroke="#a1c0fe"/><line x1="1739.9" y1="929.2" x2="1742.7" y2="930.2" stroke="#3547ae"/><line x1="1742.7" y1="930.2" x2="1745.6" y2="931.3" stroke="#3547ae"/><line x1="1745.6" y1="931.3" x2="1748.4" y2="932.3" stroke="#3547ae"/><line x1="1748.4" y1="932.3" x2="1751.2" y2="933.3" stroke="#3547ae"/><line x1="1751.2" y1="933.3" x2="1754.1" y2="934.3" stroke="#3547ae"/><line x1="1754.1" y1="934.3" x2="1756.9" y2="935.4" stroke="#3547ae"/><line x1="1756.9" y1="935.4" x2="1759.7" y2="936.5" stroke="#3547ae"/><line x1="1759.7" y1="936.5" x2="1762.5" y2="937.5" stroke="#3547ae"/><line x1="1762.5" y1="937.5" x2="1765.3" y2="938.6" stroke="#3547ae"/><line x1="1765.3" y1="938.6" x2="1768.2" y2="939.6" stroke="#3547ae"/><line x1="1768.2" y1="939.6" x2="1771.0" y2="940.7" stroke="#3547ae"/><line x1="1771.0" y1="940.7" x2="1773.8" y2="941.8" stroke="#3547ae"/><line x1="1773.8" y1="941.8" x2="1776.6" y2="942.9" stroke="#f4b296"/><line x1="1776.6" y1="942.9" x2="1779.4" y2="943.9" stroke="#3547ae"/><line x1="1779.4" y1="943.9" x2="1782.2" y2="945.0" stroke="#3547ae"/><line x1="1782.2" y1="945.0" x2="1785.1" y2="946.1" stroke="#3547ae"/><line x1="1785.1" y1="946.1" x2="1787.9" y2="947.2" stroke="#3547ae"/><line x1="1787.9" y1="947.2" x2="1790.7" y2="948.3" stroke="#3547ae"/><line x1="1790.7" y1="948.3" x2="1793.5" y2="949.4" stroke="#3547ae"/><line x1="1793.5" y1="949.4" x2="1796.3" y2="950.5" stroke="#3547ae"/><line x1="1796.3" y1="950.5" x2="1799.1" y2="951.6" stroke="#3547ae"/><line x1="1799.1" y1="951.6" x2="1801.9" y2="952.7" stroke="#dcdcdd"/><line x1="1801.9" y1="952.7" x2="1804.7" y2="953.8" stroke="#f4a080"/><line x1="1804.7" y1="953.8" x2="1807.4" y2="955.0" stroke="#3547ae"/><line x1="1807.4" y1="955.0" x2="1810.2" y2="956.1" stroke="#3547ae"/><line x1="1810.2" y1="956.1" x2="1813.0" y2="957.3" stroke="#3547ae"/><line x1="1813.0" y1="957.3" x2="1815.8" y2="958.5" stroke="#3547ae"/><line x1="1815.8" y1="958.5" x2="1818.5" y2="959.7" stroke="#3547ae"/><line x1="1818.5" y1="959.7" x2="1821.3" y2="960.9" stroke="#3547ae"/><line x1="1821.3" y1="960.9" x2="1824.0" y2="962.1" stroke="#3547ae"/><line x1="1824.0" y1="962.1" x2="1826.8" y2="963.4" stroke="#3547ae"/><line x1="1826.8" y1="963.4" x2="1829.5" y2="964.6" stroke="#3547ae"/><line x1="1829.5" y1="964.6" x2="1832.3" y2="965.9" stroke="#3547ae"/><line x1="1832.3" y1="965.9" x2="1835.0" y2="967.2" stroke="#dcdcdd"/><line x1="1835.0" y1="967.2" x2="1837.7" y2="968.5" stroke="#a1c0fe"/><line x1="1837.7" y1="968.5" x2="1840.4" y2="969.8" stroke="#3547ae"/><line x1="1840.4" y1="969.8" x2="1843.1" y2="971.1" stroke="#3547ae"/><line x1="1843.1" y1="971.1" x2="1845.8" y2="972.4" stroke="#3547ae"/><line x1="1845.8" y1="972.4" x2="1848.5" y2="973.7" stroke="#3547ae"/><line x1="1848.5" y1="973.7" x2="1851.2" y2="975.1" stroke="#3547ae"/><line x1="1851.2" y1="975.1" x2="1854.0" y2="976.4" stroke="#3547ae"/><line x1="1854.0" y1="976.4" x2="1856.7" y2="977.7" stroke="#3547ae"/><line x1="1856.7" y1="977.7" x2="1859.4" y2="979.1" stroke="#3547ae"/><line x1="1859.4" y1="979.1" x2="1862.1" y2="980.4" stroke="#3547ae"/><line x1="1862.1" y1="980.4" x2="1864.8" y2="981.7" stroke="#3547ae"/><line x1="1864.8" y1="981.7" x2="1867.5" y2="983.0" stroke="#85a9fe"/><line x1="1867.5" y1="983.0" x2="1870.2" y2="984.4" stroke="#3547ae"/><line x1="1870.2" y1="984.4" x2="1872.9" y2="985.7" stroke="#3547ae"/><line x1="1872.9" y1="985.7" x2="1875.6" y2="987.0" stroke="#3547ae"/><line x1="1875.6" y1="987.0" x2="1878.3" y2="988.4" stroke="#3547ae"/><line x1="1878.3" y1="988.4" x2="1881.0" y2="989.7" stroke="#85a9fe"/><line x1="1881.0" y1="989.7" x2="1883.7" y2="991.1" stroke="#3547ae"/><line x1="1883.7" y1="991.1" x2="1886.4" y2="992.4" stroke="#a1c0fe"/><line x1="1886.4" y1="992.4" x2="1889.0" y2="993.8" stroke="#85a9fe"/><line x1="1889.0" y1="993.8" x2="1891.7" y2="995.1" stroke="#3547ae"/><line x1="1891.7" y1="995.1" x2="1894.4" y2="996.5" stroke="#3547ae"/><line x1="1894.4" y1="996.5" x2="1897.1" y2="997.8" stroke="#3547ae"/><line x1="1897.1" y1="997.8" x2="1899.8" y2="999.2" stroke="#3547ae"/></g>
<g stroke-width="3.5" stroke-linecap="round"><line x1="1585.1" y1="880.0" x2="1588.1" y2="880.3" stroke="#3547ae"/><line x1="1588.1" y1="880.3" x2="1591.1" y2="880.6" stroke="#3547ae"/><line x1="1591.1" y1="880.6" x2="1594.1" y2="880.8" stroke="#3547ae"/><line x1="1594.1" y1="880.8" x2="1597.2" y2="881.1" stroke="#3547ae"/><line x1="1597.2" y1="881.1" x2="1600.2" y2="881.3" stroke="#3547ae"/><line x1="1600.2" y1="881.3" x2="1603.2" y2="881.5" stroke="#3547ae"/><line x1="1603.2" y1="881.5" x2="1606.2" y2="881.4" stroke="#a1c0fe"/><line x1="1606.2" y1="881.4" x2="1609.2" y2="881.1" stroke="#3547ae"/><line x1="1609.2" y1="881.1" x2="1612.2" y2="880.6" stroke="#3547ae"/><line x1="1612.2" y1="880.6" x2="1615.1" y2="879.8" stroke="#3547ae"/><line x1="1615.1" y1="879.8" x2="1618.0" y2="878.7" stroke="#3547ae"/><line x1="1618.0" y1="878.7" x2="1620.7" y2="877.3" stroke="#3547ae"/><line x1="1620.7" y1="877.3" x2="1623.2" y2="875.6" stroke="#3547ae"/><line x1="1623.2" y1="875.6" x2="1625.6" y2="873.8" stroke="#3547ae"/><line x1="1625.6" y1="873.8" x2="1627.9" y2="871.9" stroke="#3547ae"/><line x1="1627.9" y1="871.9" x2="1630.2" y2="869.9" stroke="#3547ae"/><line x1="1630.2" y1="869.9" x2="1632.5" y2="867.9" stroke="#85a9fe"/><line x1="1632.5" y1="867.9" x2="1634.8" y2="865.9" stroke="#3547ae"/><line x1="1634.8" y1="865.9" x2="1637.0" y2="863.9" stroke="#3547ae"/><line x1="1637.0" y1="863.9" x2="1639.3" y2="861.9" stroke="#3547ae"/><line x1="1639.3" y1="861.9" x2="1641.7" y2="860.1" stroke="#3547ae"/><line x1="1641.7" y1="860.1" x2="1644.4" y2="858.8" stroke="#b40426"/><line x1="1644.4" y1="858.8" x2="1646.7" y2="856.8" stroke="#b40426"/><line x1="1646.7" y1="856.8" x2="1648.8" y2="854.7" stroke="#3547ae"/><line x1="1648.8" y1="854.7" x2="1651.0" y2="852.5" stroke="#3547ae"/><line x1="1651.0" y1="852.5" x2="1653.2" y2="850.4" stroke="#3547ae"/><line x1="1653.2" y1="850.4" x2="1655.4" y2="848.3" stroke="#3547ae"/><line x1="1655.4" y1="848.3" x2="1657.6" y2="846.3" stroke="#3547ae"/><line x1="1657.6" y1="846.3" x2="1659.9" y2="844.3" stroke="#3547ae"/><line x1="1659.9" y1="844.3" x2="1662.3" y2="842.5" stroke="#3547ae"/><line x1="1662.3" y1="842.5" x2="1664.7" y2="840.7" stroke="#3547ae"/><line x1="1664.7" y1="840.7" x2="1667.2" y2="839.0" stroke="#3547ae"/><line x1="1667.2" y1="839.0" x2="1669.8" y2="837.3" stroke="#3547ae"/><line x1="1669.8" y1="837.3" x2="1672.4" y2="835.8" stroke="#3547ae"/><line x1="1672.4" y1="835.8" x2="1675.0" y2="834.2" stroke="#3547ae"/><line x1="1675.0" y1="834.2" x2="1677.7" y2="832.8" stroke="#3547ae"/><line x1="1677.7" y1="832.8" x2="1680.4" y2="831.4" stroke="#3547ae"/><line x1="1680.4" y1="831.4" x2="1683.1" y2="830.1" stroke="#3547ae"/><line x1="1683.1" y1="830.1" x2="1685.9" y2="828.9" stroke="#3547ae"/><line x1="1685.9" y1="828.9" x2="1688.7" y2="827.8" stroke="#a1c0fe"/><line x1="1688.7" y1="827.8" x2="1691.5" y2="826.8" stroke="#dcdcdd"/><line x1="1691.5" y1="826.8" x2="1694.4" y2="826.0" stroke="#3547ae"/><line x1="1694.4" y1="826.0" x2="1697.4" y2="825.2" stroke="#f4b296"/><line x1="1697.4" y1="825.2" x2="1700.3" y2="824.5" stroke="#3547ae"/><line x1="1700.3" y1="824.5" x2="1703.3" y2="823.8" stroke="#3547ae"/><line x1="1703.3" y1="823.8" x2="1706.2" y2="823.0" stroke="#3547ae"/><line x1="1706.2" y1="823.0" x2="1709.1" y2="822.2" stroke="#3547ae"/><line x1="1709.1" y1="822.2" x2="1712.0" y2="821.4" stroke="#3547ae"/><line x1="1712.0" y1="821.4" x2="1715.0" y2="820.6" stroke="#3547ae"/><line x1="1715.0" y1="820.6" x2="1717.9" y2="819.8" stroke="#3547ae"/><line x1="1717.9" y1="819.8" x2="1720.8" y2="819.1" stroke="#3547ae"/><line x1="1720.8" y1="819.1" x2="1723.8" y2="818.5" stroke="#3547ae"/><line x1="1723.8" y1="818.5" x2="1726.8" y2="817.9" stroke="#3547ae"/><line x1="1726.8" y1="817.9" x2="1729.7" y2="817.4" stroke="#3547ae"/><line x1="1729.7" y1="817.4" x2="1732.7" y2="816.8" stroke="#3547ae"/><line x1="1732.7" y1="816.8" x2="1735.7" y2="816.2" stroke="#3547ae"/><line x1="1735.7" y1="816.2" x2="1738.7" y2="815.6" stroke="#3547ae"/><line x1="1738.7" y1="815.6" x2="1741.6" y2="815.0" stroke="#3547ae"/><line x1="1741.6" y1="815.0" x2="1744.6" y2="814.4" stroke="#3547ae"/><line x1="1744.6" y1="814.4" x2="1747.6" y2="813.8" stroke="#f4b296"/><line x1="1747.6" y1="813.8" x2="1750.5" y2="813.2" stroke="#dcdcdd"/><line x1="1750.5" y1="813.2" x2="1753.5" y2="812.6" stroke="#3547ae"/><line x1="1753.5" y1="812.6" x2="1756.5" y2="812.0" stroke="#3547ae"/><line x1="1756.5" y1="812.0" x2="1759.4" y2="811.4" stroke="#3547ae"/><line x1="1759.4" y1="811.4" x2="1762.4" y2="810.8" stroke="#dcdcdd"/><line x1="1762.4" y1="810.8" x2="1765.4" y2="810.2" stroke="#3547ae"/><line x1="1765.4" y1="810.2" x2="1768.3" y2="809.6" stroke="#3547ae"/><line x1="1768.3" y1="809.6" x2="1771.3" y2="809.0" stroke="#3547ae"/><line x1="1771.3" y1="809.0" x2="1774.3" y2="808.5" stroke="#3547ae"/><line x1="1774.3" y1="808.5" x2="1777.3" y2="807.9" stroke="#3547ae"/><line x1="1777.3" y1="807.9" x2="1780.3" y2="807.5" stroke="#3547ae"/><line x1="1780.3" y1="807.5" x2="1783.3" y2="807.0" stroke="#f4a080"/><line x1="1783.3" y1="807.0" x2="1786.3" y2="806.5" stroke="#3547ae"/><line x1="1786.3" y1="806.5" x2="1789.3" y2="806.1" stroke="#3547ae"/><line x1="1789.3" y1="806.1" x2="1792.3" y2="805.7" stroke="#3547ae"/><line x1="1792.3" y1="805.7" x2="1795.3" y2="805.3" stroke="#3547ae"/><line x1="1795.3" y1="805.3" x2="1798.3" y2="805.0" stroke="#3547ae"/><line x1="1798.3" y1="805.0" x2="1801.3" y2="804.6" stroke="#3547ae"/><line x1="1801.3" y1="804.6" x2="1804.3" y2="804.4" stroke="#3547ae"/><line x1="1804.3" y1="804.4" x2="1807.3" y2="804.1" stroke="#3547ae"/><line x1="1807.3" y1="804.1" x2="1810.3" y2="803.8" stroke="#3547ae"/><line x1="1810.3" y1="803.8" x2="1813.3" y2="803.5" stroke="#3547ae"/><line x1="1813.3" y1="803.5" x2="1816.4" y2="803.2" stroke="#3547ae"/><line x1="1816.4" y1="803.2" x2="1819.4" y2="803.0" stroke="#3547ae"/><line x1="1819.4" y1="803.0" x2="1822.4" y2="802.7" stroke="#3547ae"/><line x1="1822.4" y1="802.7" x2="1825.4" y2="802.4" stroke="#3547ae"/></g>
<g transform="translate(2.5,1042.4)"><g clip-path="url(#tclip)"><path d="M1402.5,201.7 L1413.7,201.5 L1425.0,201.4 L1436.2,201.2 L1447.4,201.1 L1458.7,200.9 L1470.0,200.8 L1481.4,200.7 L1492.8,200.6 L1504.3,200.5 L1515.8,200.5 L1527.2,200.4 L1538.7,200.3 L1537.6,202.9 L1536.5,205.4 L1535.3,207.9 L1534.2,210.5 L1533.2,213.2 L1532.2,216.2 L1531.3,219.6 L1530.4,223.3 L1529.5,227.2 L1528.8,231.1 L1528.2,234.7 L1527.8,238.0 L1527.6,240.8 L1527.5,243.4 L1527.6,245.7 L1527.8,247.9 L1528.2,250.2 L1528.6,252.5 L1529.1,255.0 L1529.8,257.4 L1530.6,259.9 L1531.5,262.4 L1532.5,264.8 L1533.6,267.0 L1534.7,269.1 L1535.8,271.1 L1537.1,273.0 L1538.5,274.8 L1540.2,276.7 L1542.3,278.6 L1544.8,280.6 L1547.7,282.5 L1550.9,284.5 L1554.3,286.5 L1557.8,288.3 L1561.2,290.1 L1564.7,291.8 L1568.5,293.3 L1572.3,294.9 L1576.1,296.3 L1579.7,297.6 L1582.9,298.8 L1585.8,299.9 L1588.4,300.8 L1590.9,301.7 L1593.2,302.4 L1595.3,303.2 L1597.4,303.9 L1599.3,304.6 L1601.1,305.2 L1602.7,305.8 L1604.3,306.4 L1605.9,306.9 L1607.5,307.5 L1609.4,305.6 L1611.3,303.6 L1613.1,301.7 L1615.0,299.8 L1617.0,297.8 L1619.1,295.9 L1621.3,293.9 L1623.6,291.9 L1626.0,289.9 L1628.5,287.9 L1631.0,286.1 L1633.6,284.3 L1636.2,282.7 L1639.0,281.2 L1641.8,279.8 L1644.6,278.5 L1647.3,277.1 L1650.0,275.8 L1652.6,274.4 L1655.1,273.1 L1657.5,271.8 L1660.0,270.4 L1662.4,269.2 L1664.9,267.9 L1667.4,266.7 L1669.9,265.4 L1672.4,264.2 L1674.9,263.1 L1677.4,261.9 L1679.9,260.9 L1682.4,259.9 L1684.9,259.0 L1687.4,258.2 L1689.8,257.4 L1692.3,256.7 L1694.8,255.9 L1697.3,255.2 L1699.8,254.5 L1702.3,253.8 L1704.8,253.2 L1707.3,252.6 L1709.8,251.9 L1712.3,251.2 L1715.0,250.6 L1717.6,249.9 L1720.1,249.2 L1722.5,248.6 L1724.7,247.9 L1726.7,247.2 L1728.4,246.5 L1730.0,245.8 L1731.5,245.1 L1733.1,244.5 L1734.7,243.9 L1736.3,243.4 L1737.9,243.0 L1739.4,242.7 L1741.0,242.4 L1742.7,242.2 L1744.7,241.9 L1746.8,241.7 L1749.1,241.5 L1751.5,241.3 L1754.1,241.2 L1756.8,241.0 L1759.6,240.9 L1762.7,240.8 L1766.1,240.7 L1769.6,240.7 L1773.1,240.6 L1776.5,240.5 L1779.6,240.4 L1782.4,240.3 L1784.9,240.2 L1787.4,240.0 L1789.7,239.9 L1792.1,239.7 L1794.5,239.4 L1797.0,239.1 L1799.5,238.8 L1802.0,238.5 L1804.5,238.0 L1807.0,237.5 L1809.5,236.9 L1812.1,236.1 L1814.9,235.0 L1817.7,233.9 L1820.3,232.7 L1822.6,231.7 L1824.4,231.0 L1825.6,230.5 L1826.3,230.3 L1826.6,230.2 L1826.8,230.2 L1827.0,230.1 L1827.4,230.0 L1827.5,233.2 L1827.6,236.3 L1827.7,239.3 L1827.8,242.5 L1828.0,246.0 L1828.4,249.9 L1829.1,254.2 L1830.0,258.8 L1831.0,263.6 L1832.0,268.7 L1832.8,274.1 L1833.4,279.8 L1833.7,286.3 L1833.7,293.7 L1833.6,301.4 L1833.4,308.7 L1833.3,315.0 L1833.4,319.7 L1833.6,322.4 L1833.9,323.7 L1834.3,323.9 L1834.7,323.7 L1835.0,323.4 L1835.4,323.7 L1832.8,323.3 L1830.3,322.8 L1827.7,322.4 L1825.1,322.0 L1822.4,321.7 L1819.5,321.7 L1816.3,321.9 L1812.8,322.3 L1809.2,322.9 L1805.7,323.5 L1802.4,324.1 L1799.5,324.7 L1797.2,325.2 L1795.4,325.7 L1793.8,326.1 L1792.2,326.6 L1790.2,327.2 L1787.7,327.9 L1784.4,328.7 L1780.5,329.5 L1776.3,330.5 L1772.1,331.4 L1768.1,332.5 L1764.6,333.5 L1761.7,334.6 L1759.1,335.7 L1756.7,336.9 L1754.4,338.1 L1752.2,339.2 L1749.8,340.4 L1753.1,341.8 L1756.5,343.3 L1759.8,344.8 L1763.1,346.2 L1766.4,347.5 L1769.6,348.6 L1772.7,349.5 L1775.6,350.1 L1778.5,350.5 L1781.5,351.1 L1784.5,351.8 L1787.7,352.8 L1791.1,354.2 L1794.6,356.0 L1798.2,357.9 L1801.8,359.9 L1805.6,361.8 L1809.5,363.5 L1813.5,365.0 L1817.5,366.3 L1821.7,367.5 L1825.9,368.8 L1830.3,370.3 L1834.7,372.0 L1839.2,374.1 L1843.9,376.4 L1848.7,378.8 L1853.5,381.4 L1858.3,384.0 L1863.1,386.5 L1867.7,389.0 L1872.2,391.4 L1876.7,393.9 L1881.3,396.5 L1886.2,399.1 L1891.5,401.7 L1897.3,404.4 L1903.4,407.2 L1909.9,410.1 L1916.4,413.0 L1923.0,415.8 L1929.4,418.7 L1925.4,427.2 L1921.6,435.7 L1917.7,444.1 L1913.7,452.6 L1909.5,461.2 L1905.0,470.0 L1900.1,478.9 L1894.8,488.0 L1889.3,497.2 L1883.7,506.4 L1878.1,515.6 L1872.6,524.8 L1866.4,521.4 L1860.3,517.9 L1854.2,514.5 L1848.0,511.1 L1841.6,507.6 L1834.7,504.0 L1827.3,500.3 L1819.6,496.4 L1811.6,492.5 L1803.4,488.6 L1795.3,484.8 L1787.3,481.2 L1779.4,477.8 L1771.5,474.5 L1763.6,471.4 L1755.8,468.3 L1747.9,465.3 L1740.0,462.3 L1732.1,459.3 L1724.2,456.3 L1716.3,453.4 L1708.4,450.5 L1700.5,447.8 L1692.6,445.2 L1684.7,442.8 L1676.8,440.6 L1668.9,438.5 L1661.0,436.4 L1653.1,434.3 L1645.2,432.0 L1636.9,429.4 L1628.2,426.6 L1619.5,423.7 L1611.3,421.0 L1603.9,418.6 L1597.9,416.8 L1593.6,415.7 L1590.8,415.3 L1588.8,415.2 L1587.2,415.3 L1585.4,415.2 L1582.9,414.8 L1579.7,414.1 L1576.2,413.2 L1572.5,412.2 L1568.7,411.2 L1564.9,410.1 L1561.2,409.0 L1557.6,407.9 L1553.9,406.7 L1550.3,405.5 L1546.7,404.3 L1543.0,403.0 L1539.4,401.7 L1535.8,400.4 L1532.2,399.0 L1528.5,397.6 L1524.9,396.2 L1521.3,394.6 L1517.7,393.0 L1514.1,391.3 L1510.4,389.5 L1506.8,387.6 L1503.2,385.6 L1499.5,383.5 L1495.9,381.4 L1492.2,379.2 L1488.6,376.9 L1484.9,374.5 L1481.2,372.0 L1477.6,369.5 L1474.2,367.0 L1470.9,364.4 L1467.7,361.8 L1464.5,359.1 L1461.5,356.4 L1458.4,353.7 L1455.4,351.0 L1452.4,348.4 L1449.5,345.9 L1446.6,343.3 L1443.7,340.7 L1440.9,338.0 L1438.0,335.1 L1435.0,332.0 L1432.0,328.6 L1428.9,325.1 L1426.0,321.6 L1423.2,318.2 L1420.6,314.8 L1418.3,311.6 L1416.1,308.5 L1414.2,305.4 L1412.3,302.4 L1410.6,299.2 L1409.0,295.9 L1407.5,292.4 L1406.1,288.9 L1404.8,285.2 L1403.6,281.5 L1402.6,277.8 L1401.7,274.2 L1400.9,270.7 L1400.2,267.2 L1399.7,263.8 L1399.3,260.3 L1399.0,256.5 L1398.8,252.5 L1398.8,248.0 L1398.9,243.1 L1399.2,238.0 L1399.6,232.9 L1400.0,228.0 L1400.3,223.5 L1400.6,219.4 L1401.0,215.7 L1401.4,212.2 L1401.7,208.7 L1402.1,205.3Z" fill="#ecebea"/><path d="M1402.5,201.7 L1413.7,201.5 L1425.0,201.4 L1436.2,201.2 L1447.4,201.1 L1458.7,200.9 L1470.0,200.8 L1481.4,200.7 L1492.8,200.6 L1504.3,200.5 L1515.8,200.5 L1527.2,200.4 L1538.7,200.3 L1537.6,202.9 L1536.5,205.4 L1535.3,207.9 L1534.2,210.5 L1533.2,213.2 L1532.2,216.2 L1531.3,219.6 L1530.4,223.3 L1529.5,227.2 L1528.8,231.1 L1528.2,234.7 L1527.8,238.0 L1527.6,240.8 L1527.5,243.4 L1527.6,245.7 L1527.8,247.9 L1528.2,250.2 L1528.6,252.5 L1529.1,255.0 L1529.8,257.4 L1530.6,259.9 L1531.5,262.4 L1532.5,264.8 L1533.6,267.0 L1534.7,269.1 L1535.8,271.1 L1537.1,273.0 L1538.5,274.8 L1540.2,276.7 L1542.3,278.6 L1544.8,280.6 L1547.7,282.5 L1550.9,284.5 L1554.3,286.5 L1557.8,288.3 L1561.2,290.1 L1564.7,291.8 L1568.5,293.3 L1572.3,294.9 L1576.1,296.3 L1579.7,297.6 L1582.9,298.8 L1585.8,299.9 L1588.4,300.8 L1590.9,301.7 L1593.2,302.4 L1595.3,303.2 L1597.4,303.9 L1599.3,304.6 L1601.1,305.2 L1602.7,305.8 L1604.3,306.4 L1605.9,306.9 L1607.5,307.5 L1609.4,305.6 L1611.3,303.6 L1613.1,301.7 L1615.0,299.8 L1617.0,297.8 L1619.1,295.9 L1621.3,293.9 L1623.6,291.9 L1626.0,289.9 L1628.5,287.9 L1631.0,286.1 L1633.6,284.3 L1636.2,282.7 L1639.0,281.2 L1641.8,279.8 L1644.6,278.5 L1647.3,277.1 L1650.0,275.8 L1652.6,274.4 L1655.1,273.1 L1657.5,271.8 L1660.0,270.4 L1662.4,269.2 L1664.9,267.9 L1667.4,266.7 L1669.9,265.4 L1672.4,264.2 L1674.9,263.1 L1677.4,261.9 L1679.9,260.9 L1682.4,259.9 L1684.9,259.0 L1687.4,258.2 L1689.8,257.4 L1692.3,256.7 L1694.8,255.9 L1697.3,255.2 L1699.8,254.5 L1702.3,253.8 L1704.8,253.2 L1707.3,252.6 L1709.8,251.9 L1712.3,251.2 L1715.0,250.6 L1717.6,249.9 L1720.1,249.2 L1722.5,248.6 L1724.7,247.9 L1726.7,247.2 L1728.4,246.5 L1730.0,245.8 L1731.5,245.1 L1733.1,244.5 L1734.7,243.9 L1736.3,243.4 L1737.9,243.0 L1739.4,242.7 L1741.0,242.4 L1742.7,242.2 L1744.7,241.9 L1746.8,241.7 L1749.1,241.5 L1751.5,241.3 L1754.1,241.2 L1756.8,241.0 L1759.6,240.9 L1762.7,240.8 L1766.1,240.7 L1769.6,240.7 L1773.1,240.6 L1776.5,240.5 L1779.6,240.4 L1782.4,240.3 L1784.9,240.2 L1787.4,240.0 L1789.7,239.9 L1792.1,239.7 L1794.5,239.4 L1797.0,239.1 L1799.5,238.8 L1802.0,238.5 L1804.5,238.0 L1807.0,237.5 L1809.5,236.9 L1812.1,236.1 L1814.9,235.0 L1817.7,233.9 L1820.3,232.7 L1822.6,231.7 L1824.4,231.0 L1825.6,230.5 L1826.3,230.3 L1826.6,230.2 L1826.8,230.2 L1827.0,230.1 L1827.4,230.0 L1827.5,233.2 L1827.6,236.3 L1827.7,239.3 L1827.8,242.5 L1828.0,246.0 L1828.4,249.9 L1829.1,254.2 L1830.0,258.8 L1831.0,263.6 L1832.0,268.7 L1832.8,274.1 L1833.4,279.8 L1833.7,286.3 L1833.7,293.7 L1833.6,301.4 L1833.4,308.7 L1833.3,315.0 L1833.4,319.7 L1833.6,322.4 L1833.9,323.7 L1834.3,323.9 L1834.7,323.7 L1835.0,323.4 L1835.4,323.7 L1832.8,323.3 L1830.3,322.8 L1827.7,322.4 L1825.1,322.0 L1822.4,321.7 L1819.5,321.7 L1816.3,321.9 L1812.8,322.3 L1809.2,322.9 L1805.7,323.5 L1802.4,324.1 L1799.5,324.7 L1797.2,325.2 L1795.4,325.7 L1793.8,326.1 L1792.2,326.6 L1790.2,327.2 L1787.7,327.9 L1784.4,328.7 L1780.5,329.5 L1776.3,330.5 L1772.1,331.4 L1768.1,332.5 L1764.6,333.5 L1761.7,334.6 L1759.1,335.7 L1756.7,336.9 L1754.4,338.1 L1752.2,339.2 L1749.8,340.4 L1753.1,341.8 L1756.5,343.3 L1759.8,344.8 L1763.1,346.2 L1766.4,347.5 L1769.6,348.6 L1772.7,349.5 L1775.6,350.1 L1778.5,350.5 L1781.5,351.1 L1784.5,351.8 L1787.7,352.8 L1791.1,354.2 L1794.6,356.0 L1798.2,357.9 L1801.8,359.9 L1805.6,361.8 L1809.5,363.5 L1813.5,365.0 L1817.5,366.3 L1821.7,367.5 L1825.9,368.8 L1830.3,370.3 L1834.7,372.0 L1839.2,374.1 L1843.9,376.4 L1848.7,378.8 L1853.5,381.4 L1858.3,384.0 L1863.1,386.5 L1867.7,389.0 L1872.2,391.4 L1876.7,393.9 L1881.3,396.5 L1886.2,399.1 L1891.5,401.7 L1897.3,404.4 L1903.4,407.2 L1909.9,410.1 L1916.4,413.0 L1923.0,415.8 L1929.4,418.7 L1925.4,427.2 L1921.6,435.7 L1917.7,444.1 L1913.7,452.6 L1909.5,461.2 L1905.0,470.0 L1900.1,478.9 L1894.8,488.0 L1889.3,497.2 L1883.7,506.4 L1878.1,515.6 L1872.6,524.8 L1866.4,521.4 L1860.3,517.9 L1854.2,514.5 L1848.0,511.1 L1841.6,507.6 L1834.7,504.0 L1827.3,500.3 L1819.6,496.4 L1811.6,492.5 L1803.4,488.6 L1795.3,484.8 L1787.3,481.2 L1779.4,477.8 L1771.5,474.5 L1763.6,471.4 L1755.8,468.3 L1747.9,465.3 L1740.0,462.3 L1732.1,459.3 L1724.2,456.3 L1716.3,453.4 L1708.4,450.5 L1700.5,447.8 L1692.6,445.2 L1684.7,442.8 L1676.8,440.6 L1668.9,438.5 L1661.0,436.4 L1653.1,434.3 L1645.2,432.0 L1636.9,429.4 L1628.2,426.6 L1619.5,423.7 L1611.3,421.0 L1603.9,418.6 L1597.9,416.8 L1593.6,415.7 L1590.8,415.3 L1588.8,415.2 L1587.2,415.3 L1585.4,415.2 L1582.9,414.8 L1579.7,414.1 L1576.2,413.2 L1572.5,412.2 L1568.7,411.2 L1564.9,410.1 L1561.2,409.0 L1557.6,407.9 L1553.9,406.7 L1550.3,405.5 L1546.7,404.3 L1543.0,403.0 L1539.4,401.7 L1535.8,400.4 L1532.2,399.0 L1528.5,397.6 L1524.9,396.2 L1521.3,394.6 L1517.7,393.0 L1514.1,391.3 L1510.4,389.5 L1506.8,387.6 L1503.2,385.6 L1499.5,383.5 L1495.9,381.4 L1492.2,379.2 L1488.6,376.9 L1484.9,374.5 L1481.2,372.0 L1477.6,369.5 L1474.2,367.0 L1470.9,364.4 L1467.7,361.8 L1464.5,359.1 L1461.5,356.4 L1458.4,353.7 L1455.4,351.0 L1452.4,348.4 L1449.5,345.9 L1446.6,343.3 L1443.7,340.7 L1440.9,338.0 L1438.0,335.1 L1435.0,332.0 L1432.0,328.6 L1428.9,325.1 L1426.0,321.6 L1423.2,318.2 L1420.6,314.8 L1418.3,311.6 L1416.1,308.5 L1414.2,305.4 L1412.3,302.4 L1410.6,299.2 L1409.0,295.9 L1407.5,292.4 L1406.1,288.9 L1404.8,285.2 L1403.6,281.5 L1402.6,277.8 L1401.7,274.2 L1400.9,270.7 L1400.2,267.2 L1399.7,263.8 L1399.3,260.3 L1399.0,256.5 L1398.8,252.5 L1398.8,248.0 L1398.9,243.1 L1399.2,238.0 L1399.6,232.9 L1400.0,228.0 L1400.3,223.5 L1400.6,219.4 L1401.0,215.7 L1401.4,212.2 L1401.7,208.7 L1402.1,205.3Z" fill="none" stroke="#d8d8d8" stroke-width="14" filter="url(#bl)"/><path d="M1912.5,410 L1932,419 L1872.2,526 L1854.7,515.3Z" fill="url(#capg1)"/><path d="M1812,225 L1840,225 L1840,330 L1812,330Z" fill="url(#capg2)"/></g><path d="M1695.5,333.9 L1720.0,335.0 L1746.3,339.4 L1720.0,343.0 L1697.0,352.3Z" fill="#d0d0d0"/></g>
<g stroke-linecap="round"><line x1="1387.8" y1="1523.5" x2="1382.0" y2="1220.7" stroke="#353535" stroke-width="1.35"/><line x1="1437.7" y1="1523.7" x2="1433.3" y2="1220.7" stroke="#353535" stroke-width="1.35"/><line x1="1487.7" y1="1523.9" x2="1484.7" y2="1220.7" stroke="#353535" stroke-width="1.35"/><line x1="1537.8" y1="1524.1" x2="1536.1" y2="1220.7" stroke="#353535" stroke-width="1.35"/><line x1="1587.9" y1="1524.3" x2="1587.6" y2="1220.7" stroke="#353535" stroke-width="1.35"/><line x1="1638.1" y1="1524.5" x2="1639.2" y2="1220.8" stroke="#353535" stroke-width="1.35"/><line x1="1688.4" y1="1524.7" x2="1690.8" y2="1220.8" stroke="#353535" stroke-width="1.35"/><line x1="1738.7" y1="1524.9" x2="1742.5" y2="1220.8" stroke="#353535" stroke-width="1.35"/><line x1="1789.1" y1="1525.2" x2="1794.3" y2="1220.8" stroke="#353535" stroke-width="1.35"/><line x1="1839.6" y1="1525.4" x2="1846.2" y2="1220.8" stroke="#353535" stroke-width="1.35"/><line x1="1890.1" y1="1525.6" x2="1898.1" y2="1220.8" stroke="#353535" stroke-width="1.35"/><line x1="1387.8" y1="1523.5" x2="1890.1" y2="1525.6" stroke="#555" stroke-width="1.3"/><line x1="1386.9" y1="1474.1" x2="1891.4" y2="1475.9" stroke="#555" stroke-width="1.3"/><line x1="1385.9" y1="1424.3" x2="1892.7" y2="1425.8" stroke="#555" stroke-width="1.3"/><line x1="1385.0" y1="1374.1" x2="1894.1" y2="1375.3" stroke="#555" stroke-width="1.3"/><line x1="1384.0" y1="1323.4" x2="1895.4" y2="1324.2" stroke="#555" stroke-width="1.3"/><line x1="1383.0" y1="1272.3" x2="1896.7" y2="1272.8" stroke="#555" stroke-width="1.3"/><line x1="1382.0" y1="1220.7" x2="1898.1" y2="1220.8" stroke="#555" stroke-width="1.3"/><line x1="1387.8" y1="1523.5" x2="1299.7" y2="1626.6" stroke="#555" stroke-width="1.3"/><line x1="1386.9" y1="1474.1" x2="1297.9" y2="1560.1" stroke="#5c5c5c" stroke-width="1.1"/><line x1="1385.9" y1="1424.3" x2="1296.0" y2="1492.7" stroke="#5c5c5c" stroke-width="1.1"/><line x1="1385.0" y1="1374.1" x2="1294.2" y2="1424.5" stroke="#5c5c5c" stroke-width="1.1"/><line x1="1384.0" y1="1323.4" x2="1292.3" y2="1355.5" stroke="#5c5c5c" stroke-width="1.1"/><line x1="1383.0" y1="1272.3" x2="1290.4" y2="1285.7" stroke="#5c5c5c" stroke-width="1.1"/><line x1="1382.0" y1="1220.7" x2="1288.5" y2="1214.9" stroke="#5c5c5c" stroke-width="1.1"/><line x1="1365.9" y1="1549.1" x2="1358.9" y2="1219.3" stroke="#353535" stroke-width="1.35"/><line x1="1332.9" y1="1587.7" x2="1324.0" y2="1217.1" stroke="#353535" stroke-width="1.35"/><line x1="1299.7" y1="1626.6" x2="1288.5" y2="1214.9" stroke="#353535" stroke-width="1.35"/><line x1="1890.1" y1="1525.6" x2="1983.1" y2="1630.4" stroke="#555" stroke-width="1.3"/><line x1="1890.8" y1="1500.8" x2="1984.3" y2="1597.0" stroke="#5c5c5c" stroke-width="1.1"/><line x1="1891.4" y1="1475.9" x2="1985.5" y2="1563.3" stroke="#5c5c5c" stroke-width="1.1"/><line x1="1892.1" y1="1450.9" x2="1986.7" y2="1529.4" stroke="#5c5c5c" stroke-width="1.1"/><line x1="1892.7" y1="1425.8" x2="1987.8" y2="1495.4" stroke="#5c5c5c" stroke-width="1.1"/><line x1="1893.4" y1="1400.6" x2="1989.0" y2="1461.1" stroke="#5c5c5c" stroke-width="1.1"/><line x1="1894.1" y1="1375.3" x2="1990.2" y2="1426.6" stroke="#5c5c5c" stroke-width="1.1"/><line x1="1894.7" y1="1349.8" x2="1991.4" y2="1391.9" stroke="#5c5c5c" stroke-width="1.1"/><line x1="1895.4" y1="1324.2" x2="1992.7" y2="1356.9" stroke="#5c5c5c" stroke-width="1.1"/><line x1="1896.1" y1="1298.6" x2="1993.9" y2="1321.8" stroke="#5c5c5c" stroke-width="1.1"/><line x1="1896.7" y1="1272.8" x2="1995.1" y2="1286.4" stroke="#5c5c5c" stroke-width="1.1"/><line x1="1897.4" y1="1246.8" x2="1996.3" y2="1250.9" stroke="#5c5c5c" stroke-width="1.1"/><line x1="1898.1" y1="1220.8" x2="1997.6" y2="1215.0" stroke="#5c5c5c" stroke-width="1.1"/><line x1="1913.2" y1="1551.6" x2="1922.6" y2="1219.4" stroke="#353535" stroke-width="1.35"/><line x1="1948.0" y1="1590.8" x2="1959.8" y2="1217.2" stroke="#353535" stroke-width="1.35"/><line x1="1983.1" y1="1630.4" x2="1997.6" y2="1215.0" stroke="#353535" stroke-width="1.35"/><line x1="1437.7" y1="1523.7" x2="1367.5" y2="1627.0" stroke="#5c5c5c" stroke-width="1.1"/><line x1="1487.7" y1="1523.9" x2="1435.4" y2="1627.4" stroke="#5c5c5c" stroke-width="1.1"/><line x1="1537.8" y1="1524.1" x2="1503.4" y2="1627.7" stroke="#5c5c5c" stroke-width="1.1"/><line x1="1587.9" y1="1524.3" x2="1571.6" y2="1628.1" stroke="#5c5c5c" stroke-width="1.1"/><line x1="1638.1" y1="1524.5" x2="1639.9" y2="1628.5" stroke="#5c5c5c" stroke-width="1.1"/><line x1="1688.4" y1="1524.7" x2="1708.3" y2="1628.9" stroke="#5c5c5c" stroke-width="1.1"/><line x1="1738.7" y1="1524.9" x2="1776.8" y2="1629.3" stroke="#5c5c5c" stroke-width="1.1"/><line x1="1789.1" y1="1525.2" x2="1845.5" y2="1629.6" stroke="#5c5c5c" stroke-width="1.1"/><line x1="1839.6" y1="1525.4" x2="1914.2" y2="1630.0" stroke="#5c5c5c" stroke-width="1.1"/><line x1="1365.9" y1="1549.1" x2="1913.2" y2="1551.6" stroke="#555" stroke-width="1.3"/><line x1="1332.9" y1="1587.7" x2="1948.0" y2="1590.8" stroke="#555" stroke-width="1.3"/><line x1="1299.7" y1="1626.6" x2="1983.1" y2="1630.4" stroke="#555" stroke-width="1.3"/></g><ellipse cx="1535.5" cy="1524.6" rx="13.0" ry="1.6" fill="#222"/><ellipse cx="1730.5" cy="1525.3" rx="13.0" ry="1.6" fill="#222"/>
<g stroke-width="3.5" stroke-linecap="round"><line x1="1469.5" y1="1246.3" x2="1469.1" y2="1249.3" stroke="#3547ae"/><line x1="1469.1" y1="1249.3" x2="1468.8" y2="1252.3" stroke="#3547ae"/><line x1="1468.8" y1="1252.3" x2="1468.4" y2="1255.3" stroke="#3547ae"/><line x1="1468.4" y1="1255.3" x2="1468.0" y2="1258.3" stroke="#3547ae"/><line x1="1468.0" y1="1258.3" x2="1467.6" y2="1261.2" stroke="#3547ae"/><line x1="1467.6" y1="1261.2" x2="1467.1" y2="1264.2" stroke="#3547ae"/><line x1="1467.1" y1="1264.2" x2="1466.7" y2="1267.2" stroke="#3547ae"/><line x1="1466.7" y1="1267.2" x2="1466.2" y2="1270.2" stroke="#93b4fe"/><line x1="1466.2" y1="1270.2" x2="1465.8" y2="1273.2" stroke="#3547ae"/><line x1="1465.8" y1="1273.2" x2="1465.4" y2="1276.1" stroke="#3547ae"/><line x1="1465.4" y1="1276.1" x2="1465.0" y2="1279.1" stroke="#3547ae"/><line x1="1465.0" y1="1279.1" x2="1464.7" y2="1282.1" stroke="#3547ae"/><line x1="1464.7" y1="1282.1" x2="1464.5" y2="1285.1" stroke="#3547ae"/><line x1="1464.5" y1="1285.1" x2="1464.4" y2="1288.1" stroke="#3547ae"/><line x1="1464.4" y1="1288.1" x2="1464.5" y2="1291.1" stroke="#3547ae"/><line x1="1464.5" y1="1291.1" x2="1464.6" y2="1294.2" stroke="#3547ae"/><line x1="1464.6" y1="1294.2" x2="1464.9" y2="1297.2" stroke="#3547ae"/><line x1="1464.9" y1="1297.2" x2="1465.4" y2="1300.1" stroke="#3547ae"/><line x1="1465.4" y1="1300.1" x2="1466.0" y2="1303.1" stroke="#3547ae"/><line x1="1466.0" y1="1303.1" x2="1466.8" y2="1306.0" stroke="#3547ae"/><line x1="1466.8" y1="1306.0" x2="1467.7" y2="1308.9" stroke="#93b4fe"/><line x1="1467.7" y1="1308.9" x2="1468.8" y2="1311.7" stroke="#3547ae"/><line x1="1468.8" y1="1311.7" x2="1469.9" y2="1314.5" stroke="#3547ae"/><line x1="1469.9" y1="1314.5" x2="1471.2" y2="1317.2" stroke="#3547ae"/><line x1="1471.2" y1="1317.2" x2="1472.4" y2="1319.9" stroke="#3547ae"/><line x1="1472.4" y1="1319.9" x2="1473.7" y2="1322.7" stroke="#3547ae"/><line x1="1473.7" y1="1322.7" x2="1475.1" y2="1325.3" stroke="#3547ae"/><line x1="1475.1" y1="1325.3" x2="1476.5" y2="1328.0" stroke="#3547ae"/><line x1="1476.5" y1="1328.0" x2="1478.0" y2="1330.6" stroke="#3547ae"/><line x1="1478.0" y1="1330.6" x2="1479.6" y2="1333.2" stroke="#3547ae"/><line x1="1479.6" y1="1333.2" x2="1481.3" y2="1335.7" stroke="#3547ae"/><line x1="1481.3" y1="1335.7" x2="1483.2" y2="1338.0" stroke="#3547ae"/><line x1="1483.2" y1="1338.0" x2="1485.2" y2="1340.3" stroke="#3547ae"/><line x1="1485.2" y1="1340.3" x2="1487.3" y2="1342.4" stroke="#3547ae"/><line x1="1487.3" y1="1342.4" x2="1489.4" y2="1344.5" stroke="#3547ae"/><line x1="1489.4" y1="1344.5" x2="1491.7" y2="1346.5" stroke="#3547ae"/><line x1="1491.7" y1="1346.5" x2="1493.9" y2="1348.5" stroke="#3547ae"/><line x1="1493.9" y1="1348.5" x2="1496.2" y2="1350.5" stroke="#3547ae"/><line x1="1496.2" y1="1350.5" x2="1498.5" y2="1352.4" stroke="#3547ae"/><line x1="1498.5" y1="1352.4" x2="1500.9" y2="1354.3" stroke="#3547ae"/><line x1="1500.9" y1="1354.3" x2="1503.2" y2="1356.2" stroke="#3547ae"/><line x1="1503.2" y1="1356.2" x2="1505.7" y2="1358.0" stroke="#3547ae"/><line x1="1505.7" y1="1358.0" x2="1508.1" y2="1359.7" stroke="#3547ae"/><line x1="1508.1" y1="1359.7" x2="1510.6" y2="1361.4" stroke="#3547ae"/><line x1="1510.6" y1="1361.4" x2="1513.1" y2="1363.1" stroke="#3547ae"/><line x1="1513.1" y1="1363.1" x2="1515.6" y2="1364.8" stroke="#3547ae"/><line x1="1515.6" y1="1364.8" x2="1518.1" y2="1366.4" stroke="#3547ae"/><line x1="1518.1" y1="1366.4" x2="1520.7" y2="1368.0" stroke="#3547ae"/><line x1="1520.7" y1="1368.0" x2="1523.3" y2="1369.5" stroke="#3547ae"/><line x1="1523.3" y1="1369.5" x2="1525.9" y2="1371.1" stroke="#3547ae"/><line x1="1525.9" y1="1371.1" x2="1528.5" y2="1372.6" stroke="#3547ae"/><line x1="1528.5" y1="1372.6" x2="1531.1" y2="1374.0" stroke="#3547ae"/><line x1="1531.1" y1="1374.0" x2="1533.8" y2="1375.5" stroke="#3547ae"/><line x1="1533.8" y1="1375.5" x2="1536.4" y2="1376.9" stroke="#3547ae"/><line x1="1536.4" y1="1376.9" x2="1539.1" y2="1378.3" stroke="#3547ae"/><line x1="1539.1" y1="1378.3" x2="1541.8" y2="1379.6" stroke="#3547ae"/><line x1="1541.8" y1="1379.6" x2="1544.5" y2="1381.0" stroke="#3547ae"/><line x1="1544.5" y1="1381.0" x2="1547.2" y2="1382.2" stroke="#3547ae"/><line x1="1547.2" y1="1382.2" x2="1550.0" y2="1383.5" stroke="#3547ae"/><line x1="1550.0" y1="1383.5" x2="1552.7" y2="1384.7" stroke="#3547ae"/><line x1="1552.7" y1="1384.7" x2="1555.5" y2="1385.8" stroke="#3547ae"/><line x1="1555.5" y1="1385.8" x2="1558.3" y2="1386.9" stroke="#3547ae"/><line x1="1558.3" y1="1386.9" x2="1561.1" y2="1388.0" stroke="#3547ae"/><line x1="1561.1" y1="1388.0" x2="1564.0" y2="1388.9" stroke="#3547ae"/><line x1="1564.0" y1="1388.9" x2="1566.9" y2="1389.9" stroke="#3547ae"/><line x1="1566.9" y1="1389.9" x2="1569.7" y2="1390.8" stroke="#3547ae"/><line x1="1569.7" y1="1390.8" x2="1572.6" y2="1391.7" stroke="#3547ae"/><line x1="1572.6" y1="1391.7" x2="1575.5" y2="1392.6" stroke="#3547ae"/><line x1="1575.5" y1="1392.6" x2="1578.4" y2="1393.5" stroke="#3547ae"/><line x1="1578.4" y1="1393.5" x2="1581.2" y2="1394.3" stroke="#3547ae"/><line x1="1581.2" y1="1394.3" x2="1584.1" y2="1395.2" stroke="#3547ae"/><line x1="1584.1" y1="1395.2" x2="1587.0" y2="1396.0" stroke="#3547ae"/><line x1="1587.0" y1="1396.0" x2="1589.9" y2="1396.9" stroke="#3547ae"/><line x1="1589.9" y1="1396.9" x2="1592.8" y2="1397.9" stroke="#3547ae"/><line x1="1592.8" y1="1397.9" x2="1595.4" y2="1399.3" stroke="#3547ae"/><line x1="1595.4" y1="1399.3" x2="1597.8" y2="1401.1" stroke="#3547ae"/><line x1="1597.8" y1="1401.1" x2="1600.5" y2="1402.4" stroke="#3547ae"/><line x1="1600.5" y1="1402.4" x2="1603.3" y2="1403.6" stroke="#3547ae"/><line x1="1603.3" y1="1403.6" x2="1606.1" y2="1404.8" stroke="#3547ae"/><line x1="1606.1" y1="1404.8" x2="1608.8" y2="1405.9" stroke="#3547ae"/><line x1="1608.8" y1="1405.9" x2="1611.6" y2="1407.1" stroke="#3547ae"/><line x1="1611.6" y1="1407.1" x2="1614.4" y2="1408.2" stroke="#3547ae"/><line x1="1614.4" y1="1408.2" x2="1617.3" y2="1409.3" stroke="#3547ae"/><line x1="1617.3" y1="1409.3" x2="1620.1" y2="1410.3" stroke="#3547ae"/><line x1="1620.1" y1="1410.3" x2="1622.9" y2="1411.2" stroke="#3547ae"/><line x1="1622.9" y1="1411.2" x2="1625.8" y2="1412.1" stroke="#3547ae"/><line x1="1625.8" y1="1412.1" x2="1628.7" y2="1412.9" stroke="#3547ae"/><line x1="1628.7" y1="1412.9" x2="1631.7" y2="1413.7" stroke="#3547ae"/><line x1="1631.7" y1="1413.7" x2="1634.6" y2="1414.4" stroke="#3547ae"/><line x1="1634.6" y1="1414.4" x2="1637.5" y2="1415.1" stroke="#3547ae"/><line x1="1637.5" y1="1415.1" x2="1640.4" y2="1415.8" stroke="#3547ae"/><line x1="1640.4" y1="1415.8" x2="1643.3" y2="1416.6" stroke="#3547ae"/><line x1="1643.3" y1="1416.6" x2="1646.2" y2="1417.4" stroke="#3547ae"/><line x1="1646.2" y1="1417.4" x2="1649.2" y2="1418.2" stroke="#3547ae"/><line x1="1649.2" y1="1418.2" x2="1652.1" y2="1419.0" stroke="#3547ae"/><line x1="1652.1" y1="1419.0" x2="1655.0" y2="1419.8" stroke="#3547ae"/><line x1="1655.0" y1="1419.8" x2="1657.9" y2="1420.6" stroke="#3547ae"/><line x1="1657.9" y1="1420.6" x2="1660.8" y2="1421.4" stroke="#3547ae"/><line x1="1660.8" y1="1421.4" x2="1663.7" y2="1422.2" stroke="#3547ae"/><line x1="1663.7" y1="1422.2" x2="1666.5" y2="1423.1" stroke="#3547ae"/><line x1="1666.5" y1="1423.1" x2="1669.4" y2="1424.0" stroke="#3547ae"/><line x1="1669.4" y1="1424.0" x2="1672.3" y2="1424.9" stroke="#3547ae"/><line x1="1672.3" y1="1424.9" x2="1675.2" y2="1425.8" stroke="#93b4fe"/><line x1="1675.2" y1="1425.8" x2="1678.0" y2="1426.7" stroke="#3547ae"/><line x1="1678.0" y1="1426.7" x2="1680.9" y2="1427.5" stroke="#3547ae"/><line x1="1680.9" y1="1427.5" x2="1683.8" y2="1428.4" stroke="#3547ae"/><line x1="1683.8" y1="1428.4" x2="1686.7" y2="1429.2" stroke="#3547ae"/><line x1="1686.7" y1="1429.2" x2="1689.6" y2="1430.0" stroke="#3547ae"/><line x1="1689.6" y1="1430.0" x2="1692.5" y2="1430.8" stroke="#3547ae"/><line x1="1692.5" y1="1430.8" x2="1695.4" y2="1431.6" stroke="#3547ae"/><line x1="1695.4" y1="1431.6" x2="1698.3" y2="1432.4" stroke="#3547ae"/><line x1="1698.3" y1="1432.4" x2="1701.3" y2="1433.2" stroke="#3547ae"/><line x1="1701.3" y1="1433.2" x2="1704.2" y2="1434.0" stroke="#3547ae"/><line x1="1704.2" y1="1434.0" x2="1707.1" y2="1434.7" stroke="#3547ae"/><line x1="1707.1" y1="1434.7" x2="1710.0" y2="1435.5" stroke="#3547ae"/><line x1="1710.0" y1="1435.5" x2="1712.9" y2="1436.3" stroke="#3547ae"/><line x1="1712.9" y1="1436.3" x2="1715.8" y2="1437.1" stroke="#3547ae"/><line x1="1715.8" y1="1437.1" x2="1718.7" y2="1437.9" stroke="#3547ae"/><line x1="1718.7" y1="1437.9" x2="1721.6" y2="1438.8" stroke="#3547ae"/><line x1="1721.6" y1="1438.8" x2="1724.5" y2="1439.6" stroke="#3547ae"/><line x1="1724.5" y1="1439.6" x2="1727.4" y2="1440.5" stroke="#3547ae"/><line x1="1727.4" y1="1440.5" x2="1730.2" y2="1441.3" stroke="#3547ae"/><line x1="1730.2" y1="1441.3" x2="1733.1" y2="1442.2" stroke="#3547ae"/><line x1="1733.1" y1="1442.2" x2="1736.0" y2="1443.2" stroke="#93b4fe"/><line x1="1736.0" y1="1443.2" x2="1738.8" y2="1444.1" stroke="#3547ae"/><line x1="1738.8" y1="1444.1" x2="1741.7" y2="1445.1" stroke="#3547ae"/><line x1="1741.7" y1="1445.1" x2="1744.5" y2="1446.0" stroke="#3547ae"/><line x1="1744.5" y1="1446.0" x2="1747.4" y2="1447.0" stroke="#3547ae"/><line x1="1747.4" y1="1447.0" x2="1750.2" y2="1448.0" stroke="#3547ae"/><line x1="1750.2" y1="1448.0" x2="1753.1" y2="1449.1" stroke="#3547ae"/><line x1="1753.1" y1="1449.1" x2="1755.9" y2="1450.1" stroke="#3547ae"/><line x1="1755.9" y1="1450.1" x2="1758.7" y2="1451.1" stroke="#3547ae"/><line x1="1758.7" y1="1451.1" x2="1761.6" y2="1452.1" stroke="#3547ae"/><line x1="1761.6" y1="1452.1" x2="1764.4" y2="1453.2" stroke="#3547ae"/><line x1="1764.4" y1="1453.2" x2="1767.2" y2="1454.3" stroke="#3547ae"/><line x1="1767.2" y1="1454.3" x2="1770.0" y2="1455.3" stroke="#3547ae"/><line x1="1770.0" y1="1455.3" x2="1772.8" y2="1456.4" stroke="#3547ae"/><line x1="1772.8" y1="1456.4" x2="1775.7" y2="1457.4" stroke="#3547ae"/><line x1="1775.7" y1="1457.4" x2="1778.5" y2="1458.5" stroke="#3547ae"/><line x1="1778.5" y1="1458.5" x2="1781.3" y2="1459.6" stroke="#3547ae"/><line x1="1781.3" y1="1459.6" x2="1784.1" y2="1460.7" stroke="#3547ae"/><line x1="1784.1" y1="1460.7" x2="1786.9" y2="1461.7" stroke="#3547ae"/><line x1="1786.9" y1="1461.7" x2="1789.7" y2="1462.8" stroke="#3547ae"/><line x1="1789.7" y1="1462.8" x2="1792.6" y2="1463.9" stroke="#3547ae"/><line x1="1792.6" y1="1463.9" x2="1795.4" y2="1465.0" stroke="#3547ae"/><line x1="1795.4" y1="1465.0" x2="1798.2" y2="1466.1" stroke="#3547ae"/><line x1="1798.2" y1="1466.1" x2="1801.0" y2="1467.2" stroke="#3547ae"/><line x1="1801.0" y1="1467.2" x2="1803.8" y2="1468.3" stroke="#3547ae"/><line x1="1803.8" y1="1468.3" x2="1806.6" y2="1469.4" stroke="#3547ae"/><line x1="1806.6" y1="1469.4" x2="1809.4" y2="1470.5" stroke="#3547ae"/><line x1="1809.4" y1="1470.5" x2="1812.2" y2="1471.6" stroke="#3547ae"/><line x1="1812.2" y1="1471.6" x2="1814.9" y2="1472.8" stroke="#3547ae"/><line x1="1814.9" y1="1472.8" x2="1817.7" y2="1473.9" stroke="#3547ae"/><line x1="1817.7" y1="1473.9" x2="1820.5" y2="1475.1" stroke="#3547ae"/><line x1="1820.5" y1="1475.1" x2="1823.3" y2="1476.3" stroke="#3547ae"/><line x1="1823.3" y1="1476.3" x2="1826.0" y2="1477.5" stroke="#3547ae"/><line x1="1826.0" y1="1477.5" x2="1828.8" y2="1478.7" stroke="#3547ae"/><line x1="1828.8" y1="1478.7" x2="1831.5" y2="1479.9" stroke="#3547ae"/><line x1="1831.5" y1="1479.9" x2="1834.3" y2="1481.2" stroke="#3547ae"/><line x1="1834.3" y1="1481.2" x2="1837.0" y2="1482.4" stroke="#3547ae"/><line x1="1837.0" y1="1482.4" x2="1839.8" y2="1483.7" stroke="#3547ae"/><line x1="1839.8" y1="1483.7" x2="1842.5" y2="1485.0" stroke="#3547ae"/><line x1="1842.5" y1="1485.0" x2="1845.2" y2="1486.3" stroke="#3547ae"/><line x1="1845.2" y1="1486.3" x2="1847.9" y2="1487.6" stroke="#3547ae"/><line x1="1847.9" y1="1487.6" x2="1850.6" y2="1488.9" stroke="#3547ae"/><line x1="1850.6" y1="1488.9" x2="1853.3" y2="1490.2" stroke="#3547ae"/><line x1="1853.3" y1="1490.2" x2="1856.0" y2="1491.5" stroke="#93b4fe"/><line x1="1856.0" y1="1491.5" x2="1858.7" y2="1492.9" stroke="#3547ae"/><line x1="1858.7" y1="1492.9" x2="1861.5" y2="1494.2" stroke="#3547ae"/><line x1="1861.5" y1="1494.2" x2="1864.2" y2="1495.5" stroke="#3547ae"/><line x1="1864.2" y1="1495.5" x2="1866.9" y2="1496.9" stroke="#3547ae"/><line x1="1866.9" y1="1496.9" x2="1869.6" y2="1498.2" stroke="#3547ae"/><line x1="1869.6" y1="1498.2" x2="1872.3" y2="1499.5" stroke="#3547ae"/><line x1="1872.3" y1="1499.5" x2="1875.0" y2="1500.8" stroke="#3547ae"/><line x1="1875.0" y1="1500.8" x2="1877.7" y2="1502.2" stroke="#3547ae"/><line x1="1877.7" y1="1502.2" x2="1880.4" y2="1503.5" stroke="#3547ae"/><line x1="1880.4" y1="1503.5" x2="1883.1" y2="1504.8" stroke="#3547ae"/><line x1="1883.1" y1="1504.8" x2="1885.8" y2="1506.2" stroke="#3547ae"/><line x1="1885.8" y1="1506.2" x2="1888.5" y2="1507.5" stroke="#3547ae"/><line x1="1888.5" y1="1507.5" x2="1891.2" y2="1508.9" stroke="#3547ae"/><line x1="1891.2" y1="1508.9" x2="1893.9" y2="1510.2" stroke="#3547ae"/><line x1="1893.9" y1="1510.2" x2="1896.5" y2="1511.6" stroke="#3547ae"/><line x1="1896.5" y1="1511.6" x2="1899.2" y2="1512.9" stroke="#3547ae"/><line x1="1899.2" y1="1512.9" x2="1901.9" y2="1514.3" stroke="#3547ae"/><line x1="1901.9" y1="1514.3" x2="1904.6" y2="1515.6" stroke="#3547ae"/><line x1="1904.6" y1="1515.6" x2="1907.3" y2="1517.0" stroke="#3547ae"/></g>
<g stroke-width="3.5" stroke-linecap="round"><line x1="1592.6" y1="1397.8" x2="1595.6" y2="1398.1" stroke="#3547ae"/><line x1="1595.6" y1="1398.1" x2="1598.6" y2="1398.4" stroke="#3547ae"/><line x1="1598.6" y1="1398.4" x2="1601.6" y2="1398.6" stroke="#3547ae"/><line x1="1601.6" y1="1398.6" x2="1604.7" y2="1398.9" stroke="#3547ae"/><line x1="1604.7" y1="1398.9" x2="1607.7" y2="1399.1" stroke="#3547ae"/><line x1="1607.7" y1="1399.1" x2="1610.7" y2="1399.3" stroke="#3547ae"/><line x1="1610.7" y1="1399.3" x2="1613.7" y2="1399.2" stroke="#3547ae"/><line x1="1613.7" y1="1399.2" x2="1616.7" y2="1398.9" stroke="#3547ae"/><line x1="1616.7" y1="1398.9" x2="1619.7" y2="1398.4" stroke="#3547ae"/><line x1="1619.7" y1="1398.4" x2="1622.6" y2="1397.6" stroke="#3547ae"/><line x1="1622.6" y1="1397.6" x2="1625.5" y2="1396.5" stroke="#3547ae"/><line x1="1625.5" y1="1396.5" x2="1628.2" y2="1395.1" stroke="#3547ae"/><line x1="1628.2" y1="1395.1" x2="1630.7" y2="1393.4" stroke="#3547ae"/><line x1="1630.7" y1="1393.4" x2="1633.1" y2="1391.6" stroke="#3547ae"/><line x1="1633.1" y1="1391.6" x2="1635.4" y2="1389.7" stroke="#3547ae"/><line x1="1635.4" y1="1389.7" x2="1637.7" y2="1387.7" stroke="#3547ae"/><line x1="1637.7" y1="1387.7" x2="1640.0" y2="1385.7" stroke="#3547ae"/><line x1="1640.0" y1="1385.7" x2="1642.3" y2="1383.7" stroke="#3547ae"/><line x1="1642.3" y1="1383.7" x2="1644.5" y2="1381.7" stroke="#3547ae"/><line x1="1644.5" y1="1381.7" x2="1646.8" y2="1379.7" stroke="#f5c4ad"/><line x1="1646.8" y1="1379.7" x2="1649.2" y2="1377.9" stroke="#3547ae"/><line x1="1649.2" y1="1377.9" x2="1651.9" y2="1376.6" stroke="#b40426"/><line x1="1651.9" y1="1376.6" x2="1654.2" y2="1374.6" stroke="#b40426"/><line x1="1654.2" y1="1374.6" x2="1656.3" y2="1372.5" stroke="#b40426"/><line x1="1656.3" y1="1372.5" x2="1658.5" y2="1370.3" stroke="#3547ae"/><line x1="1658.5" y1="1370.3" x2="1660.7" y2="1368.2" stroke="#3547ae"/><line x1="1660.7" y1="1368.2" x2="1662.9" y2="1366.1" stroke="#3547ae"/><line x1="1662.9" y1="1366.1" x2="1665.1" y2="1364.1" stroke="#3547ae"/><line x1="1665.1" y1="1364.1" x2="1667.4" y2="1362.1" stroke="#3547ae"/><line x1="1667.4" y1="1362.1" x2="1669.8" y2="1360.3" stroke="#93b4fe"/><line x1="1669.8" y1="1360.3" x2="1672.2" y2="1358.5" stroke="#3547ae"/><line x1="1672.2" y1="1358.5" x2="1674.7" y2="1356.8" stroke="#3547ae"/><line x1="1674.7" y1="1356.8" x2="1677.3" y2="1355.1" stroke="#3547ae"/><line x1="1677.3" y1="1355.1" x2="1679.9" y2="1353.6" stroke="#3547ae"/><line x1="1679.9" y1="1353.6" x2="1682.5" y2="1352.0" stroke="#3547ae"/><line x1="1682.5" y1="1352.0" x2="1685.2" y2="1350.6" stroke="#3547ae"/><line x1="1685.2" y1="1350.6" x2="1687.9" y2="1349.2" stroke="#3547ae"/><line x1="1687.9" y1="1349.2" x2="1690.6" y2="1347.9" stroke="#3547ae"/><line x1="1690.6" y1="1347.9" x2="1693.4" y2="1346.7" stroke="#3547ae"/><line x1="1693.4" y1="1346.7" x2="1696.2" y2="1345.6" stroke="#3547ae"/><line x1="1696.2" y1="1345.6" x2="1699.0" y2="1344.6" stroke="#3547ae"/><line x1="1699.0" y1="1344.6" x2="1701.9" y2="1343.8" stroke="#3547ae"/><line x1="1701.9" y1="1343.8" x2="1704.9" y2="1343.0" stroke="#3547ae"/><line x1="1704.9" y1="1343.0" x2="1707.8" y2="1342.3" stroke="#3547ae"/><line x1="1707.8" y1="1342.3" x2="1710.8" y2="1341.6" stroke="#3547ae"/><line x1="1710.8" y1="1341.6" x2="1713.7" y2="1340.8" stroke="#93b4fe"/><line x1="1713.7" y1="1340.8" x2="1716.6" y2="1340.0" stroke="#3547ae"/><line x1="1716.6" y1="1340.0" x2="1719.5" y2="1339.2" stroke="#3547ae"/><line x1="1719.5" y1="1339.2" x2="1722.5" y2="1338.4" stroke="#3547ae"/><line x1="1722.5" y1="1338.4" x2="1725.4" y2="1337.6" stroke="#3547ae"/><line x1="1725.4" y1="1337.6" x2="1728.3" y2="1336.9" stroke="#f5c4ad"/><line x1="1728.3" y1="1336.9" x2="1731.3" y2="1336.3" stroke="#f5c4ad"/><line x1="1731.3" y1="1336.3" x2="1734.3" y2="1335.7" stroke="#3547ae"/><line x1="1734.3" y1="1335.7" x2="1737.2" y2="1335.2" stroke="#3547ae"/><line x1="1737.2" y1="1335.2" x2="1740.2" y2="1334.6" stroke="#3547ae"/><line x1="1740.2" y1="1334.6" x2="1743.2" y2="1334.0" stroke="#3547ae"/><line x1="1743.2" y1="1334.0" x2="1746.2" y2="1333.4" stroke="#93b4fe"/><line x1="1746.2" y1="1333.4" x2="1749.1" y2="1332.8" stroke="#3547ae"/><line x1="1749.1" y1="1332.8" x2="1752.1" y2="1332.2" stroke="#3547ae"/><line x1="1752.1" y1="1332.2" x2="1755.1" y2="1331.6" stroke="#3547ae"/><line x1="1755.1" y1="1331.6" x2="1758.0" y2="1331.0" stroke="#3547ae"/><line x1="1758.0" y1="1331.0" x2="1761.0" y2="1330.4" stroke="#3547ae"/><line x1="1761.0" y1="1330.4" x2="1764.0" y2="1329.8" stroke="#3547ae"/><line x1="1764.0" y1="1329.8" x2="1766.9" y2="1329.2" stroke="#3547ae"/><line x1="1766.9" y1="1329.2" x2="1769.9" y2="1328.6" stroke="#3547ae"/><line x1="1769.9" y1="1328.6" x2="1772.9" y2="1328.0" stroke="#3547ae"/><line x1="1772.9" y1="1328.0" x2="1775.8" y2="1327.4" stroke="#3547ae"/><line x1="1775.8" y1="1327.4" x2="1778.8" y2="1326.8" stroke="#3547ae"/><line x1="1778.8" y1="1326.8" x2="1781.8" y2="1326.3" stroke="#3547ae"/><line x1="1781.8" y1="1326.3" x2="1784.8" y2="1325.7" stroke="#3547ae"/><line x1="1784.8" y1="1325.7" x2="1787.8" y2="1325.3" stroke="#3547ae"/><line x1="1787.8" y1="1325.3" x2="1790.8" y2="1324.8" stroke="#3547ae"/><line x1="1790.8" y1="1324.8" x2="1793.8" y2="1324.3" stroke="#93b4fe"/><line x1="1793.8" y1="1324.3" x2="1796.8" y2="1323.9" stroke="#3547ae"/><line x1="1796.8" y1="1323.9" x2="1799.8" y2="1323.5" stroke="#3547ae"/><line x1="1799.8" y1="1323.5" x2="1802.8" y2="1323.1" stroke="#3547ae"/><line x1="1802.8" y1="1323.1" x2="1805.8" y2="1322.8" stroke="#3547ae"/><line x1="1805.8" y1="1322.8" x2="1808.8" y2="1322.4" stroke="#3547ae"/><line x1="1808.8" y1="1322.4" x2="1811.8" y2="1322.2" stroke="#3547ae"/><line x1="1811.8" y1="1322.2" x2="1814.8" y2="1321.9" stroke="#3547ae"/><line x1="1814.8" y1="1321.9" x2="1817.8" y2="1321.6" stroke="#3547ae"/><line x1="1817.8" y1="1321.6" x2="1820.8" y2="1321.3" stroke="#3547ae"/><line x1="1820.8" y1="1321.3" x2="1823.9" y2="1321.0" stroke="#3547ae"/><line x1="1823.9" y1="1321.0" x2="1826.9" y2="1320.8" stroke="#3547ae"/><line x1="1826.9" y1="1320.8" x2="1829.9" y2="1320.5" stroke="#3547ae"/><line x1="1829.9" y1="1320.5" x2="1832.9" y2="1320.2" stroke="#3547ae"/></g>
<rect x="1475.0" y="134.2" width="313.2" height="13.3" fill="url(#cbh)"/><line x1="1475.0" y1="126.2" x2="1475.0" y2="138.2" stroke="#333" stroke-width="1.1"/><text x="1468.2" y="118.3" font-size="18.6" fill="#333" font-family="Liberation Sans, Arial, sans-serif" text-anchor="middle" >0.0</text><line x1="1536.3" y1="126.2" x2="1536.3" y2="138.2" stroke="#333" stroke-width="1.1"/><text x="1537.5" y="118.3" font-size="18.6" fill="#333" font-family="Liberation Sans, Arial, sans-serif" text-anchor="middle" >0.2</text><line x1="1600.1" y1="126.2" x2="1600.1" y2="138.2" stroke="#333" stroke-width="1.1"/><text x="1600.0" y="118.3" font-size="18.6" fill="#333" font-family="Liberation Sans, Arial, sans-serif" text-anchor="middle" >0.4</text><line x1="1662.8" y1="126.2" x2="1662.8" y2="138.2" stroke="#333" stroke-width="1.1"/><text x="1662.6" y="118.3" font-size="18.6" fill="#333" font-family="Liberation Sans, Arial, sans-serif" text-anchor="middle" >0.6</text><line x1="1725.5" y1="126.2" x2="1725.5" y2="138.2" stroke="#333" stroke-width="1.1"/><text x="1725.3" y="118.3" font-size="18.6" fill="#333" font-family="Liberation Sans, Arial, sans-serif" text-anchor="middle" >0.8</text><line x1="1788.2" y1="126.2" x2="1788.2" y2="138.2" stroke="#333" stroke-width="1.1"/><text x="1779.9" y="118.3" font-size="18.6" fill="#333" font-family="Liberation Sans, Arial, sans-serif" text-anchor="middle" >1.0</text><text x="1528.0" y="95.8" font-size="20.5" fill="#222" font-family="Liberation Sans, Arial, sans-serif" textLength="195.7" lengthAdjust="spacingAndGlyphs" >Absolute Curvature</text>
<rect x="1468.7" y="661.4" width="312.6" height="13.3" fill="url(#cbh)"/><line x1="1468.7" y1="653.4" x2="1468.7" y2="665.4" stroke="#333" stroke-width="1.1"/><text x="1461.9" y="644.8" font-size="18.6" fill="#333" font-family="Liberation Sans, Arial, sans-serif" text-anchor="middle" >0.0</text><line x1="1509.9" y1="653.4" x2="1509.9" y2="665.4" stroke="#333" stroke-width="1.1"/><text x="1509.8" y="644.8" font-size="18.6" fill="#333" font-family="Liberation Sans, Arial, sans-serif" text-anchor="middle" >0.2</text><line x1="1550.8" y1="653.4" x2="1550.8" y2="665.4" stroke="#333" stroke-width="1.1"/><text x="1551.5" y="644.8" font-size="18.6" fill="#333" font-family="Liberation Sans, Arial, sans-serif" text-anchor="middle" >0.4</text><line x1="1593.2" y1="653.4" x2="1593.2" y2="665.4" stroke="#333" stroke-width="1.1"/><text x="1593.7" y="644.8" font-size="18.6" fill="#333" font-family="Liberation Sans, Arial, sans-serif" text-anchor="middle" >0.6</text><line x1="1635.3" y1="653.4" x2="1635.3" y2="665.4" stroke="#333" stroke-width="1.1"/><text x="1635.0" y="644.8" font-size="18.6" fill="#333" font-family="Liberation Sans, Arial, sans-serif" text-anchor="middle" >0.8</text><line x1="1676.8" y1="653.4" x2="1676.8" y2="665.4" stroke="#333" stroke-width="1.1"/><text x="1677.6" y="644.8" font-size="18.6" fill="#333" font-family="Liberation Sans, Arial, sans-serif" text-anchor="middle" >1</text><line x1="1719.2" y1="653.4" x2="1719.2" y2="665.4" stroke="#333" stroke-width="1.1"/><text x="1719.6" y="644.8" font-size="18.6" fill="#333" font-family="Liberation Sans, Arial, sans-serif" text-anchor="middle" >1.2</text><line x1="1781.3" y1="653.4" x2="1781.3" y2="665.4" stroke="#333" stroke-width="1.1"/><text x="1775.4" y="644.8" font-size="18.6" fill="#333" font-family="Liberation Sans, Arial, sans-serif" text-anchor="middle" >1.5</text><text x="1522.2" y="619.9" font-size="20.5" fill="#222" font-family="Liberation Sans, Arial, sans-serif" textLength="191.2" lengthAdjust="spacingAndGlyphs" >Squared Curvature</text>
<rect x="1475.0" y="1177.7" width="313.2" height="12.9" fill="url(#cbh)"/><line x1="1475.0" y1="1169.7" x2="1475.0" y2="1181.7" stroke="#333" stroke-width="1.1"/><text x="1468.2" y="1160.6" font-size="18.6" fill="#333" font-family="Liberation Sans, Arial, sans-serif" text-anchor="middle" >0.0</text><line x1="1536.3" y1="1169.7" x2="1536.3" y2="1181.7" stroke="#333" stroke-width="1.1"/><text x="1537.3" y="1160.6" font-size="18.6" fill="#333" font-family="Liberation Sans, Arial, sans-serif" text-anchor="middle" >0.02</text><line x1="1600.1" y1="1169.7" x2="1600.1" y2="1181.7" stroke="#333" stroke-width="1.1"/><text x="1600.2" y="1160.6" font-size="18.6" fill="#333" font-family="Liberation Sans, Arial, sans-serif" text-anchor="middle" >0.04</text><line x1="1662.8" y1="1169.7" x2="1662.8" y2="1181.7" stroke="#333" stroke-width="1.1"/><text x="1662.3" y="1160.6" font-size="18.6" fill="#333" font-family="Liberation Sans, Arial, sans-serif" text-anchor="middle" >0.06</text><line x1="1725.5" y1="1169.7" x2="1725.5" y2="1181.7" stroke="#333" stroke-width="1.1"/><text x="1725.2" y="1160.6" font-size="18.6" fill="#333" font-family="Liberation Sans, Arial, sans-serif" text-anchor="middle" >0.08</text><line x1="1788.2" y1="1169.7" x2="1788.2" y2="1181.7" stroke="#333" stroke-width="1.1"/><text x="1782.5" y="1160.6" font-size="18.6" fill="#333" font-family="Liberation Sans, Arial, sans-serif" text-anchor="middle" >0.10</text><text x="1531.2" y="1139.3" font-size="20.5" fill="#222" font-family="Liberation Sans, Arial, sans-serif" textLength="234.2" lengthAdjust="spacingAndGlyphs" >Derivative of Curvature</text>
<text x="371.4" y="1235.6" font-size="43.5" fill="#000" font-family="Liberation Sans, Arial, sans-serif" textLength="410.3" lengthAdjust="spacingAndGlyphs" >Curvature Definition</text>
<circle cx="597" cy="1428.9" r="113.4" fill="none" stroke="#7a7a7a" stroke-width="1.3"/>
<path d="M260.8,1636.2 C263.9,1630.5 273.1,1612.4 279.5,1601.7 C285.9,1591.0 292.6,1581.1 299.2,1572.2 C305.8,1563.3 312.3,1555.4 318.9,1548.5 C325.5,1541.6 332.0,1536.0 338.6,1530.8 C345.2,1525.5 351.7,1520.9 358.3,1517.0 C364.9,1513.1 371.4,1509.7 378.0,1507.2 C384.6,1504.8 391.1,1503.3 397.7,1502.3 C404.3,1501.3 410.8,1501.2 417.4,1501.3 C423.9,1501.4 430.4,1501.9 437.0,1502.9 C443.6,1503.9 450.1,1505.5 456.7,1507.2 C463.3,1508.9 469.8,1511.0 476.4,1513.1 C483.0,1515.2 489.5,1517.7 496.1,1520.0 C502.7,1522.3 509.7,1525.1 515.8,1526.9 C521.9,1528.7 525.4,1529.2 532.8,1530.8 C540.2,1532.4 549.5,1534.7 560.0,1536.5 C570.5,1538.3 585.1,1541.5 595.6,1541.8 C606.1,1542.1 615.6,1539.6 622.7,1538.1 C629.8,1536.6 632.5,1535.0 638.1,1532.7 C643.7,1530.4 650.2,1527.6 656.2,1524.1 C662.2,1520.5 668.2,1516.5 674.3,1511.4 C680.3,1506.3 686.5,1499.9 692.5,1493.3 C698.5,1486.7 705.3,1478.4 710.6,1471.6 C715.9,1464.8 720.1,1458.9 724.2,1452.5 C728.3,1446.1 731.9,1439.1 735.0,1433.0 C738.1,1426.9 740.1,1422.0 743.0,1416.0 C745.9,1410.0 749.1,1403.9 752.6,1396.7 C756.1,1389.5 760.3,1381.3 763.9,1373.1 C767.5,1364.9 770.9,1356.0 774.1,1347.5 C777.4,1339.0 780.1,1331.2 783.4,1321.8 C786.6,1312.4 790.5,1300.8 793.6,1291.0 C796.7,1281.2 800.4,1267.5 801.8,1262.8" fill="none" stroke="#4f8f4f" stroke-width="1.4"/>
<line x1="598" y1="1431.9" x2="622" y2="1538.3" stroke="#3a3a3a" stroke-width="1.5"/>
<circle cx="622" cy="1538.3" r="2.6" fill="#222"/>
<circle cx="597.2" cy="1428.4" r="4.1" fill="#f05a0a" stroke="#7a2a00" stroke-width="0.8"/>
<line x1="436.1" y1="1380.1" x2="572" y2="1420" stroke="#f21818" stroke-width="2.2"/>
<path d="M583,1423.3 L564.2,1424.4 L569,1420.5 L567.3,1414.4 Z" fill="#f21818"/>
<line x1="756.4" y1="1446.2" x2="876" y2="1445" stroke="#000" stroke-width="2.6"/>
<path d="M891.8,1444.9 L870.6,1435 L876.5,1444.9 L870.6,1455.1 Z" fill="#000"/>
<text x="805.0" y="1297.2" font-size="37.0" fill="#000" font-family="Liberation Serif, Times New Roman, serif" font-style="italic" textLength="24.5" lengthAdjust="spacingAndGlyphs" >B</text>
<text x="625.0" y="1579.8" font-size="36.0" fill="#000" font-family="Liberation Serif, Times New Roman, serif" font-style="italic" textLength="21.0" lengthAdjust="spacingAndGlyphs" >P</text>
<text x="272.5" y="1641.1" font-size="36.0" fill="#000" font-family="Liberation Serif, Times New Roman, serif" font-style="italic" textLength="23.5" lengthAdjust="spacingAndGlyphs" >A</text>
<text x="617.5" y="1480.5" font-size="30.0" fill="#000" font-family="Liberation Serif, Times New Roman, serif" font-style="italic" textLength="16.0" lengthAdjust="spacingAndGlyphs" >&#961;</text>
<text x="305.8" y="1366.4" font-size="30.0" fill="#000" font-family="Liberation Sans, Arial, sans-serif" textLength="118.0" lengthAdjust="spacingAndGlyphs" >centre of</text>
<text x="301.5" y="1401.8" font-size="30.0" fill="#000" font-family="Liberation Sans, Arial, sans-serif" textLength="124.8" lengthAdjust="spacingAndGlyphs" >curvature</text>
<text x="291.3" y="1463.6" font-size="30.0" fill="#000" font-family="Liberation Sans, Arial, sans-serif" textLength="184.7" lengthAdjust="spacingAndGlyphs" >curvature=1/&#961;</text></svg></body></html>
